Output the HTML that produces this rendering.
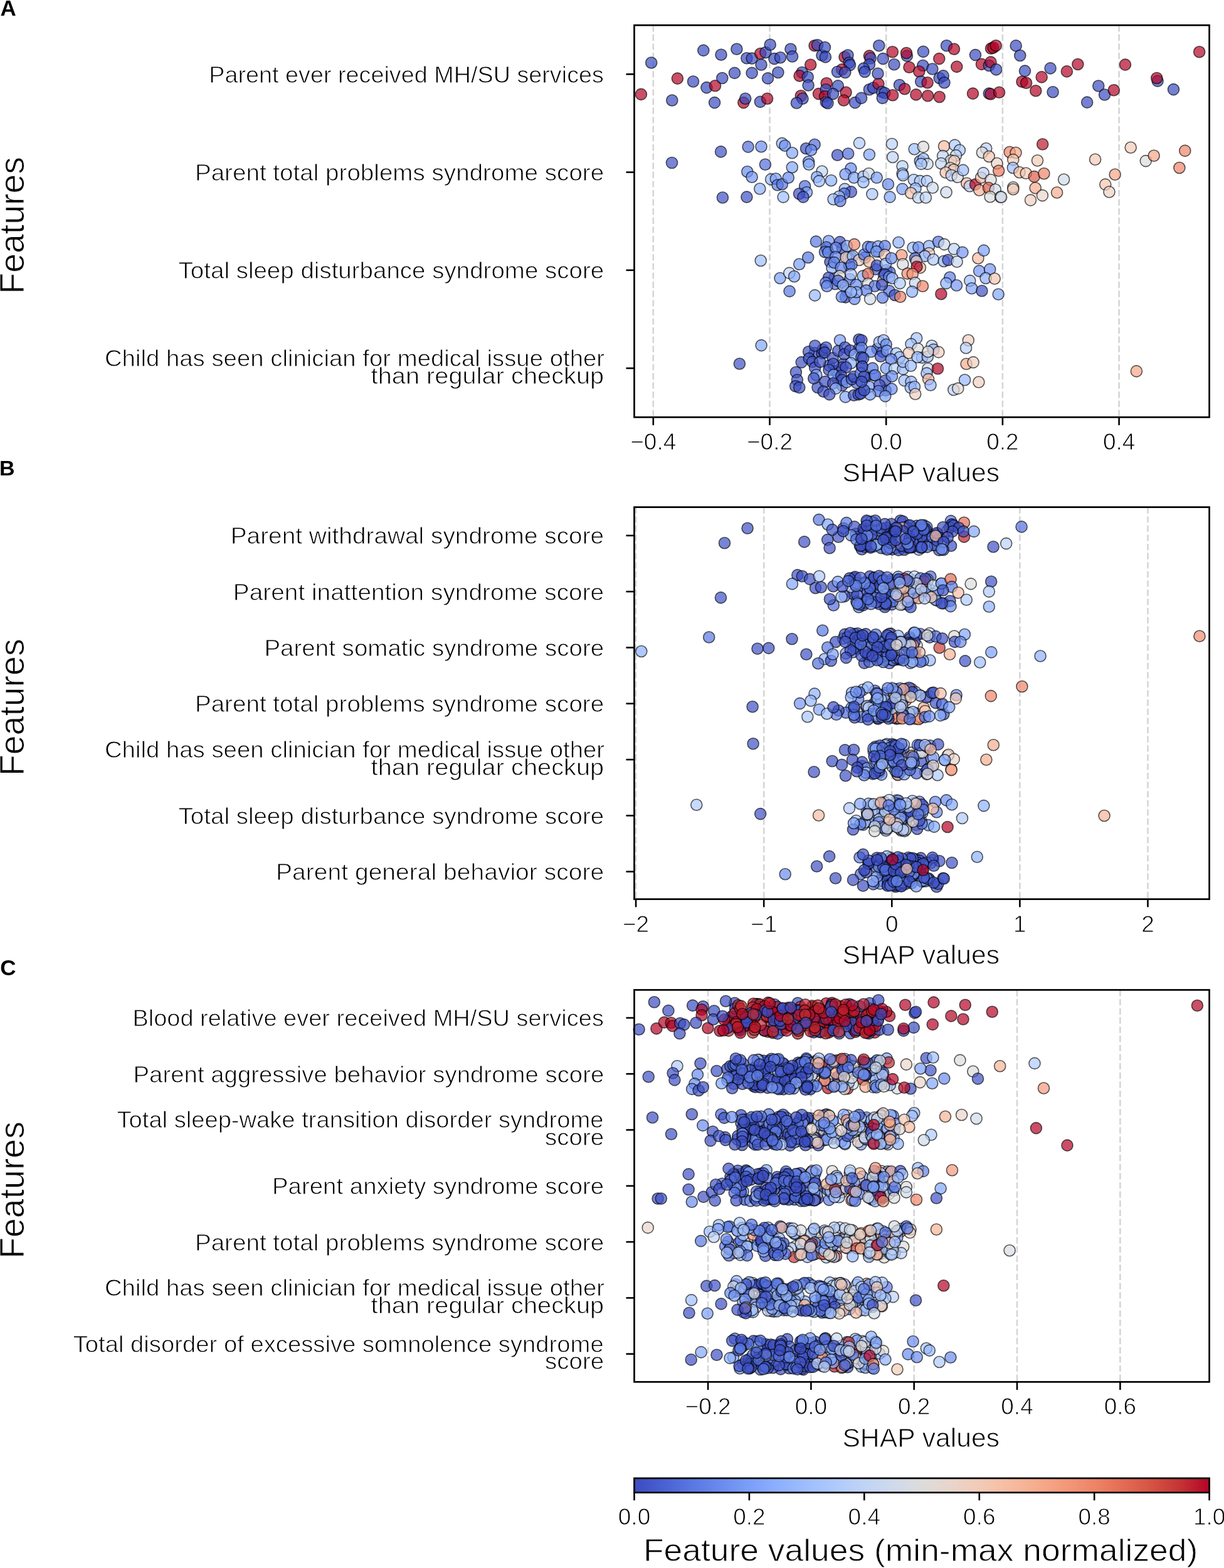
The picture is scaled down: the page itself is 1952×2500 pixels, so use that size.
<!DOCTYPE html>
<html><head><meta charset="utf-8"><title>SHAP summary</title>
<style>html,body{margin:0;padding:0;background:#fff;}svg{display:block;}text{font-family:"Liberation Sans", Arial, sans-serif;fill:#000;stroke:#fff;stroke-width:0.9px;} text.b{stroke:none;}</style>
</head><body>
<svg width="1952" height="2500" viewBox="0 0 1952 2500">
<rect width="1952" height="2500" fill="#fff"/>
<line x1="1041.8" y1="40.2" x2="1041.8" y2="665.2" stroke="#d5d5d5" stroke-width="2.6" stroke-dasharray="10.2 4.4"/>
<line x1="1227.5" y1="40.2" x2="1227.5" y2="665.2" stroke="#d5d5d5" stroke-width="2.6" stroke-dasharray="10.2 4.4"/>
<line x1="1413.2" y1="40.2" x2="1413.2" y2="665.2" stroke="#d5d5d5" stroke-width="2.6" stroke-dasharray="10.2 4.4"/>
<line x1="1598.9" y1="40.2" x2="1598.9" y2="665.2" stroke="#d5d5d5" stroke-width="2.6" stroke-dasharray="10.2 4.4"/>
<line x1="1784.6" y1="40.2" x2="1784.6" y2="665.2" stroke="#d5d5d5" stroke-width="2.6" stroke-dasharray="10.2 4.4"/>
<g stroke="#000" stroke-opacity="0.65" stroke-width="1.6" fill-opacity="0.7">
<circle cx="1022.4" cy="150.4" r="9.0" fill="#b40426"/>
<circle cx="1038.7" cy="100.0" r="9.0" fill="#3b4cc0"/>
<circle cx="1071.8" cy="160.0" r="9.0" fill="#3b4cc0"/>
<circle cx="1080.4" cy="125.1" r="9.0" fill="#b40426"/>
<circle cx="1105.5" cy="130.0" r="9.0" fill="#3b4cc0"/>
<circle cx="1121.8" cy="80.4" r="9.0" fill="#3b4cc0"/>
<circle cx="1126.9" cy="139.6" r="9.0" fill="#3b4cc0"/>
<circle cx="1140.5" cy="136.7" r="9.0" fill="#b40426"/>
<circle cx="1139.6" cy="163.6" r="9.0" fill="#3b4cc0"/>
<circle cx="1150.0" cy="87.3" r="9.0" fill="#3b4cc0"/>
<circle cx="1151.8" cy="124.5" r="9.0" fill="#3b4cc0"/>
<circle cx="1171.5" cy="116.4" r="9.0" fill="#3b4cc0"/>
<circle cx="1174.9" cy="78.2" r="9.0" fill="#3b4cc0"/>
<circle cx="1190.9" cy="92.7" r="9.0" fill="#3b4cc0"/>
<circle cx="1199.1" cy="93.1" r="9.0" fill="#3b4cc0"/>
<circle cx="1185.8" cy="163.6" r="9.0" fill="#b40426"/>
<circle cx="1188.7" cy="157.3" r="9.0" fill="#3b4cc0"/>
<circle cx="1199.1" cy="116.4" r="9.0" fill="#3b4cc0"/>
<circle cx="1212.7" cy="85.5" r="9.0" fill="#b40426"/>
<circle cx="1220.9" cy="83.6" r="9.0" fill="#3b4cc0"/>
<circle cx="1228.2" cy="71.3" r="9.0" fill="#3b4cc0"/>
<circle cx="1214.0" cy="103.3" r="9.0" fill="#3b4cc0"/>
<circle cx="1212.4" cy="162.4" r="9.0" fill="#3b4cc0"/>
<circle cx="1223.6" cy="157.3" r="9.0" fill="#b40426"/>
<circle cx="1224.5" cy="124.9" r="9.0" fill="#3b4cc0"/>
<circle cx="1234.9" cy="93.6" r="9.0" fill="#3b4cc0"/>
<circle cx="1244.5" cy="91.8" r="9.0" fill="#3b4cc0"/>
<circle cx="1240.9" cy="115.5" r="9.0" fill="#3b4cc0"/>
<circle cx="1260.9" cy="78.2" r="9.0" fill="#3b4cc0"/>
<circle cx="1263.6" cy="90.0" r="9.0" fill="#3b4cc0"/>
<circle cx="1292.7" cy="103.3" r="9.0" fill="#b40426"/>
<circle cx="1279.1" cy="115.5" r="9.0" fill="#3b4cc0"/>
<circle cx="1275.1" cy="120.9" r="9.0" fill="#b40426"/>
<circle cx="1288.2" cy="122.7" r="9.0" fill="#3b4cc0"/>
<circle cx="1289.1" cy="136.0" r="9.0" fill="#3b4cc0"/>
<circle cx="1277.3" cy="152.7" r="9.0" fill="#b40426"/>
<circle cx="1280.0" cy="157.3" r="9.0" fill="#3b4cc0"/>
<circle cx="1270.4" cy="164.2" r="9.0" fill="#3b4cc0"/>
<circle cx="1299.1" cy="72.7" r="9.0" fill="#b40426"/>
<circle cx="1303.6" cy="71.8" r="9.0" fill="#3b4cc0"/>
<circle cx="1310.9" cy="88.2" r="9.0" fill="#3b4cc0"/>
<circle cx="1305.5" cy="149.6" r="9.0" fill="#b40426"/>
<circle cx="1315.5" cy="75.5" r="9.0" fill="#3b4cc0"/>
<circle cx="1316.4" cy="90.9" r="9.0" fill="#3b4cc0"/>
<circle cx="1347.0" cy="91.0" r="9.0" fill="#b40426"/>
<circle cx="1352.0" cy="88.0" r="9.0" fill="#3b4cc0"/>
<circle cx="1354.0" cy="100.0" r="9.0" fill="#3b4cc0"/>
<circle cx="1355.5" cy="103.6" r="9.0" fill="#3b4cc0"/>
<circle cx="1342.7" cy="110.9" r="9.0" fill="#b40426"/>
<circle cx="1335.5" cy="114.5" r="9.0" fill="#3b4cc0"/>
<circle cx="1347.8" cy="115.5" r="9.0" fill="#3b4cc0"/>
<circle cx="1318.2" cy="132.7" r="9.0" fill="#b40426"/>
<circle cx="1336.4" cy="136.9" r="9.0" fill="#3b4cc0"/>
<circle cx="1317.3" cy="142.7" r="9.0" fill="#3b4cc0"/>
<circle cx="1315.5" cy="153.6" r="9.0" fill="#b40426"/>
<circle cx="1328.5" cy="149.6" r="9.0" fill="#3b4cc0"/>
<circle cx="1317.3" cy="162.7" r="9.0" fill="#3b4cc0"/>
<circle cx="1320.0" cy="164.5" r="9.0" fill="#3b4cc0"/>
<circle cx="1349.1" cy="147.3" r="9.0" fill="#b40426"/>
<circle cx="1345.5" cy="160.0" r="9.0" fill="#b40426"/>
<circle cx="1363.6" cy="163.6" r="9.0" fill="#3b4cc0"/>
<circle cx="1373.6" cy="156.4" r="9.0" fill="#3b4cc0"/>
<circle cx="1386.4" cy="142.7" r="9.0" fill="#3b4cc0"/>
<circle cx="1392.7" cy="140.0" r="9.0" fill="#3b4cc0"/>
<circle cx="1400.9" cy="133.6" r="9.0" fill="#b40426"/>
<circle cx="1406.4" cy="146.4" r="9.0" fill="#3b4cc0"/>
<circle cx="1410.9" cy="148.2" r="9.0" fill="#3b4cc0"/>
<circle cx="1407.3" cy="156.4" r="9.0" fill="#3b4cc0"/>
<circle cx="1423.6" cy="151.8" r="9.0" fill="#b40426"/>
<circle cx="1386.4" cy="89.1" r="9.0" fill="#b40426"/>
<circle cx="1388.2" cy="92.7" r="9.0" fill="#3b4cc0"/>
<circle cx="1386.4" cy="102.7" r="9.0" fill="#3b4cc0"/>
<circle cx="1377.3" cy="109.1" r="9.0" fill="#3b4cc0"/>
<circle cx="1379.1" cy="114.5" r="9.0" fill="#3b4cc0"/>
<circle cx="1400.0" cy="117.3" r="9.0" fill="#3b4cc0"/>
<circle cx="1401.8" cy="72.7" r="9.0" fill="#3b4cc0"/>
<circle cx="1408.2" cy="93.6" r="9.0" fill="#3b4cc0"/>
<circle cx="1423.3" cy="82.7" r="9.0" fill="#b40426"/>
<circle cx="1426.0" cy="102.7" r="9.0" fill="#3b4cc0"/>
<circle cx="1446.4" cy="89.1" r="9.0" fill="#3b4cc0"/>
<circle cx="1445.5" cy="84.5" r="9.0" fill="#b40426"/>
<circle cx="1472.4" cy="82.4" r="9.0" fill="#3b4cc0"/>
<circle cx="1450.0" cy="107.3" r="9.0" fill="#b40426"/>
<circle cx="1471.8" cy="104.5" r="9.0" fill="#3b4cc0"/>
<circle cx="1465.8" cy="114.0" r="9.0" fill="#b40426"/>
<circle cx="1486.9" cy="110.0" r="9.0" fill="#3b4cc0"/>
<circle cx="1497.8" cy="93.6" r="9.0" fill="#b40426"/>
<circle cx="1509.6" cy="72.7" r="9.0" fill="#3b4cc0"/>
<circle cx="1521.5" cy="78.2" r="9.0" fill="#b40426"/>
<circle cx="1525.8" cy="106.4" r="9.0" fill="#b40426"/>
<circle cx="1434.5" cy="135.5" r="9.0" fill="#3b4cc0"/>
<circle cx="1442.7" cy="141.8" r="9.0" fill="#b40426"/>
<circle cx="1468.7" cy="130.0" r="9.0" fill="#3b4cc0"/>
<circle cx="1479.1" cy="131.8" r="9.0" fill="#b40426"/>
<circle cx="1498.2" cy="124.5" r="9.0" fill="#3b4cc0"/>
<circle cx="1504.2" cy="120.9" r="9.0" fill="#3b4cc0"/>
<circle cx="1506.0" cy="131.8" r="9.0" fill="#3b4cc0"/>
<circle cx="1460.9" cy="150.9" r="9.0" fill="#b40426"/>
<circle cx="1479.6" cy="152.7" r="9.0" fill="#b40426"/>
<circle cx="1498.2" cy="154.5" r="9.0" fill="#b40426"/>
<circle cx="1555.5" cy="87.6" r="9.0" fill="#3b4cc0"/>
<circle cx="1580.5" cy="77.3" r="9.0" fill="#b40426"/>
<circle cx="1584.0" cy="76.0" r="9.0" fill="#b40426"/>
<circle cx="1588.2" cy="72.7" r="9.0" fill="#b40426"/>
<circle cx="1565.5" cy="102.4" r="9.0" fill="#b40426"/>
<circle cx="1577.3" cy="104.5" r="9.0" fill="#3b4cc0"/>
<circle cx="1580.0" cy="99.1" r="9.0" fill="#b40426"/>
<circle cx="1588.7" cy="110.9" r="9.0" fill="#3b4cc0"/>
<circle cx="1551.5" cy="149.1" r="9.0" fill="#b40426"/>
<circle cx="1577.3" cy="149.1" r="9.0" fill="#3b4cc0"/>
<circle cx="1580.0" cy="150.0" r="9.0" fill="#b40426"/>
<circle cx="1593.6" cy="147.3" r="9.0" fill="#b40426"/>
<circle cx="1620.2" cy="72.9" r="9.0" fill="#3b4cc0"/>
<circle cx="1626.8" cy="88.5" r="9.0" fill="#3b4cc0"/>
<circle cx="1634.5" cy="113.1" r="9.0" fill="#3b4cc0"/>
<circle cx="1630.0" cy="130.2" r="9.0" fill="#b40426"/>
<circle cx="1636.6" cy="132.2" r="9.0" fill="#b40426"/>
<circle cx="1661.2" cy="122.9" r="9.0" fill="#b40426"/>
<circle cx="1675.1" cy="108.9" r="9.0" fill="#3b4cc0"/>
<circle cx="1651.8" cy="144.7" r="9.0" fill="#b40426"/>
<circle cx="1679.1" cy="146.8" r="9.0" fill="#3b4cc0"/>
<circle cx="1701.4" cy="113.9" r="9.0" fill="#b40426"/>
<circle cx="1718.9" cy="102.5" r="9.0" fill="#b40426"/>
<circle cx="1751.8" cy="137.0" r="9.0" fill="#3b4cc0"/>
<circle cx="1761.6" cy="151.0" r="9.0" fill="#3b4cc0"/>
<circle cx="1776.3" cy="143.7" r="9.0" fill="#b40426"/>
<circle cx="1733.7" cy="163.1" r="9.0" fill="#3b4cc0"/>
<circle cx="1794.5" cy="103.1" r="9.0" fill="#b40426"/>
<circle cx="1846.1" cy="129.1" r="9.0" fill="#3b4cc0"/>
<circle cx="1844.8" cy="124.5" r="9.0" fill="#b40426"/>
<circle cx="1871.5" cy="142.6" r="9.0" fill="#3b4cc0"/>
<circle cx="1912.7" cy="82.7" r="9.0" fill="#b40426"/>
<circle cx="1071.5" cy="259.5" r="9.0" fill="#3e51c5"/>
<circle cx="1149.6" cy="241.9" r="9.0" fill="#3e51c5"/>
<circle cx="1152.4" cy="315.0" r="9.0" fill="#3e51c5"/>
<circle cx="1193.1" cy="234.1" r="9.0" fill="#536edd"/>
<circle cx="1214.0" cy="233.7" r="9.0" fill="#6a8bef"/>
<circle cx="1191.8" cy="273.7" r="9.0" fill="#6a8bef"/>
<circle cx="1199.1" cy="282.3" r="9.0" fill="#7597f6"/>
<circle cx="1220.4" cy="262.3" r="9.0" fill="#536edd"/>
<circle cx="1190.9" cy="314.1" r="9.0" fill="#3e51c5"/>
<circle cx="1211.8" cy="301.0" r="9.0" fill="#8db0fe"/>
<circle cx="1247.3" cy="228.6" r="9.0" fill="#9ebeff"/>
<circle cx="1251.8" cy="232.3" r="9.0" fill="#6a8bef"/>
<circle cx="1263.3" cy="243.7" r="9.0" fill="#82a6fb"/>
<circle cx="1263.3" cy="266.8" r="9.0" fill="#82a6fb"/>
<circle cx="1229.6" cy="285.9" r="9.0" fill="#97b8ff"/>
<circle cx="1237.3" cy="285.0" r="9.0" fill="#7b9ff9"/>
<circle cx="1240.0" cy="295.0" r="9.0" fill="#5f7fe8"/>
<circle cx="1247.3" cy="293.7" r="9.0" fill="#5977e3"/>
<circle cx="1257.3" cy="283.2" r="9.0" fill="#6a8bef"/>
<circle cx="1249.1" cy="314.1" r="9.0" fill="#9ebeff"/>
<circle cx="1285.5" cy="236.8" r="9.0" fill="#3e51c5"/>
<circle cx="1299.1" cy="230.5" r="9.0" fill="#536edd"/>
<circle cx="1293.6" cy="239.2" r="9.0" fill="#6a8bef"/>
<circle cx="1289.6" cy="257.7" r="9.0" fill="#6a8bef"/>
<circle cx="1290.0" cy="262.3" r="9.0" fill="#8db0fe"/>
<circle cx="1310.9" cy="273.2" r="9.0" fill="#c0d4f5"/>
<circle cx="1302.7" cy="282.3" r="9.0" fill="#82a6fb"/>
<circle cx="1306.4" cy="288.6" r="9.0" fill="#9ebeff"/>
<circle cx="1283.6" cy="296.8" r="9.0" fill="#536edd"/>
<circle cx="1286.4" cy="306.8" r="9.0" fill="#7b9ff9"/>
<circle cx="1274.5" cy="309.0" r="9.0" fill="#3e51c5"/>
<circle cx="1280.9" cy="314.1" r="9.0" fill="#3e51c5"/>
<circle cx="1370.5" cy="228.1" r="9.0" fill="#afcafc"/>
<circle cx="1335.5" cy="247.2" r="9.0" fill="#3e51c5"/>
<circle cx="1352.7" cy="245.0" r="9.0" fill="#536edd"/>
<circle cx="1386.4" cy="246.5" r="9.0" fill="#82a6fb"/>
<circle cx="1325.5" cy="287.7" r="9.0" fill="#8db0fe"/>
<circle cx="1356.9" cy="268.6" r="9.0" fill="#6a8bef"/>
<circle cx="1348.2" cy="277.7" r="9.0" fill="#7597f6"/>
<circle cx="1361.8" cy="283.2" r="9.0" fill="#82a6fb"/>
<circle cx="1376.9" cy="281.4" r="9.0" fill="#9ebeff"/>
<circle cx="1385.5" cy="276.8" r="9.0" fill="#cfdaea"/>
<circle cx="1376.9" cy="290.5" r="9.0" fill="#9ebeff"/>
<circle cx="1398.2" cy="283.2" r="9.0" fill="#7b9ff9"/>
<circle cx="1347.3" cy="301.4" r="9.0" fill="#9ebeff"/>
<circle cx="1357.3" cy="305.9" r="9.0" fill="#3e51c5"/>
<circle cx="1346.4" cy="308.6" r="9.0" fill="#536edd"/>
<circle cx="1338.2" cy="313.2" r="9.0" fill="#9ebeff"/>
<circle cx="1329.1" cy="317.7" r="9.0" fill="#9ebeff"/>
<circle cx="1340.0" cy="320.5" r="9.0" fill="#5977e3"/>
<circle cx="1390.9" cy="309.5" r="9.0" fill="#a9c6fd"/>
<circle cx="1422.4" cy="229.5" r="9.0" fill="#bad0f8"/>
<circle cx="1423.6" cy="250.5" r="9.0" fill="#c0d4f5"/>
<circle cx="1416.4" cy="293.7" r="9.0" fill="#6a8bef"/>
<circle cx="1419.1" cy="314.1" r="9.0" fill="#82a6fb"/>
<circle cx="1439.1" cy="265.0" r="9.0" fill="#bad0f8"/>
<circle cx="1439.1" cy="276.8" r="9.0" fill="#afcafc"/>
<circle cx="1440.0" cy="279.5" r="9.0" fill="#a9c6fd"/>
<circle cx="1439.1" cy="301.4" r="9.0" fill="#7b9ff9"/>
<circle cx="1458.2" cy="237.7" r="9.0" fill="#9ebeff"/>
<circle cx="1472.4" cy="234.1" r="9.0" fill="#dddcdc"/>
<circle cx="1467.3" cy="256.8" r="9.0" fill="#7b9ff9"/>
<circle cx="1472.7" cy="253.2" r="9.0" fill="#9ebeff"/>
<circle cx="1479.1" cy="261.4" r="9.0" fill="#cfdaea"/>
<circle cx="1469.1" cy="261.4" r="9.0" fill="#afcafc"/>
<circle cx="1457.3" cy="286.8" r="9.0" fill="#afcafc"/>
<circle cx="1467.3" cy="288.6" r="9.0" fill="#afcafc"/>
<circle cx="1478.2" cy="288.6" r="9.0" fill="#afcafc"/>
<circle cx="1460.0" cy="300.5" r="9.0" fill="#9ebeff"/>
<circle cx="1452.7" cy="307.7" r="9.0" fill="#f4c6af"/>
<circle cx="1464.5" cy="315.0" r="9.0" fill="#c0d4f5"/>
<circle cx="1476.4" cy="315.0" r="9.0" fill="#c0d4f5"/>
<circle cx="1487.3" cy="299.2" r="9.0" fill="#cfdaea"/>
<circle cx="1505.5" cy="233.2" r="9.0" fill="#f6bda2"/>
<circle cx="1522.7" cy="231.4" r="9.0" fill="#afcafc"/>
<circle cx="1530.4" cy="239.5" r="9.0" fill="#a9c6fd"/>
<circle cx="1503.6" cy="248.6" r="9.0" fill="#c0d4f5"/>
<circle cx="1524.5" cy="247.7" r="9.0" fill="#c0d4f5"/>
<circle cx="1516.4" cy="255.9" r="9.0" fill="#dddcdc"/>
<circle cx="1521.8" cy="256.8" r="9.0" fill="#f2cbb7"/>
<circle cx="1500.9" cy="260.5" r="9.0" fill="#c6d6f1"/>
<circle cx="1515.5" cy="267.7" r="9.0" fill="#dddcdc"/>
<circle cx="1520.9" cy="270.5" r="9.0" fill="#f4c6af"/>
<circle cx="1508.2" cy="275.0" r="9.0" fill="#f4c6af"/>
<circle cx="1517.3" cy="279.5" r="9.0" fill="#bad0f8"/>
<circle cx="1527.3" cy="282.3" r="9.0" fill="#d7dce3"/>
<circle cx="1535.8" cy="271.4" r="9.0" fill="#9ebeff"/>
<circle cx="1509.1" cy="306.5" r="9.0" fill="#cfdaea"/>
<circle cx="1541.8" cy="292.3" r="9.0" fill="#f6bda2"/>
<circle cx="1546.4" cy="296.8" r="9.0" fill="#bad0f8"/>
<circle cx="1555.5" cy="294.1" r="9.0" fill="#b40426"/>
<circle cx="1561.8" cy="303.2" r="9.0" fill="#f7b396"/>
<circle cx="1564.5" cy="283.2" r="9.0" fill="#f6bda2"/>
<circle cx="1568.2" cy="275.9" r="9.0" fill="#c0d4f5"/>
<circle cx="1580.0" cy="286.8" r="9.0" fill="#dddcdc"/>
<circle cx="1576.4" cy="299.5" r="9.0" fill="#dc5d4a"/>
<circle cx="1587.3" cy="302.3" r="9.0" fill="#cfdaea"/>
<circle cx="1579.1" cy="313.7" r="9.0" fill="#dddcdc"/>
<circle cx="1595.5" cy="314.1" r="9.0" fill="#dddcdc"/>
<circle cx="1572.7" cy="236.8" r="9.0" fill="#bad0f8"/>
<circle cx="1566.4" cy="243.2" r="9.0" fill="#dddcdc"/>
<circle cx="1577.3" cy="249.5" r="9.0" fill="#f4c6af"/>
<circle cx="1590.0" cy="260.5" r="9.0" fill="#e9d5cb"/>
<circle cx="1592.7" cy="272.3" r="9.0" fill="#ea7b60"/>
<circle cx="1610.2" cy="242.5" r="9.0" fill="#ee8468"/>
<circle cx="1620.0" cy="243.5" r="9.0" fill="#f6a586"/>
<circle cx="1615.8" cy="254.6" r="9.0" fill="#f2cbb7"/>
<circle cx="1615.4" cy="267.5" r="9.0" fill="#9ebeff"/>
<circle cx="1625.8" cy="274.7" r="9.0" fill="#f6bda2"/>
<circle cx="1636.2" cy="276.2" r="9.0" fill="#f2cbb7"/>
<circle cx="1649.3" cy="281.6" r="9.0" fill="#dc5d4a"/>
<circle cx="1664.9" cy="276.8" r="9.0" fill="#ee8468"/>
<circle cx="1654.5" cy="256.0" r="9.0" fill="#f2cbb7"/>
<circle cx="1662.7" cy="230.0" r="9.0" fill="#bb1b2c"/>
<circle cx="1615.8" cy="298.7" r="9.0" fill="#dddcdc"/>
<circle cx="1615.8" cy="301.8" r="9.0" fill="#f4c6af"/>
<circle cx="1651.2" cy="299.7" r="9.0" fill="#f7ac8e"/>
<circle cx="1662.4" cy="311.6" r="9.0" fill="#e9d5cb"/>
<circle cx="1643.5" cy="319.1" r="9.0" fill="#efcfbf"/>
<circle cx="1685.6" cy="307.0" r="9.0" fill="#f7ac8e"/>
<circle cx="1696.6" cy="286.2" r="9.0" fill="#cfdaea"/>
<circle cx="1596.7" cy="314.3" r="9.0" fill="#cfdaea"/>
<circle cx="1746.6" cy="254.3" r="9.0" fill="#f2cbb7"/>
<circle cx="1778.2" cy="278.3" r="9.0" fill="#f6a586"/>
<circle cx="1762.8" cy="294.1" r="9.0" fill="#f4c6af"/>
<circle cx="1769.0" cy="306.0" r="9.0" fill="#edd2c3"/>
<circle cx="1803.2" cy="235.2" r="9.0" fill="#f2cbb7"/>
<circle cx="1827.3" cy="256.6" r="9.0" fill="#dddcdc"/>
<circle cx="1840.2" cy="248.3" r="9.0" fill="#f6a586"/>
<circle cx="1889.8" cy="240.4" r="9.0" fill="#ee8468"/>
<circle cx="1880.9" cy="267.5" r="9.0" fill="#ee8468"/>
<circle cx="1357.4" cy="409.6" r="9.0" fill="#3d50c3"/>
<circle cx="1341.1" cy="450.5" r="9.0" fill="#3d50c3"/>
<circle cx="1355.2" cy="445.0" r="9.0" fill="#536edd"/>
<circle cx="1413.5" cy="430.7" r="9.0" fill="#4e68d8"/>
<circle cx="1379.4" cy="410.8" r="9.0" fill="#6485ec"/>
<circle cx="1354.3" cy="423.3" r="9.0" fill="#5a78e4"/>
<circle cx="1331.0" cy="443.2" r="9.0" fill="#6282ea"/>
<circle cx="1350.6" cy="464.1" r="9.0" fill="#536edd"/>
<circle cx="1396.3" cy="429.2" r="9.0" fill="#4c66d6"/>
<circle cx="1343.3" cy="395.6" r="9.0" fill="#3d50c3"/>
<circle cx="1418.9" cy="434.0" r="9.0" fill="#4f69d9"/>
<circle cx="1409.5" cy="439.2" r="9.0" fill="#688aef"/>
<circle cx="1352.5" cy="410.8" r="9.0" fill="#6687ed"/>
<circle cx="1331.9" cy="452.8" r="9.0" fill="#5572df"/>
<circle cx="1418.2" cy="463.9" r="9.0" fill="#5977e3"/>
<circle cx="1318.9" cy="396.7" r="9.0" fill="#506bda"/>
<circle cx="1401.1" cy="400.9" r="9.0" fill="#4e68d8"/>
<circle cx="1324.0" cy="417.6" r="9.0" fill="#3b4cc0"/>
<circle cx="1213.2" cy="415.5" r="9.0" fill="#9ebeff"/>
<circle cx="1244.0" cy="443.5" r="9.0" fill="#7b9ff9"/>
<circle cx="1258.8" cy="435.4" r="9.0" fill="#c0d4f5"/>
<circle cx="1266.6" cy="440.8" r="9.0" fill="#82a6fb"/>
<circle cx="1274.7" cy="421.3" r="9.0" fill="#7b9ff9"/>
<circle cx="1288.7" cy="410.5" r="9.0" fill="#5977e3"/>
<circle cx="1259.1" cy="464.4" r="9.0" fill="#5977e3"/>
<circle cx="1299.5" cy="470.9" r="9.0" fill="#97b8ff"/>
<circle cx="1301.4" cy="385.1" r="9.0" fill="#5977e3"/>
<circle cx="1321.5" cy="384.2" r="9.0" fill="#7597f6"/>
<circle cx="1339.5" cy="385.9" r="9.0" fill="#3e51c5"/>
<circle cx="1317.9" cy="394.3" r="9.0" fill="#5f7fe8"/>
<circle cx="1315.5" cy="401.7" r="9.0" fill="#5977e3"/>
<circle cx="1320.9" cy="402.4" r="9.0" fill="#6a8bef"/>
<circle cx="1333.0" cy="395.0" r="9.0" fill="#5f7fe8"/>
<circle cx="1350.5" cy="392.3" r="9.0" fill="#8db0fe"/>
<circle cx="1362.4" cy="389.6" r="9.0" fill="#f18d6f"/>
<circle cx="1332.7" cy="409.8" r="9.0" fill="#5f7fe8"/>
<circle cx="1349.2" cy="410.5" r="9.0" fill="#efcfbf"/>
<circle cx="1360.2" cy="408.4" r="9.0" fill="#9ebeff"/>
<circle cx="1370.1" cy="414.5" r="9.0" fill="#efcfbf"/>
<circle cx="1378.2" cy="405.7" r="9.0" fill="#5977e3"/>
<circle cx="1386.3" cy="417.2" r="9.0" fill="#f6bda2"/>
<circle cx="1384.3" cy="393.6" r="9.0" fill="#5f7fe8"/>
<circle cx="1389.7" cy="394.3" r="9.0" fill="#6a8bef"/>
<circle cx="1400.4" cy="392.9" r="9.0" fill="#7b9ff9"/>
<circle cx="1411.2" cy="392.3" r="9.0" fill="#5f7fe8"/>
<circle cx="1397.7" cy="401.0" r="9.0" fill="#7b9ff9"/>
<circle cx="1411.2" cy="406.4" r="9.0" fill="#f2cbb7"/>
<circle cx="1326.9" cy="427.3" r="9.0" fill="#8db0fe"/>
<circle cx="1330.3" cy="418.6" r="9.0" fill="#6a8bef"/>
<circle cx="1341.1" cy="426.7" r="9.0" fill="#5f7fe8"/>
<circle cx="1358.0" cy="421.9" r="9.0" fill="#5977e3"/>
<circle cx="1357.0" cy="437.4" r="9.0" fill="#afcafc"/>
<circle cx="1339.1" cy="440.1" r="9.0" fill="#e2dad5"/>
<circle cx="1321.5" cy="442.8" r="9.0" fill="#3c4ec2"/>
<circle cx="1336.4" cy="447.6" r="9.0" fill="#536edd"/>
<circle cx="1316.8" cy="450.9" r="9.0" fill="#5977e3"/>
<circle cx="1318.8" cy="456.3" r="9.0" fill="#6a8bef"/>
<circle cx="1344.5" cy="455.0" r="9.0" fill="#97b8ff"/>
<circle cx="1365.4" cy="454.3" r="9.0" fill="#6a8bef"/>
<circle cx="1376.2" cy="440.1" r="9.0" fill="#8db0fe"/>
<circle cx="1384.3" cy="436.8" r="9.0" fill="#e36c55"/>
<circle cx="1398.4" cy="423.3" r="9.0" fill="#3e51c5"/>
<circle cx="1412.6" cy="420.6" r="9.0" fill="#9ebeff"/>
<circle cx="1384.3" cy="452.3" r="9.0" fill="#dddcdc"/>
<circle cx="1407.9" cy="448.2" r="9.0" fill="#e9d5cb"/>
<circle cx="1411.2" cy="437.4" r="9.0" fill="#3e51c5"/>
<circle cx="1395.0" cy="456.3" r="9.0" fill="#5977e3"/>
<circle cx="1381.6" cy="463.1" r="9.0" fill="#5f7fe8"/>
<circle cx="1406.5" cy="454.3" r="9.0" fill="#3e51c5"/>
<circle cx="1348.5" cy="473.9" r="9.0" fill="#3e51c5"/>
<circle cx="1342.4" cy="473.2" r="9.0" fill="#6a8bef"/>
<circle cx="1362.7" cy="476.6" r="9.0" fill="#6a8bef"/>
<circle cx="1366.0" cy="465.8" r="9.0" fill="#7b9ff9"/>
<circle cx="1357.3" cy="465.8" r="9.0" fill="#9ebeff"/>
<circle cx="1387.6" cy="476.6" r="9.0" fill="#cfdaea"/>
<circle cx="1407.5" cy="474.5" r="9.0" fill="#5f7fe8"/>
<circle cx="1418.0" cy="441.5" r="9.0" fill="#6a8bef"/>
<circle cx="1433.0" cy="386.5" r="9.0" fill="#8db0fe"/>
<circle cx="1437.8" cy="406.7" r="9.0" fill="#f4987a"/>
<circle cx="1439.8" cy="421.3" r="9.0" fill="#d7dce3"/>
<circle cx="1456.0" cy="395.0" r="9.0" fill="#9ebeff"/>
<circle cx="1464.8" cy="394.3" r="9.0" fill="#6a8bef"/>
<circle cx="1481.6" cy="392.3" r="9.0" fill="#8db0fe"/>
<circle cx="1496.5" cy="385.5" r="9.0" fill="#5977e3"/>
<circle cx="1505.9" cy="389.6" r="9.0" fill="#cfdaea"/>
<circle cx="1521.4" cy="397.0" r="9.0" fill="#c0d4f5"/>
<circle cx="1534.9" cy="402.4" r="9.0" fill="#7597f6"/>
<circle cx="1481.6" cy="403.7" r="9.0" fill="#f2cbb7"/>
<circle cx="1474.9" cy="408.4" r="9.0" fill="#8db0fe"/>
<circle cx="1488.4" cy="413.8" r="9.0" fill="#afcafc"/>
<circle cx="1459.4" cy="411.8" r="9.0" fill="#3e51c5"/>
<circle cx="1461.4" cy="416.5" r="9.0" fill="#e9d5cb"/>
<circle cx="1467.4" cy="426.7" r="9.0" fill="#f6bda2"/>
<circle cx="1462.1" cy="425.3" r="9.0" fill="#b40426"/>
<circle cx="1505.2" cy="416.5" r="9.0" fill="#97b8ff"/>
<circle cx="1512.0" cy="414.5" r="9.0" fill="#3e51c5"/>
<circle cx="1526.1" cy="417.2" r="9.0" fill="#c6d6f1"/>
<circle cx="1447.2" cy="436.1" r="9.0" fill="#f18d6f"/>
<circle cx="1455.3" cy="436.8" r="9.0" fill="#f4987a"/>
<circle cx="1422.9" cy="443.5" r="9.0" fill="#9ebeff"/>
<circle cx="1435.1" cy="451.6" r="9.0" fill="#afcafc"/>
<circle cx="1459.4" cy="450.9" r="9.0" fill="#c6d6f1"/>
<circle cx="1471.5" cy="456.3" r="9.0" fill="#ee8468"/>
<circle cx="1454.6" cy="465.1" r="9.0" fill="#8db0fe"/>
<circle cx="1427.0" cy="470.5" r="9.0" fill="#3e51c5"/>
<circle cx="1435.7" cy="473.2" r="9.0" fill="#ee8468"/>
<circle cx="1500.9" cy="468.7" r="9.0" fill="#b40426"/>
<circle cx="1514.7" cy="442.2" r="9.0" fill="#5f7fe8"/>
<circle cx="1509.0" cy="451.6" r="9.0" fill="#8db0fe"/>
<circle cx="1525.5" cy="455.0" r="9.0" fill="#7597f6"/>
<circle cx="1546.8" cy="447.6" r="9.0" fill="#9ebeff"/>
<circle cx="1549.7" cy="459.7" r="9.0" fill="#82a6fb"/>
<circle cx="1565.9" cy="463.8" r="9.0" fill="#3e51c5"/>
<circle cx="1561.6" cy="432.1" r="9.0" fill="#7597f6"/>
<circle cx="1578.7" cy="429.4" r="9.0" fill="#7597f6"/>
<circle cx="1572.0" cy="443.5" r="9.0" fill="#8db0fe"/>
<circle cx="1586.2" cy="444.2" r="9.0" fill="#f4c6af"/>
<circle cx="1559.9" cy="411.8" r="9.0" fill="#f6bda2"/>
<circle cx="1568.9" cy="399.4" r="9.0" fill="#7b9ff9"/>
<circle cx="1592.2" cy="469.2" r="9.0" fill="#82a6fb"/>
<circle cx="1421.6" cy="411.8" r="9.0" fill="#6a8bef"/>
<circle cx="1332.8" cy="591.8" r="9.0" fill="#3c4ec2"/>
<circle cx="1399.1" cy="556.2" r="9.0" fill="#3c4ec2"/>
<circle cx="1322.3" cy="582.7" r="9.0" fill="#4c66d6"/>
<circle cx="1336.3" cy="604.8" r="9.0" fill="#506bda"/>
<circle cx="1304.0" cy="617.7" r="9.0" fill="#3e51c5"/>
<circle cx="1393.3" cy="598.2" r="9.0" fill="#3d50c3"/>
<circle cx="1299.0" cy="562.9" r="9.0" fill="#3c4ec2"/>
<circle cx="1310.8" cy="563.1" r="9.0" fill="#3c4ec2"/>
<circle cx="1366.3" cy="610.6" r="9.0" fill="#4e68d8"/>
<circle cx="1407.7" cy="560.9" r="9.0" fill="#4e68d8"/>
<circle cx="1312.0" cy="557.5" r="9.0" fill="#3c4ec2"/>
<circle cx="1369.9" cy="555.6" r="9.0" fill="#3c4ec2"/>
<circle cx="1342.9" cy="614.5" r="9.0" fill="#3d50c3"/>
<circle cx="1345.0" cy="580.2" r="9.0" fill="#3b4cc0"/>
<circle cx="1412.5" cy="622.2" r="9.0" fill="#3f53c6"/>
<circle cx="1342.8" cy="585.7" r="9.0" fill="#3c4ec2"/>
<circle cx="1379.9" cy="601.7" r="9.0" fill="#3c4ec2"/>
<circle cx="1411.8" cy="606.8" r="9.0" fill="#3c4ec2"/>
<circle cx="1179.4" cy="580.0" r="9.0" fill="#3e51c5"/>
<circle cx="1214.1" cy="550.6" r="9.0" fill="#82a6fb"/>
<circle cx="1269.4" cy="593.5" r="9.0" fill="#3e51c5"/>
<circle cx="1271.4" cy="605.7" r="9.0" fill="#3e51c5"/>
<circle cx="1268.7" cy="615.7" r="9.0" fill="#3e51c5"/>
<circle cx="1274.8" cy="617.8" r="9.0" fill="#3c4ec2"/>
<circle cx="1278.2" cy="577.6" r="9.0" fill="#3e51c5"/>
<circle cx="1289.6" cy="560.7" r="9.0" fill="#3e51c5"/>
<circle cx="1299.7" cy="551.3" r="9.0" fill="#3e51c5"/>
<circle cx="1290.3" cy="571.5" r="9.0" fill="#3c4ec2"/>
<circle cx="1295.7" cy="576.9" r="9.0" fill="#3c4ec2"/>
<circle cx="1299.7" cy="586.4" r="9.0" fill="#3e51c5"/>
<circle cx="1307.8" cy="576.9" r="9.0" fill="#3e51c5"/>
<circle cx="1301.8" cy="597.8" r="9.0" fill="#7b9ff9"/>
<circle cx="1297.7" cy="603.2" r="9.0" fill="#3e51c5"/>
<circle cx="1317.3" cy="554.0" r="9.0" fill="#3e51c5"/>
<circle cx="1315.3" cy="562.1" r="9.0" fill="#3c4ec2"/>
<circle cx="1328.1" cy="570.9" r="9.0" fill="#3e51c5"/>
<circle cx="1328.7" cy="580.3" r="9.0" fill="#3e51c5"/>
<circle cx="1322.0" cy="589.7" r="9.0" fill="#3e51c5"/>
<circle cx="1329.4" cy="597.8" r="9.0" fill="#7b9ff9"/>
<circle cx="1336.8" cy="559.4" r="9.0" fill="#3e51c5"/>
<circle cx="1339.5" cy="542.5" r="9.0" fill="#7b9ff9"/>
<circle cx="1347.6" cy="554.0" r="9.0" fill="#3e51c5"/>
<circle cx="1346.3" cy="564.8" r="9.0" fill="#3e51c5"/>
<circle cx="1355.7" cy="558.7" r="9.0" fill="#3c4ec2"/>
<circle cx="1363.1" cy="565.5" r="9.0" fill="#82a6fb"/>
<circle cx="1357.1" cy="579.0" r="9.0" fill="#8db0fe"/>
<circle cx="1349.0" cy="585.7" r="9.0" fill="#3e51c5"/>
<circle cx="1341.6" cy="599.2" r="9.0" fill="#3c4ec2"/>
<circle cx="1342.9" cy="605.9" r="9.0" fill="#3e51c5"/>
<circle cx="1350.3" cy="609.3" r="9.0" fill="#7b9ff9"/>
<circle cx="1358.4" cy="604.6" r="9.0" fill="#3e51c5"/>
<circle cx="1361.8" cy="600.5" r="9.0" fill="#3c4ec2"/>
<circle cx="1315.9" cy="608.6" r="9.0" fill="#3e51c5"/>
<circle cx="1328.7" cy="611.3" r="9.0" fill="#3c4ec2"/>
<circle cx="1332.8" cy="619.4" r="9.0" fill="#8db0fe"/>
<circle cx="1313.2" cy="624.2" r="9.0" fill="#3c4ec2"/>
<circle cx="1322.7" cy="628.9" r="9.0" fill="#3e51c5"/>
<circle cx="1348.3" cy="632.9" r="9.0" fill="#82a6fb"/>
<circle cx="1361.8" cy="630.2" r="9.0" fill="#3e51c5"/>
<circle cx="1369.2" cy="628.9" r="9.0" fill="#3c4ec2"/>
<circle cx="1369.9" cy="541.2" r="9.0" fill="#3e51c5"/>
<circle cx="1373.9" cy="542.5" r="9.0" fill="#3c4ec2"/>
<circle cx="1373.9" cy="554.7" r="9.0" fill="#6a8bef"/>
<circle cx="1373.9" cy="569.5" r="9.0" fill="#3e51c5"/>
<circle cx="1374.6" cy="584.4" r="9.0" fill="#3e51c5"/>
<circle cx="1372.6" cy="595.1" r="9.0" fill="#6a8bef"/>
<circle cx="1402.4" cy="545.2" r="9.0" fill="#9ebeff"/>
<circle cx="1409.1" cy="542.5" r="9.0" fill="#9ebeff"/>
<circle cx="1413.2" cy="549.3" r="9.0" fill="#6a8bef"/>
<circle cx="1388.9" cy="560.7" r="9.0" fill="#6a8bef"/>
<circle cx="1404.4" cy="568.2" r="9.0" fill="#3e51c5"/>
<circle cx="1414.5" cy="559.4" r="9.0" fill="#7b9ff9"/>
<circle cx="1429.4" cy="563.4" r="9.0" fill="#afcafc"/>
<circle cx="1434.8" cy="569.5" r="9.0" fill="#9ebeff"/>
<circle cx="1421.3" cy="572.9" r="9.0" fill="#5f7fe8"/>
<circle cx="1376.7" cy="570.9" r="9.0" fill="#3e51c5"/>
<circle cx="1375.4" cy="584.4" r="9.0" fill="#3e51c5"/>
<circle cx="1391.6" cy="587.1" r="9.0" fill="#5977e3"/>
<circle cx="1413.2" cy="587.1" r="9.0" fill="#7b9ff9"/>
<circle cx="1426.7" cy="587.7" r="9.0" fill="#c0d4f5"/>
<circle cx="1440.1" cy="588.4" r="9.0" fill="#9ebeff"/>
<circle cx="1440.1" cy="576.9" r="9.0" fill="#9ebeff"/>
<circle cx="1452.6" cy="583.3" r="9.0" fill="#9ebeff"/>
<circle cx="1395.6" cy="598.5" r="9.0" fill="#6a8bef"/>
<circle cx="1422.6" cy="599.9" r="9.0" fill="#6a8bef"/>
<circle cx="1378.1" cy="600.5" r="9.0" fill="#3e51c5"/>
<circle cx="1386.2" cy="616.7" r="9.0" fill="#7b9ff9"/>
<circle cx="1402.4" cy="614.0" r="9.0" fill="#3e51c5"/>
<circle cx="1401.0" cy="623.5" r="9.0" fill="#5977e3"/>
<circle cx="1421.9" cy="620.1" r="9.0" fill="#6a8bef"/>
<circle cx="1411.8" cy="631.6" r="9.0" fill="#7b9ff9"/>
<circle cx="1387.5" cy="628.9" r="9.0" fill="#7b9ff9"/>
<circle cx="1372.7" cy="627.5" r="9.0" fill="#3c4ec2"/>
<circle cx="1378.1" cy="622.1" r="9.0" fill="#3c4ec2"/>
<circle cx="1374.0" cy="608.6" r="9.0" fill="#3e51c5"/>
<circle cx="1461.7" cy="539.2" r="9.0" fill="#a5c3fe"/>
<circle cx="1453.0" cy="548.6" r="9.0" fill="#9ebeff"/>
<circle cx="1463.8" cy="556.0" r="9.0" fill="#dddcdc"/>
<circle cx="1449.3" cy="562.8" r="9.0" fill="#efcfbf"/>
<circle cx="1470.5" cy="570.2" r="9.0" fill="#9ebeff"/>
<circle cx="1463.1" cy="569.5" r="9.0" fill="#9ebeff"/>
<circle cx="1479.3" cy="568.8" r="9.0" fill="#9ebeff"/>
<circle cx="1486.0" cy="551.3" r="9.0" fill="#bad0f8"/>
<circle cx="1488.7" cy="557.4" r="9.0" fill="#97b8ff"/>
<circle cx="1496.8" cy="561.4" r="9.0" fill="#efcfbf"/>
<circle cx="1479.9" cy="560.7" r="9.0" fill="#e2dad5"/>
<circle cx="1479.9" cy="587.7" r="9.0" fill="#cfdaea"/>
<circle cx="1477.9" cy="595.1" r="9.0" fill="#9ebeff"/>
<circle cx="1495.5" cy="587.7" r="9.0" fill="#b40426"/>
<circle cx="1480.6" cy="604.6" r="9.0" fill="#f7b396"/>
<circle cx="1484.0" cy="614.0" r="9.0" fill="#97b8ff"/>
<circle cx="1442.2" cy="606.6" r="9.0" fill="#9ebeff"/>
<circle cx="1453.0" cy="608.6" r="9.0" fill="#97b8ff"/>
<circle cx="1452.3" cy="618.1" r="9.0" fill="#97b8ff"/>
<circle cx="1458.4" cy="616.7" r="9.0" fill="#97b8ff"/>
<circle cx="1459.7" cy="628.2" r="9.0" fill="#efcfbf"/>
<circle cx="1544.3" cy="542.5" r="9.0" fill="#efcfbf"/>
<circle cx="1540.6" cy="554.7" r="9.0" fill="#bad0f8"/>
<circle cx="1541.1" cy="580.3" r="9.0" fill="#f7ac8e"/>
<circle cx="1552.1" cy="577.6" r="9.0" fill="#efcfbf"/>
<circle cx="1538.6" cy="605.7" r="9.0" fill="#97b8ff"/>
<circle cx="1560.9" cy="609.3" r="9.0" fill="#efcfbf"/>
<circle cx="1520.8" cy="621.5" r="9.0" fill="#bad0f8"/>
<circle cx="1527.8" cy="619.4" r="9.0" fill="#e2dad5"/>
<circle cx="1812.4" cy="591.9" r="9.0" fill="#f6a586"/>
</g>
<rect x="1011.5" y="40.2" width="917.1" height="625.0" fill="none" stroke="#000" stroke-width="2.7"/>
<line x1="1041.8" y1="665.2" x2="1041.8" y2="677.9" stroke="#000" stroke-width="2.6"/>
<text x="1041.8" y="717.2" font-size="37" text-anchor="middle">−0.4</text>
<line x1="1227.5" y1="665.2" x2="1227.5" y2="677.9" stroke="#000" stroke-width="2.6"/>
<text x="1227.5" y="717.2" font-size="37" text-anchor="middle">−0.2</text>
<line x1="1413.2" y1="665.2" x2="1413.2" y2="677.9" stroke="#000" stroke-width="2.6"/>
<text x="1413.2" y="717.2" font-size="37" text-anchor="middle">0.0</text>
<line x1="1598.9" y1="665.2" x2="1598.9" y2="677.9" stroke="#000" stroke-width="2.6"/>
<text x="1598.9" y="717.2" font-size="37" text-anchor="middle">0.2</text>
<line x1="1784.6" y1="665.2" x2="1784.6" y2="677.9" stroke="#000" stroke-width="2.6"/>
<text x="1784.6" y="717.2" font-size="37" text-anchor="middle">0.4</text>
<text x="1343.4" y="768.4" font-size="42" textLength="250.8" lengthAdjust="spacingAndGlyphs" font-weight="normal">SHAP values</text>
<line x1="998.5" y1="118.3" x2="1011.5" y2="118.3" stroke="#000" stroke-width="2.6"/>
<text x="333.3" y="131.7" font-size="37.5" textLength="629.6" lengthAdjust="spacingAndGlyphs" font-weight="normal">Parent ever received MH/SU services</text>
<line x1="998.5" y1="274.6" x2="1011.5" y2="274.6" stroke="#000" stroke-width="2.6"/>
<text x="310.9" y="288.0" font-size="37.5" textLength="652.3" lengthAdjust="spacingAndGlyphs" font-weight="normal">Parent total problems syndrome score</text>
<line x1="998.5" y1="430.8" x2="1011.5" y2="430.8" stroke="#000" stroke-width="2.6"/>
<text x="284.6" y="444.2" font-size="37.5" textLength="678.6" lengthAdjust="spacingAndGlyphs" font-weight="normal">Total sleep disturbance syndrome score</text>
<line x1="998.5" y1="587.1" x2="1011.5" y2="587.1" stroke="#000" stroke-width="2.6"/>
<text x="166.9" y="584.0" font-size="37.5" textLength="797.2" lengthAdjust="spacingAndGlyphs" font-weight="normal">Child has seen clinician for medical issue other</text>
<text x="591.6" y="611.7" font-size="37.5" textLength="371.6" lengthAdjust="spacingAndGlyphs" font-weight="normal">than regular checkup</text>
<text transform="translate(38.3,468.7) rotate(-90)" x="0" y="0" font-size="55" textLength="218.7" lengthAdjust="spacingAndGlyphs">Features</text>
<text x="0.4" y="24.6" font-size="35" font-weight="bold" class="b">A</text>
<line x1="1014.1" y1="808.6" x2="1014.1" y2="1433.6" stroke="#d5d5d5" stroke-width="2.6" stroke-dasharray="10.2 4.4"/>
<line x1="1218.2" y1="808.6" x2="1218.2" y2="1433.6" stroke="#d5d5d5" stroke-width="2.6" stroke-dasharray="10.2 4.4"/>
<line x1="1422.3" y1="808.6" x2="1422.3" y2="1433.6" stroke="#d5d5d5" stroke-width="2.6" stroke-dasharray="10.2 4.4"/>
<line x1="1626.4" y1="808.6" x2="1626.4" y2="1433.6" stroke="#d5d5d5" stroke-width="2.6" stroke-dasharray="10.2 4.4"/>
<line x1="1830.5" y1="808.6" x2="1830.5" y2="1433.6" stroke="#d5d5d5" stroke-width="2.6" stroke-dasharray="10.2 4.4"/>
<g stroke="#000" stroke-opacity="0.65" stroke-width="1.6" fill-opacity="0.7">
<circle cx="1488.0" cy="866.6" r="9.0" fill="#3e51c5"/>
<circle cx="1495.2" cy="851.5" r="9.0" fill="#4e68d8"/>
<circle cx="1439.0" cy="870.1" r="9.0" fill="#4c66d6"/>
<circle cx="1436.0" cy="830.0" r="9.0" fill="#3f53c6"/>
<circle cx="1444.4" cy="873.2" r="9.0" fill="#3b4cc0"/>
<circle cx="1537.5" cy="855.9" r="9.0" fill="#be242e"/>
<circle cx="1439.8" cy="831.3" r="9.0" fill="#3d50c3"/>
<circle cx="1476.1" cy="853.7" r="9.0" fill="#3c4ec2"/>
<circle cx="1439.7" cy="843.9" r="9.0" fill="#4f69d9"/>
<circle cx="1479.0" cy="856.7" r="9.0" fill="#3c4ec2"/>
<circle cx="1519.1" cy="835.7" r="9.0" fill="#3f53c6"/>
<circle cx="1425.8" cy="864.1" r="9.0" fill="#be242e"/>
<circle cx="1462.3" cy="844.5" r="9.0" fill="#506bda"/>
<circle cx="1371.3" cy="870.6" r="9.0" fill="#3e51c5"/>
<circle cx="1462.8" cy="868.2" r="9.0" fill="#3c4ec2"/>
<circle cx="1437.2" cy="856.3" r="9.0" fill="#3f53c6"/>
<circle cx="1395.9" cy="854.3" r="9.0" fill="#3e51c5"/>
<circle cx="1464.3" cy="848.8" r="9.0" fill="#3b4cc0"/>
<circle cx="1497.6" cy="877.1" r="9.0" fill="#3d50c3"/>
<circle cx="1448.9" cy="838.1" r="9.0" fill="#536edd"/>
<circle cx="1437.2" cy="871.2" r="9.0" fill="#3e51c5"/>
<circle cx="1374.4" cy="875.7" r="9.0" fill="#3d50c3"/>
<circle cx="1423.1" cy="875.9" r="9.0" fill="#4e68d8"/>
<circle cx="1486.3" cy="869.3" r="9.0" fill="#afcafc"/>
<circle cx="1449.8" cy="856.9" r="9.0" fill="#3b4cc0"/>
<circle cx="1379.3" cy="871.7" r="9.0" fill="#3c4ec2"/>
<circle cx="1378.2" cy="847.1" r="9.0" fill="#3e51c5"/>
<circle cx="1428.5" cy="859.9" r="9.0" fill="#3d50c3"/>
<circle cx="1462.0" cy="838.4" r="9.0" fill="#4f69d9"/>
<circle cx="1435.7" cy="868.3" r="9.0" fill="#7396f5"/>
<circle cx="1427.1" cy="862.3" r="9.0" fill="#3b4cc0"/>
<circle cx="1516.4" cy="830.6" r="9.0" fill="#5d7ce6"/>
<circle cx="1478.7" cy="846.5" r="9.0" fill="#3b4cc0"/>
<circle cx="1470.0" cy="855.3" r="9.0" fill="#3c4ec2"/>
<circle cx="1418.2" cy="845.4" r="9.0" fill="#3b4cc0"/>
<circle cx="1381.9" cy="848.5" r="9.0" fill="#3c4ec2"/>
<circle cx="1504.9" cy="854.4" r="9.0" fill="#3e51c5"/>
<circle cx="1491.0" cy="869.2" r="9.0" fill="#3b4cc0"/>
<circle cx="1473.4" cy="837.6" r="9.0" fill="#3f53c6"/>
<circle cx="1487.0" cy="856.1" r="9.0" fill="#516ddb"/>
<circle cx="1446.1" cy="840.7" r="9.0" fill="#3d50c3"/>
<circle cx="1378.2" cy="857.6" r="9.0" fill="#3e51c5"/>
<circle cx="1465.3" cy="876.4" r="9.0" fill="#90b2fe"/>
<circle cx="1443.7" cy="871.2" r="9.0" fill="#516ddb"/>
<circle cx="1428.2" cy="842.1" r="9.0" fill="#4f69d9"/>
<circle cx="1383.3" cy="831.8" r="9.0" fill="#7a9df8"/>
<circle cx="1405.0" cy="871.6" r="9.0" fill="#a1c0ff"/>
<circle cx="1418.2" cy="854.4" r="9.0" fill="#3d50c3"/>
<circle cx="1448.5" cy="850.7" r="9.0" fill="#3b4cc0"/>
<circle cx="1494.8" cy="861.9" r="9.0" fill="#3e51c5"/>
<circle cx="1388.4" cy="873.1" r="9.0" fill="#3c4ec2"/>
<circle cx="1511.2" cy="845.7" r="9.0" fill="#f7b497"/>
<circle cx="1413.5" cy="862.3" r="9.0" fill="#799cf8"/>
<circle cx="1456.4" cy="846.4" r="9.0" fill="#abc8fd"/>
<circle cx="1442.7" cy="841.2" r="9.0" fill="#3b4cc0"/>
<circle cx="1477.9" cy="840.2" r="9.0" fill="#6a8bef"/>
<circle cx="1516.6" cy="870.3" r="9.0" fill="#3d50c3"/>
<circle cx="1406.8" cy="858.9" r="9.0" fill="#aac7fd"/>
<circle cx="1517.4" cy="836.4" r="9.0" fill="#3b4cc0"/>
<circle cx="1447.0" cy="871.5" r="9.0" fill="#7396f5"/>
<circle cx="1434.3" cy="846.3" r="9.0" fill="#4e68d8"/>
<circle cx="1387.8" cy="840.7" r="9.0" fill="#3c4ec2"/>
<circle cx="1470.6" cy="872.7" r="9.0" fill="#506bda"/>
<circle cx="1395.0" cy="867.7" r="9.0" fill="#536edd"/>
<circle cx="1439.5" cy="862.1" r="9.0" fill="#3b4cc0"/>
<circle cx="1439.7" cy="841.4" r="9.0" fill="#f6bfa6"/>
<circle cx="1421.5" cy="835.5" r="9.0" fill="#3c4ec2"/>
<circle cx="1429.2" cy="873.7" r="9.0" fill="#516ddb"/>
<circle cx="1409.1" cy="873.6" r="9.0" fill="#3c4ec2"/>
<circle cx="1409.5" cy="861.2" r="9.0" fill="#3b4cc0"/>
<circle cx="1433.0" cy="877.1" r="9.0" fill="#3e51c5"/>
<circle cx="1392.9" cy="833.0" r="9.0" fill="#7a9df8"/>
<circle cx="1442.1" cy="876.5" r="9.0" fill="#3c4ec2"/>
<circle cx="1337.1" cy="856.0" r="9.0" fill="#3f53c6"/>
<circle cx="1345.1" cy="842.4" r="9.0" fill="#3c4ec2"/>
<circle cx="1430.4" cy="843.4" r="9.0" fill="#f6bea4"/>
<circle cx="1448.5" cy="861.2" r="9.0" fill="#516ddb"/>
<circle cx="1400.2" cy="845.7" r="9.0" fill="#4f69d9"/>
<circle cx="1454.5" cy="872.8" r="9.0" fill="#3d50c3"/>
<circle cx="1373.1" cy="858.5" r="9.0" fill="#3b4cc0"/>
<circle cx="1413.8" cy="841.6" r="9.0" fill="#3e51c5"/>
<circle cx="1446.0" cy="860.4" r="9.0" fill="#4e68d8"/>
<circle cx="1437.7" cy="853.6" r="9.0" fill="#5977e3"/>
<circle cx="1349.9" cy="833.6" r="9.0" fill="#5977e3"/>
<circle cx="1429.3" cy="867.2" r="9.0" fill="#f7b396"/>
<circle cx="1420.9" cy="854.6" r="9.0" fill="#5e7de7"/>
<circle cx="1449.4" cy="872.8" r="9.0" fill="#506bda"/>
<circle cx="1468.4" cy="873.3" r="9.0" fill="#779af7"/>
<circle cx="1437.8" cy="870.3" r="9.0" fill="#3f53c6"/>
<circle cx="1450.9" cy="837.5" r="9.0" fill="#3f53c6"/>
<circle cx="1473.1" cy="842.1" r="9.0" fill="#516ddb"/>
<circle cx="1450.3" cy="855.9" r="9.0" fill="#6485ec"/>
<circle cx="1377.0" cy="848.9" r="9.0" fill="#3c4ec2"/>
<circle cx="1494.1" cy="849.9" r="9.0" fill="#3b4cc0"/>
<circle cx="1439.9" cy="847.0" r="9.0" fill="#3b4cc0"/>
<circle cx="1425.2" cy="849.0" r="9.0" fill="#3e51c5"/>
<circle cx="1514.4" cy="841.2" r="9.0" fill="#3e51c5"/>
<circle cx="1364.9" cy="851.0" r="9.0" fill="#3f53c6"/>
<circle cx="1429.6" cy="841.4" r="9.0" fill="#3d50c3"/>
<circle cx="1437.2" cy="856.8" r="9.0" fill="#bbd1f8"/>
<circle cx="1475.8" cy="843.2" r="9.0" fill="#3b4cc0"/>
<circle cx="1478.5" cy="872.1" r="9.0" fill="#4c66d6"/>
<circle cx="1453.4" cy="872.3" r="9.0" fill="#3f53c6"/>
<circle cx="1455.3" cy="863.6" r="9.0" fill="#3e51c5"/>
<circle cx="1394.7" cy="871.0" r="9.0" fill="#799cf8"/>
<circle cx="1404.7" cy="842.0" r="9.0" fill="#3e51c5"/>
<circle cx="1417.9" cy="866.3" r="9.0" fill="#3f53c6"/>
<circle cx="1421.5" cy="854.7" r="9.0" fill="#3f53c6"/>
<circle cx="1389.3" cy="831.9" r="9.0" fill="#a6c4fe"/>
<circle cx="1405.4" cy="873.8" r="9.0" fill="#82a6fb"/>
<circle cx="1404.4" cy="867.2" r="9.0" fill="#6c8ff1"/>
<circle cx="1415.0" cy="874.3" r="9.0" fill="#8fb1fe"/>
<circle cx="1383.5" cy="868.5" r="9.0" fill="#3c4ec2"/>
<circle cx="1419.3" cy="873.6" r="9.0" fill="#81a4fb"/>
<circle cx="1450.8" cy="858.8" r="9.0" fill="#3b4cc0"/>
<circle cx="1420.4" cy="865.9" r="9.0" fill="#3c4ec2"/>
<circle cx="1462.6" cy="851.0" r="9.0" fill="#3e51c5"/>
<circle cx="1362.7" cy="839.9" r="9.0" fill="#3e51c5"/>
<circle cx="1377.3" cy="843.1" r="9.0" fill="#3c4ec2"/>
<circle cx="1397.7" cy="868.8" r="9.0" fill="#98b9ff"/>
<circle cx="1357.2" cy="853.5" r="9.0" fill="#7295f4"/>
<circle cx="1390.0" cy="843.6" r="9.0" fill="#4e68d8"/>
<circle cx="1411.0" cy="835.6" r="9.0" fill="#3e51c5"/>
<circle cx="1504.3" cy="876.7" r="9.0" fill="#3e51c5"/>
<circle cx="1413.4" cy="857.4" r="9.0" fill="#3e51c5"/>
<circle cx="1395.7" cy="830.0" r="9.0" fill="#3d50c3"/>
<circle cx="1473.2" cy="844.6" r="9.0" fill="#4e68d8"/>
<circle cx="1408.7" cy="861.0" r="9.0" fill="#3c4ec2"/>
<circle cx="1382.1" cy="830.1" r="9.0" fill="#3e51c5"/>
<circle cx="1492.3" cy="854.5" r="9.0" fill="#f6bea4"/>
<circle cx="1372.7" cy="870.0" r="9.0" fill="#3f53c6"/>
<circle cx="1468.3" cy="838.1" r="9.0" fill="#3e51c5"/>
<circle cx="1427.0" cy="847.2" r="9.0" fill="#3d50c3"/>
<circle cx="1389.0" cy="871.3" r="9.0" fill="#3f53c6"/>
<circle cx="1450.6" cy="873.0" r="9.0" fill="#3e51c5"/>
<circle cx="1428.3" cy="861.1" r="9.0" fill="#3d50c3"/>
<circle cx="1365.7" cy="860.1" r="9.0" fill="#516ddb"/>
<circle cx="1447.6" cy="866.8" r="9.0" fill="#6b8df0"/>
<circle cx="1344.7" cy="846.7" r="9.0" fill="#3f53c6"/>
<circle cx="1469.6" cy="837.2" r="9.0" fill="#6687ed"/>
<circle cx="1389.8" cy="852.4" r="9.0" fill="#3e51c5"/>
<circle cx="1428.4" cy="847.0" r="9.0" fill="#3b4cc0"/>
<circle cx="1382.9" cy="854.3" r="9.0" fill="#6e90f2"/>
<circle cx="1373.9" cy="859.0" r="9.0" fill="#3c4ec2"/>
<circle cx="1469.7" cy="872.5" r="9.0" fill="#3b4cc0"/>
<circle cx="1456.6" cy="847.6" r="9.0" fill="#3f53c6"/>
<circle cx="1382.1" cy="838.0" r="9.0" fill="#3f53c6"/>
<circle cx="1444.2" cy="859.2" r="9.0" fill="#3e51c5"/>
<circle cx="1397.3" cy="838.2" r="9.0" fill="#4f69d9"/>
<circle cx="1414.7" cy="876.2" r="9.0" fill="#4f69d9"/>
<circle cx="1393.5" cy="921.1" r="9.0" fill="#4f69d9"/>
<circle cx="1414.8" cy="933.6" r="9.0" fill="#3e51c5"/>
<circle cx="1360.7" cy="947.3" r="9.0" fill="#3d50c3"/>
<circle cx="1369.7" cy="968.0" r="9.0" fill="#688aef"/>
<circle cx="1459.7" cy="940.5" r="9.0" fill="#3b4cc0"/>
<circle cx="1464.1" cy="934.2" r="9.0" fill="#a7c5fe"/>
<circle cx="1427.7" cy="944.5" r="9.0" fill="#7295f4"/>
<circle cx="1455.1" cy="925.1" r="9.0" fill="#afcafc"/>
<circle cx="1425.3" cy="952.0" r="9.0" fill="#5572df"/>
<circle cx="1438.9" cy="963.6" r="9.0" fill="#e1dad6"/>
<circle cx="1357.7" cy="935.9" r="9.0" fill="#aec9fc"/>
<circle cx="1455.5" cy="954.0" r="9.0" fill="#89acfd"/>
<circle cx="1476.8" cy="942.7" r="9.0" fill="#f7b093"/>
<circle cx="1438.3" cy="962.4" r="9.0" fill="#f7b396"/>
<circle cx="1387.4" cy="946.6" r="9.0" fill="#6f92f3"/>
<circle cx="1391.8" cy="934.5" r="9.0" fill="#3c4ec2"/>
<circle cx="1422.4" cy="963.6" r="9.0" fill="#506bda"/>
<circle cx="1383.3" cy="953.5" r="9.0" fill="#3e51c5"/>
<circle cx="1389.1" cy="933.8" r="9.0" fill="#3e51c5"/>
<circle cx="1376.6" cy="964.9" r="9.0" fill="#3b4cc0"/>
<circle cx="1447.5" cy="963.6" r="9.0" fill="#516ddb"/>
<circle cx="1361.8" cy="921.2" r="9.0" fill="#3c4ec2"/>
<circle cx="1432.0" cy="923.5" r="9.0" fill="#a5c3fe"/>
<circle cx="1500.8" cy="930.5" r="9.0" fill="#5572df"/>
<circle cx="1363.8" cy="919.8" r="9.0" fill="#3c4ec2"/>
<circle cx="1449.6" cy="951.9" r="9.0" fill="#5875e1"/>
<circle cx="1483.9" cy="919.3" r="9.0" fill="#536edd"/>
<circle cx="1430.3" cy="926.1" r="9.0" fill="#4f69d9"/>
<circle cx="1411.1" cy="967.7" r="9.0" fill="#3b4cc0"/>
<circle cx="1427.8" cy="935.4" r="9.0" fill="#dfdbd9"/>
<circle cx="1447.5" cy="919.8" r="9.0" fill="#9dbdff"/>
<circle cx="1443.7" cy="955.2" r="9.0" fill="#f59f80"/>
<circle cx="1460.6" cy="941.9" r="9.0" fill="#4e68d8"/>
<circle cx="1372.4" cy="934.0" r="9.0" fill="#3d50c3"/>
<circle cx="1434.8" cy="947.5" r="9.0" fill="#89acfd"/>
<circle cx="1405.2" cy="925.4" r="9.0" fill="#89acfd"/>
<circle cx="1387.2" cy="919.1" r="9.0" fill="#3b4cc0"/>
<circle cx="1394.2" cy="921.1" r="9.0" fill="#3b4cc0"/>
<circle cx="1466.8" cy="943.6" r="9.0" fill="#b50927"/>
<circle cx="1452.2" cy="968.0" r="9.0" fill="#3e51c5"/>
<circle cx="1419.7" cy="949.4" r="9.0" fill="#6f92f3"/>
<circle cx="1473.5" cy="931.1" r="9.0" fill="#89acfd"/>
<circle cx="1430.7" cy="938.7" r="9.0" fill="#506bda"/>
<circle cx="1420.3" cy="930.3" r="9.0" fill="#3c4ec2"/>
<circle cx="1423.2" cy="944.3" r="9.0" fill="#3c4ec2"/>
<circle cx="1447.8" cy="950.3" r="9.0" fill="#5673e0"/>
<circle cx="1482.9" cy="939.9" r="9.0" fill="#8db0fe"/>
<circle cx="1405.2" cy="920.8" r="9.0" fill="#3e51c5"/>
<circle cx="1427.4" cy="958.4" r="9.0" fill="#89acfd"/>
<circle cx="1436.1" cy="964.3" r="9.0" fill="#cdd9ec"/>
<circle cx="1458.4" cy="919.2" r="9.0" fill="#c5d6f2"/>
<circle cx="1416.0" cy="933.5" r="9.0" fill="#6e90f2"/>
<circle cx="1463.6" cy="938.8" r="9.0" fill="#6f92f3"/>
<circle cx="1424.3" cy="947.7" r="9.0" fill="#3c4ec2"/>
<circle cx="1354.7" cy="922.1" r="9.0" fill="#3c4ec2"/>
<circle cx="1487.0" cy="946.8" r="9.0" fill="#84a7fc"/>
<circle cx="1420.9" cy="924.3" r="9.0" fill="#3b4cc0"/>
<circle cx="1379.9" cy="960.7" r="9.0" fill="#516ddb"/>
<circle cx="1416.8" cy="951.2" r="9.0" fill="#3f53c6"/>
<circle cx="1411.6" cy="943.1" r="9.0" fill="#3d50c3"/>
<circle cx="1429.5" cy="944.5" r="9.0" fill="#abc8fd"/>
<circle cx="1389.8" cy="958.4" r="9.0" fill="#7597f6"/>
<circle cx="1411.6" cy="942.7" r="9.0" fill="#3d50c3"/>
<circle cx="1447.8" cy="952.2" r="9.0" fill="#f7aa8c"/>
<circle cx="1427.4" cy="936.0" r="9.0" fill="#d1493f"/>
<circle cx="1403.6" cy="939.1" r="9.0" fill="#3b4cc0"/>
<circle cx="1346.9" cy="950.6" r="9.0" fill="#3c4ec2"/>
<circle cx="1426.8" cy="952.3" r="9.0" fill="#89acfd"/>
<circle cx="1479.2" cy="923.8" r="9.0" fill="#abc8fd"/>
<circle cx="1420.7" cy="944.1" r="9.0" fill="#3c4ec2"/>
<circle cx="1402.0" cy="963.0" r="9.0" fill="#3f53c6"/>
<circle cx="1493.9" cy="957.4" r="9.0" fill="#6b8df0"/>
<circle cx="1410.9" cy="948.0" r="9.0" fill="#5a78e4"/>
<circle cx="1423.5" cy="943.7" r="9.0" fill="#3d50c3"/>
<circle cx="1396.9" cy="953.5" r="9.0" fill="#516ddb"/>
<circle cx="1328.9" cy="934.8" r="9.0" fill="#3f53c6"/>
<circle cx="1425.7" cy="929.5" r="9.0" fill="#d2dbe8"/>
<circle cx="1342.0" cy="951.6" r="9.0" fill="#9dbdff"/>
<circle cx="1464.6" cy="953.8" r="9.0" fill="#f7a688"/>
<circle cx="1423.3" cy="959.0" r="9.0" fill="#516ddb"/>
<circle cx="1413.0" cy="963.5" r="9.0" fill="#5673e0"/>
<circle cx="1365.8" cy="959.0" r="9.0" fill="#3c4ec2"/>
<circle cx="1418.1" cy="927.8" r="9.0" fill="#5875e1"/>
<circle cx="1366.9" cy="948.8" r="9.0" fill="#3c4ec2"/>
<circle cx="1378.9" cy="928.5" r="9.0" fill="#7ea1fa"/>
<circle cx="1401.9" cy="918.4" r="9.0" fill="#4f69d9"/>
<circle cx="1383.5" cy="942.5" r="9.0" fill="#3d50c3"/>
<circle cx="1363.7" cy="931.6" r="9.0" fill="#3b4cc0"/>
<circle cx="1478.7" cy="926.9" r="9.0" fill="#e1dad6"/>
<circle cx="1452.2" cy="938.5" r="9.0" fill="#e1dad6"/>
<circle cx="1434.1" cy="926.4" r="9.0" fill="#85a8fc"/>
<circle cx="1403.8" cy="933.0" r="9.0" fill="#3e51c5"/>
<circle cx="1457.4" cy="945.1" r="9.0" fill="#82a6fb"/>
<circle cx="1412.1" cy="961.8" r="9.0" fill="#3e51c5"/>
<circle cx="1370.5" cy="964.0" r="9.0" fill="#4e68d8"/>
<circle cx="1425.1" cy="933.4" r="9.0" fill="#e1dad6"/>
<circle cx="1397.2" cy="960.3" r="9.0" fill="#3e51c5"/>
<circle cx="1387.2" cy="937.8" r="9.0" fill="#4f69d9"/>
<circle cx="1436.7" cy="933.6" r="9.0" fill="#3e51c5"/>
<circle cx="1366.2" cy="929.8" r="9.0" fill="#516ddb"/>
<circle cx="1476.4" cy="937.2" r="9.0" fill="#799cf8"/>
<circle cx="1467.8" cy="922.1" r="9.0" fill="#6c8ff1"/>
<circle cx="1388.9" cy="963.0" r="9.0" fill="#6485ec"/>
<circle cx="1431.8" cy="950.2" r="9.0" fill="#f7ba9f"/>
<circle cx="1443.9" cy="927.7" r="9.0" fill="#d1dae9"/>
<circle cx="1437.3" cy="936.0" r="9.0" fill="#cbd8ee"/>
<circle cx="1440.4" cy="938.2" r="9.0" fill="#f7b99e"/>
<circle cx="1367.2" cy="962.2" r="9.0" fill="#6687ed"/>
<circle cx="1384.1" cy="955.4" r="9.0" fill="#4f69d9"/>
<circle cx="1329.3" cy="965.0" r="9.0" fill="#536edd"/>
<circle cx="1405.6" cy="951.8" r="9.0" fill="#3d50c3"/>
<circle cx="1473.9" cy="927.0" r="9.0" fill="#cb3e38"/>
<circle cx="1336.2" cy="927.6" r="9.0" fill="#82a6fb"/>
<circle cx="1432.4" cy="919.6" r="9.0" fill="#7b9ff9"/>
<circle cx="1492.0" cy="956.3" r="9.0" fill="#8badfd"/>
<circle cx="1379.0" cy="930.1" r="9.0" fill="#6282ea"/>
<circle cx="1407.7" cy="925.8" r="9.0" fill="#506bda"/>
<circle cx="1475.7" cy="923.0" r="9.0" fill="#3c4ec2"/>
<circle cx="1419.7" cy="930.7" r="9.0" fill="#3c4ec2"/>
<circle cx="1461.8" cy="930.2" r="9.0" fill="#cfdaea"/>
<circle cx="1372.3" cy="921.3" r="9.0" fill="#4f69d9"/>
<circle cx="1469.0" cy="939.7" r="9.0" fill="#c6d6f1"/>
<circle cx="1343.5" cy="935.1" r="9.0" fill="#3e51c5"/>
<circle cx="1408.9" cy="938.0" r="9.0" fill="#90b2fe"/>
<circle cx="1365.1" cy="934.1" r="9.0" fill="#6a8bef"/>
<circle cx="1429.1" cy="947.6" r="9.0" fill="#aec9fc"/>
<circle cx="1496.5" cy="941.0" r="9.0" fill="#89acfd"/>
<circle cx="1414.7" cy="920.5" r="9.0" fill="#536edd"/>
<circle cx="1485.2" cy="952.2" r="9.0" fill="#f3c7b1"/>
<circle cx="1487.9" cy="933.5" r="9.0" fill="#c0d4f5"/>
<circle cx="1449.2" cy="926.9" r="9.0" fill="#4f69d9"/>
<circle cx="1443.0" cy="922.8" r="9.0" fill="#c0282f"/>
<circle cx="1501.5" cy="930.3" r="9.0" fill="#8caffe"/>
<circle cx="1446.3" cy="925.2" r="9.0" fill="#6485ec"/>
<circle cx="1447.9" cy="959.3" r="9.0" fill="#96b7ff"/>
<circle cx="1505.1" cy="962.0" r="9.0" fill="#3e51c5"/>
<circle cx="1433.5" cy="923.6" r="9.0" fill="#3b4cc0"/>
<circle cx="1434.7" cy="929.0" r="9.0" fill="#92b4fe"/>
<circle cx="1474.6" cy="954.1" r="9.0" fill="#a9c6fd"/>
<circle cx="1352.8" cy="926.4" r="9.0" fill="#4e68d8"/>
<circle cx="1423.6" cy="1026.0" r="9.0" fill="#3e51c5"/>
<circle cx="1467.5" cy="1010.8" r="9.0" fill="#5470de"/>
<circle cx="1418.4" cy="1057.3" r="9.0" fill="#4f69d9"/>
<circle cx="1447.7" cy="1031.3" r="9.0" fill="#c7d7f0"/>
<circle cx="1369.4" cy="1033.7" r="9.0" fill="#3f53c6"/>
<circle cx="1362.7" cy="1010.7" r="9.0" fill="#3e51c5"/>
<circle cx="1417.0" cy="1050.8" r="9.0" fill="#3f53c6"/>
<circle cx="1429.0" cy="1051.5" r="9.0" fill="#e6d7cf"/>
<circle cx="1366.1" cy="1029.7" r="9.0" fill="#7699f6"/>
<circle cx="1461.9" cy="1012.4" r="9.0" fill="#3c4ec2"/>
<circle cx="1459.7" cy="1038.8" r="9.0" fill="#3e51c5"/>
<circle cx="1411.2" cy="1026.8" r="9.0" fill="#3e51c5"/>
<circle cx="1349.0" cy="1041.6" r="9.0" fill="#7597f6"/>
<circle cx="1378.4" cy="1057.1" r="9.0" fill="#3c4ec2"/>
<circle cx="1482.9" cy="1052.7" r="9.0" fill="#98b9ff"/>
<circle cx="1344.6" cy="1018.1" r="9.0" fill="#6a8bef"/>
<circle cx="1417.0" cy="1050.2" r="9.0" fill="#80a3fa"/>
<circle cx="1433.4" cy="1047.5" r="9.0" fill="#6b8df0"/>
<circle cx="1402.3" cy="1051.2" r="9.0" fill="#3e51c5"/>
<circle cx="1482.6" cy="1009.8" r="9.0" fill="#cfdaea"/>
<circle cx="1498.2" cy="1032.8" r="9.0" fill="#cc403a"/>
<circle cx="1347.4" cy="1011.4" r="9.0" fill="#3b4cc0"/>
<circle cx="1432.6" cy="1038.0" r="9.0" fill="#3b4cc0"/>
<circle cx="1456.8" cy="1050.9" r="9.0" fill="#5875e1"/>
<circle cx="1449.5" cy="1030.5" r="9.0" fill="#93b5fe"/>
<circle cx="1397.6" cy="1037.3" r="9.0" fill="#3e51c5"/>
<circle cx="1462.1" cy="1029.1" r="9.0" fill="#cbd8ee"/>
<circle cx="1403.5" cy="1022.6" r="9.0" fill="#97b8ff"/>
<circle cx="1414.5" cy="1028.3" r="9.0" fill="#3b4cc0"/>
<circle cx="1418.3" cy="1038.3" r="9.0" fill="#3b4cc0"/>
<circle cx="1390.3" cy="1041.5" r="9.0" fill="#3f53c6"/>
<circle cx="1389.5" cy="1044.4" r="9.0" fill="#3b4cc0"/>
<circle cx="1376.2" cy="1020.1" r="9.0" fill="#3e51c5"/>
<circle cx="1332.7" cy="1023.5" r="9.0" fill="#3c4ec2"/>
<circle cx="1385.2" cy="1022.5" r="9.0" fill="#4c66d6"/>
<circle cx="1457.5" cy="1008.9" r="9.0" fill="#9bbcff"/>
<circle cx="1410.1" cy="1047.7" r="9.0" fill="#3c4ec2"/>
<circle cx="1445.1" cy="1029.3" r="9.0" fill="#c5d6f2"/>
<circle cx="1405.0" cy="1049.2" r="9.0" fill="#4f69d9"/>
<circle cx="1450.8" cy="1016.0" r="9.0" fill="#4e68d8"/>
<circle cx="1451.2" cy="1018.8" r="9.0" fill="#3f53c6"/>
<circle cx="1392.5" cy="1017.1" r="9.0" fill="#7597f6"/>
<circle cx="1432.4" cy="1047.9" r="9.0" fill="#e2dad5"/>
<circle cx="1448.1" cy="1024.8" r="9.0" fill="#3d50c3"/>
<circle cx="1428.2" cy="1024.8" r="9.0" fill="#81a4fb"/>
<circle cx="1390.9" cy="1028.0" r="9.0" fill="#5977e3"/>
<circle cx="1422.7" cy="1051.5" r="9.0" fill="#92b4fe"/>
<circle cx="1393.2" cy="1018.6" r="9.0" fill="#4f69d9"/>
<circle cx="1396.1" cy="1022.0" r="9.0" fill="#3c4ec2"/>
<circle cx="1380.7" cy="1010.9" r="9.0" fill="#3c4ec2"/>
<circle cx="1424.3" cy="1052.7" r="9.0" fill="#506bda"/>
<circle cx="1409.3" cy="1052.3" r="9.0" fill="#6a8bef"/>
<circle cx="1482.6" cy="1016.1" r="9.0" fill="#4e68d8"/>
<circle cx="1425.2" cy="1033.8" r="9.0" fill="#abc8fd"/>
<circle cx="1393.5" cy="1020.1" r="9.0" fill="#6687ed"/>
<circle cx="1397.5" cy="1046.6" r="9.0" fill="#3c4ec2"/>
<circle cx="1351.6" cy="1016.1" r="9.0" fill="#506bda"/>
<circle cx="1404.9" cy="1047.8" r="9.0" fill="#536edd"/>
<circle cx="1367.7" cy="1010.0" r="9.0" fill="#3c4ec2"/>
<circle cx="1365.3" cy="1033.9" r="9.0" fill="#3d50c3"/>
<circle cx="1420.4" cy="1010.3" r="9.0" fill="#3b4cc0"/>
<circle cx="1417.7" cy="1010.9" r="9.0" fill="#a9c6fd"/>
<circle cx="1458.5" cy="1023.3" r="9.0" fill="#3d50c3"/>
<circle cx="1443.1" cy="1039.9" r="9.0" fill="#7b9ff9"/>
<circle cx="1432.3" cy="1013.7" r="9.0" fill="#98b9ff"/>
<circle cx="1451.6" cy="1026.5" r="9.0" fill="#3c4ec2"/>
<circle cx="1383.8" cy="1046.6" r="9.0" fill="#4e68d8"/>
<circle cx="1457.0" cy="1038.7" r="9.0" fill="#7da0f9"/>
<circle cx="1360.8" cy="1028.5" r="9.0" fill="#3d50c3"/>
<circle cx="1421.4" cy="1019.8" r="9.0" fill="#3f53c6"/>
<circle cx="1456.0" cy="1028.8" r="9.0" fill="#f29274"/>
<circle cx="1437.4" cy="1026.2" r="9.0" fill="#f59c7d"/>
<circle cx="1416.8" cy="1013.7" r="9.0" fill="#6c8ff1"/>
<circle cx="1462.3" cy="1051.9" r="9.0" fill="#dddcdc"/>
<circle cx="1415.0" cy="1012.7" r="9.0" fill="#3b4cc0"/>
<circle cx="1371.3" cy="1014.7" r="9.0" fill="#3b4cc0"/>
<circle cx="1434.6" cy="1051.5" r="9.0" fill="#3b4cc0"/>
<circle cx="1429.5" cy="1049.6" r="9.0" fill="#5470de"/>
<circle cx="1386.6" cy="1055.1" r="9.0" fill="#4e68d8"/>
<circle cx="1355.9" cy="1009.3" r="9.0" fill="#3e51c5"/>
<circle cx="1416.1" cy="1045.0" r="9.0" fill="#5572df"/>
<circle cx="1402.4" cy="1023.7" r="9.0" fill="#4e68d8"/>
<circle cx="1421.2" cy="1020.0" r="9.0" fill="#4c66d6"/>
<circle cx="1443.9" cy="1027.2" r="9.0" fill="#80a3fa"/>
<circle cx="1396.7" cy="1011.7" r="9.0" fill="#516ddb"/>
<circle cx="1452.0" cy="1028.2" r="9.0" fill="#c7d7f0"/>
<circle cx="1396.8" cy="1041.2" r="9.0" fill="#3d50c3"/>
<circle cx="1360.5" cy="1039.7" r="9.0" fill="#5977e3"/>
<circle cx="1472.0" cy="1053.3" r="9.0" fill="#82a6fb"/>
<circle cx="1455.8" cy="1043.5" r="9.0" fill="#3d50c3"/>
<circle cx="1435.8" cy="1023.3" r="9.0" fill="#4f69d9"/>
<circle cx="1467.9" cy="1055.2" r="9.0" fill="#506bda"/>
<circle cx="1356.3" cy="1036.7" r="9.0" fill="#3c4ec2"/>
<circle cx="1458.6" cy="1008.7" r="9.0" fill="#7ea1fa"/>
<circle cx="1436.9" cy="1023.6" r="9.0" fill="#c6d6f1"/>
<circle cx="1451.7" cy="1057.1" r="9.0" fill="#8fb1fe"/>
<circle cx="1349.4" cy="1048.6" r="9.0" fill="#3d50c3"/>
<circle cx="1434.4" cy="1043.5" r="9.0" fill="#f7b599"/>
<circle cx="1410.1" cy="1030.9" r="9.0" fill="#3c4ec2"/>
<circle cx="1408.5" cy="1055.5" r="9.0" fill="#5b7ae5"/>
<circle cx="1364.2" cy="1017.0" r="9.0" fill="#3c4ec2"/>
<circle cx="1398.9" cy="1052.5" r="9.0" fill="#4f69d9"/>
<circle cx="1347.9" cy="1023.2" r="9.0" fill="#3f53c6"/>
<circle cx="1434.4" cy="1049.2" r="9.0" fill="#3d50c3"/>
<circle cx="1428.6" cy="1036.5" r="9.0" fill="#c0d4f5"/>
<circle cx="1399.3" cy="1031.8" r="9.0" fill="#3e51c5"/>
<circle cx="1455.0" cy="1055.3" r="9.0" fill="#8badfd"/>
<circle cx="1442.3" cy="1040.8" r="9.0" fill="#5572df"/>
<circle cx="1440.7" cy="1053.0" r="9.0" fill="#5875e1"/>
<circle cx="1374.0" cy="1045.4" r="9.0" fill="#3f53c6"/>
<circle cx="1466.5" cy="1040.2" r="9.0" fill="#f6bea4"/>
<circle cx="1422.6" cy="1041.2" r="9.0" fill="#3b4cc0"/>
<circle cx="1384.6" cy="1043.4" r="9.0" fill="#3e51c5"/>
<circle cx="1421.4" cy="1016.6" r="9.0" fill="#3e51c5"/>
<circle cx="1454.4" cy="1040.3" r="9.0" fill="#5673e0"/>
<circle cx="1492.0" cy="1014.6" r="9.0" fill="#506bda"/>
<circle cx="1380.4" cy="1039.9" r="9.0" fill="#3c4ec2"/>
<circle cx="1392.2" cy="1016.3" r="9.0" fill="#3f53c6"/>
<circle cx="1421.3" cy="1044.5" r="9.0" fill="#3c4ec2"/>
<circle cx="1372.5" cy="1026.7" r="9.0" fill="#5470de"/>
<circle cx="1391.4" cy="1046.0" r="9.0" fill="#3d50c3"/>
<circle cx="1419.2" cy="1027.7" r="9.0" fill="#4c66d6"/>
<circle cx="1375.7" cy="1013.1" r="9.0" fill="#3b4cc0"/>
<circle cx="1478.8" cy="1013.1" r="9.0" fill="#dfdbd9"/>
<circle cx="1429.8" cy="1028.3" r="9.0" fill="#e2dad5"/>
<circle cx="1426.7" cy="1116.4" r="9.0" fill="#3b4cc0"/>
<circle cx="1444.5" cy="1116.7" r="9.0" fill="#f39475"/>
<circle cx="1427.8" cy="1123.7" r="9.0" fill="#799cf8"/>
<circle cx="1395.4" cy="1101.3" r="9.0" fill="#506bda"/>
<circle cx="1461.2" cy="1137.4" r="9.0" fill="#3d50c3"/>
<circle cx="1358.0" cy="1128.4" r="9.0" fill="#85a8fc"/>
<circle cx="1438.0" cy="1127.3" r="9.0" fill="#e3d9d3"/>
<circle cx="1412.8" cy="1105.0" r="9.0" fill="#5e7de7"/>
<circle cx="1502.1" cy="1124.3" r="9.0" fill="#b9d0f9"/>
<circle cx="1391.4" cy="1125.6" r="9.0" fill="#b9d0f9"/>
<circle cx="1381.6" cy="1126.9" r="9.0" fill="#3b4cc0"/>
<circle cx="1422.7" cy="1111.7" r="9.0" fill="#f5c4ac"/>
<circle cx="1481.5" cy="1110.4" r="9.0" fill="#e2dad5"/>
<circle cx="1441.9" cy="1113.6" r="9.0" fill="#f7bca1"/>
<circle cx="1400.9" cy="1128.7" r="9.0" fill="#3d50c3"/>
<circle cx="1439.7" cy="1134.6" r="9.0" fill="#9bbcff"/>
<circle cx="1441.0" cy="1099.0" r="9.0" fill="#516ddb"/>
<circle cx="1414.0" cy="1127.8" r="9.0" fill="#3d50c3"/>
<circle cx="1445.5" cy="1098.0" r="9.0" fill="#efcebd"/>
<circle cx="1466.8" cy="1145.4" r="9.0" fill="#ef886b"/>
<circle cx="1459.5" cy="1146.0" r="9.0" fill="#f7af91"/>
<circle cx="1429.0" cy="1144.9" r="9.0" fill="#edd1c2"/>
<circle cx="1417.6" cy="1118.9" r="9.0" fill="#3d50c3"/>
<circle cx="1451.4" cy="1145.8" r="9.0" fill="#6b8df0"/>
<circle cx="1449.6" cy="1136.6" r="9.0" fill="#82a6fb"/>
<circle cx="1432.1" cy="1100.8" r="9.0" fill="#f7ad90"/>
<circle cx="1428.8" cy="1098.7" r="9.0" fill="#4f69d9"/>
<circle cx="1439.2" cy="1103.6" r="9.0" fill="#3e51c5"/>
<circle cx="1425.9" cy="1102.2" r="9.0" fill="#ecd3c5"/>
<circle cx="1492.2" cy="1120.6" r="9.0" fill="#3e51c5"/>
<circle cx="1467.7" cy="1108.7" r="9.0" fill="#f29072"/>
<circle cx="1435.1" cy="1121.7" r="9.0" fill="#3c4ec2"/>
<circle cx="1426.4" cy="1107.8" r="9.0" fill="#f6bea4"/>
<circle cx="1453.7" cy="1098.5" r="9.0" fill="#f6a586"/>
<circle cx="1467.6" cy="1142.6" r="9.0" fill="#edd2c3"/>
<circle cx="1422.5" cy="1134.5" r="9.0" fill="#7295f4"/>
<circle cx="1445.8" cy="1142.6" r="9.0" fill="#f7b396"/>
<circle cx="1383.4" cy="1129.2" r="9.0" fill="#a9c6fd"/>
<circle cx="1362.2" cy="1129.8" r="9.0" fill="#6687ed"/>
<circle cx="1376.0" cy="1099.7" r="9.0" fill="#bed2f6"/>
<circle cx="1418.8" cy="1142.5" r="9.0" fill="#516ddb"/>
<circle cx="1414.0" cy="1130.5" r="9.0" fill="#3c4ec2"/>
<circle cx="1389.0" cy="1134.6" r="9.0" fill="#98b9ff"/>
<circle cx="1384.1" cy="1096.0" r="9.0" fill="#8db0fe"/>
<circle cx="1439.9" cy="1137.9" r="9.0" fill="#f18d6f"/>
<circle cx="1410.4" cy="1124.4" r="9.0" fill="#97b8ff"/>
<circle cx="1407.2" cy="1142.2" r="9.0" fill="#7093f3"/>
<circle cx="1391.9" cy="1123.2" r="9.0" fill="#3b4cc0"/>
<circle cx="1384.7" cy="1140.8" r="9.0" fill="#5f7fe8"/>
<circle cx="1397.8" cy="1114.7" r="9.0" fill="#7396f5"/>
<circle cx="1504.9" cy="1138.8" r="9.0" fill="#3f53c6"/>
<circle cx="1430.3" cy="1115.6" r="9.0" fill="#f7b497"/>
<circle cx="1430.0" cy="1146.0" r="9.0" fill="#3b4cc0"/>
<circle cx="1473.2" cy="1128.1" r="9.0" fill="#f7a889"/>
<circle cx="1349.1" cy="1136.2" r="9.0" fill="#506bda"/>
<circle cx="1458.4" cy="1106.0" r="9.0" fill="#b2ccfb"/>
<circle cx="1358.6" cy="1104.5" r="9.0" fill="#96b7ff"/>
<circle cx="1460.2" cy="1103.6" r="9.0" fill="#88abfd"/>
<circle cx="1337.2" cy="1132.7" r="9.0" fill="#3c4ec2"/>
<circle cx="1401.4" cy="1124.1" r="9.0" fill="#7ea1fa"/>
<circle cx="1408.4" cy="1108.6" r="9.0" fill="#9fbfff"/>
<circle cx="1426.6" cy="1135.7" r="9.0" fill="#f5a081"/>
<circle cx="1399.4" cy="1112.1" r="9.0" fill="#a5c3fe"/>
<circle cx="1373.4" cy="1143.2" r="9.0" fill="#4f69d9"/>
<circle cx="1438.3" cy="1118.8" r="9.0" fill="#516ddb"/>
<circle cx="1368.7" cy="1114.6" r="9.0" fill="#5f7fe8"/>
<circle cx="1445.3" cy="1137.9" r="9.0" fill="#5673e0"/>
<circle cx="1436.6" cy="1115.1" r="9.0" fill="#dddcdc"/>
<circle cx="1411.5" cy="1116.7" r="9.0" fill="#96b7ff"/>
<circle cx="1412.2" cy="1129.8" r="9.0" fill="#3c4ec2"/>
<circle cx="1433.4" cy="1145.2" r="9.0" fill="#f39475"/>
<circle cx="1426.2" cy="1137.8" r="9.0" fill="#f6bda2"/>
<circle cx="1382.6" cy="1125.6" r="9.0" fill="#b5cdfa"/>
<circle cx="1400.2" cy="1146.2" r="9.0" fill="#3f53c6"/>
<circle cx="1393.6" cy="1127.9" r="9.0" fill="#9dbdff"/>
<circle cx="1363.0" cy="1144.0" r="9.0" fill="#3e51c5"/>
<circle cx="1477.2" cy="1111.9" r="9.0" fill="#3d50c3"/>
<circle cx="1385.5" cy="1128.4" r="9.0" fill="#bbd1f8"/>
<circle cx="1390.6" cy="1138.3" r="9.0" fill="#3d50c3"/>
<circle cx="1449.9" cy="1096.5" r="9.0" fill="#3f53c6"/>
<circle cx="1404.8" cy="1114.7" r="9.0" fill="#adc9fd"/>
<circle cx="1370.6" cy="1103.9" r="9.0" fill="#516ddb"/>
<circle cx="1417.8" cy="1127.2" r="9.0" fill="#3b4cc0"/>
<circle cx="1423.5" cy="1144.1" r="9.0" fill="#f39577"/>
<circle cx="1454.7" cy="1103.5" r="9.0" fill="#3d50c3"/>
<circle cx="1448.8" cy="1136.9" r="9.0" fill="#e5d8d1"/>
<circle cx="1416.9" cy="1145.7" r="9.0" fill="#3e51c5"/>
<circle cx="1435.4" cy="1097.5" r="9.0" fill="#7597f6"/>
<circle cx="1440.8" cy="1099.0" r="9.0" fill="#f7b599"/>
<circle cx="1475.4" cy="1133.8" r="9.0" fill="#f1cdba"/>
<circle cx="1383.4" cy="1141.5" r="9.0" fill="#7699f6"/>
<circle cx="1401.7" cy="1124.5" r="9.0" fill="#6180e9"/>
<circle cx="1361.8" cy="1139.7" r="9.0" fill="#5d7ce6"/>
<circle cx="1467.2" cy="1109.1" r="9.0" fill="#a6c4fe"/>
<circle cx="1499.5" cy="1140.6" r="9.0" fill="#8caffe"/>
<circle cx="1416.1" cy="1141.4" r="9.0" fill="#516ddb"/>
<circle cx="1429.7" cy="1103.7" r="9.0" fill="#5470de"/>
<circle cx="1438.6" cy="1124.6" r="9.0" fill="#a9c6fd"/>
<circle cx="1397.7" cy="1105.4" r="9.0" fill="#c0d4f5"/>
<circle cx="1399.4" cy="1144.5" r="9.0" fill="#4f69d9"/>
<circle cx="1333.8" cy="1139.2" r="9.0" fill="#5e7de7"/>
<circle cx="1357.2" cy="1111.7" r="9.0" fill="#88abfd"/>
<circle cx="1362.0" cy="1127.0" r="9.0" fill="#3e51c5"/>
<circle cx="1422.0" cy="1130.2" r="9.0" fill="#b7cff9"/>
<circle cx="1398.0" cy="1139.2" r="9.0" fill="#bbd1f8"/>
<circle cx="1398.0" cy="1141.7" r="9.0" fill="#7da0f9"/>
<circle cx="1384.3" cy="1147.1" r="9.0" fill="#3b4cc0"/>
<circle cx="1393.6" cy="1132.9" r="9.0" fill="#7597f6"/>
<circle cx="1399.0" cy="1106.2" r="9.0" fill="#4e68d8"/>
<circle cx="1406.6" cy="1143.0" r="9.0" fill="#5f7fe8"/>
<circle cx="1502.9" cy="1122.3" r="9.0" fill="#5470de"/>
<circle cx="1414.4" cy="1128.2" r="9.0" fill="#5a78e4"/>
<circle cx="1423.8" cy="1120.7" r="9.0" fill="#3d50c3"/>
<circle cx="1414.0" cy="1142.1" r="9.0" fill="#82a6fb"/>
<circle cx="1412.6" cy="1127.2" r="9.0" fill="#3d50c3"/>
<circle cx="1464.8" cy="1146.5" r="9.0" fill="#f18f71"/>
<circle cx="1405.6" cy="1136.8" r="9.0" fill="#6f92f3"/>
<circle cx="1486.3" cy="1104.9" r="9.0" fill="#5572df"/>
<circle cx="1455.7" cy="1135.1" r="9.0" fill="#a1c0ff"/>
<circle cx="1411.0" cy="1139.6" r="9.0" fill="#3e51c5"/>
<circle cx="1423.1" cy="1097.4" r="9.0" fill="#82a6fb"/>
<circle cx="1475.2" cy="1143.4" r="9.0" fill="#516ddb"/>
<circle cx="1488.8" cy="1104.4" r="9.0" fill="#3c4ec2"/>
<circle cx="1482.0" cy="1142.1" r="9.0" fill="#7396f5"/>
<circle cx="1399.5" cy="1113.5" r="9.0" fill="#8caffe"/>
<circle cx="1440.7" cy="1139.6" r="9.0" fill="#5875e1"/>
<circle cx="1452.2" cy="1111.2" r="9.0" fill="#e9d5cb"/>
<circle cx="1438.9" cy="1139.8" r="9.0" fill="#506bda"/>
<circle cx="1415.8" cy="1097.2" r="9.0" fill="#6282ea"/>
<circle cx="1428.0" cy="1112.7" r="9.0" fill="#bfd3f6"/>
<circle cx="1435.8" cy="1127.4" r="9.0" fill="#bfd3f6"/>
<circle cx="1438.8" cy="1145.5" r="9.0" fill="#f59c7d"/>
<circle cx="1450.8" cy="1146.7" r="9.0" fill="#5673e0"/>
<circle cx="1407.3" cy="1139.6" r="9.0" fill="#3c4ec2"/>
<circle cx="1365.2" cy="1103.0" r="9.0" fill="#7597f6"/>
<circle cx="1386.7" cy="1225.8" r="9.0" fill="#b3cdfb"/>
<circle cx="1387.8" cy="1232.2" r="9.0" fill="#3d50c3"/>
<circle cx="1475.5" cy="1231.1" r="9.0" fill="#3e51c5"/>
<circle cx="1410.4" cy="1198.4" r="9.0" fill="#7699f6"/>
<circle cx="1452.4" cy="1200.1" r="9.0" fill="#e0dbd8"/>
<circle cx="1430.0" cy="1194.1" r="9.0" fill="#6a8bef"/>
<circle cx="1414.5" cy="1186.2" r="9.0" fill="#98b9ff"/>
<circle cx="1415.7" cy="1196.9" r="9.0" fill="#bad0f8"/>
<circle cx="1406.2" cy="1213.0" r="9.0" fill="#6384eb"/>
<circle cx="1478.0" cy="1234.4" r="9.0" fill="#cdd9ec"/>
<circle cx="1408.6" cy="1204.1" r="9.0" fill="#3b4cc0"/>
<circle cx="1455.2" cy="1216.2" r="9.0" fill="#4f69d9"/>
<circle cx="1439.8" cy="1203.0" r="9.0" fill="#536edd"/>
<circle cx="1397.7" cy="1210.1" r="9.0" fill="#5b7ae5"/>
<circle cx="1431.7" cy="1234.8" r="9.0" fill="#516ddb"/>
<circle cx="1431.8" cy="1225.5" r="9.0" fill="#3f53c6"/>
<circle cx="1422.5" cy="1186.5" r="9.0" fill="#3c4ec2"/>
<circle cx="1450.2" cy="1223.9" r="9.0" fill="#e7d7ce"/>
<circle cx="1421.6" cy="1203.3" r="9.0" fill="#3e51c5"/>
<circle cx="1430.7" cy="1223.5" r="9.0" fill="#a5c3fe"/>
<circle cx="1411.5" cy="1187.9" r="9.0" fill="#92b4fe"/>
<circle cx="1402.0" cy="1232.0" r="9.0" fill="#506bda"/>
<circle cx="1468.5" cy="1213.3" r="9.0" fill="#3d50c3"/>
<circle cx="1434.2" cy="1193.5" r="9.0" fill="#afcafc"/>
<circle cx="1440.7" cy="1194.2" r="9.0" fill="#5977e3"/>
<circle cx="1393.1" cy="1198.0" r="9.0" fill="#84a7fc"/>
<circle cx="1420.5" cy="1208.9" r="9.0" fill="#3b4cc0"/>
<circle cx="1435.8" cy="1210.8" r="9.0" fill="#6a8bef"/>
<circle cx="1423.5" cy="1222.7" r="9.0" fill="#aec9fc"/>
<circle cx="1431.9" cy="1207.8" r="9.0" fill="#5470de"/>
<circle cx="1411.9" cy="1200.8" r="9.0" fill="#8caffe"/>
<circle cx="1485.3" cy="1208.8" r="9.0" fill="#506bda"/>
<circle cx="1399.2" cy="1206.3" r="9.0" fill="#3d50c3"/>
<circle cx="1431.8" cy="1235.5" r="9.0" fill="#f7b599"/>
<circle cx="1396.2" cy="1190.5" r="9.0" fill="#4e68d8"/>
<circle cx="1428.1" cy="1229.5" r="9.0" fill="#4e68d8"/>
<circle cx="1436.4" cy="1219.3" r="9.0" fill="#7da0f9"/>
<circle cx="1374.8" cy="1221.3" r="9.0" fill="#3d50c3"/>
<circle cx="1434.6" cy="1200.8" r="9.0" fill="#dcdddd"/>
<circle cx="1374.8" cy="1215.1" r="9.0" fill="#3e51c5"/>
<circle cx="1427.8" cy="1209.2" r="9.0" fill="#aec9fc"/>
<circle cx="1480.2" cy="1226.0" r="9.0" fill="#4e68d8"/>
<circle cx="1423.0" cy="1203.6" r="9.0" fill="#bad0f8"/>
<circle cx="1391.9" cy="1233.9" r="9.0" fill="#7396f5"/>
<circle cx="1461.5" cy="1233.0" r="9.0" fill="#4f69d9"/>
<circle cx="1485.6" cy="1222.1" r="9.0" fill="#6c8ff1"/>
<circle cx="1436.8" cy="1219.4" r="9.0" fill="#4c66d6"/>
<circle cx="1382.7" cy="1224.8" r="9.0" fill="#7ea1fa"/>
<circle cx="1448.4" cy="1208.1" r="9.0" fill="#7093f3"/>
<circle cx="1431.6" cy="1220.4" r="9.0" fill="#6384eb"/>
<circle cx="1403.3" cy="1188.8" r="9.0" fill="#3c4ec2"/>
<circle cx="1432.5" cy="1195.2" r="9.0" fill="#3b4cc0"/>
<circle cx="1394.6" cy="1216.7" r="9.0" fill="#6485ec"/>
<circle cx="1435.4" cy="1231.2" r="9.0" fill="#3e51c5"/>
<circle cx="1421.6" cy="1191.8" r="9.0" fill="#a1c0ff"/>
<circle cx="1463.4" cy="1187.9" r="9.0" fill="#6788ee"/>
<circle cx="1397.4" cy="1215.1" r="9.0" fill="#b7cff9"/>
<circle cx="1419.1" cy="1207.0" r="9.0" fill="#aec9fc"/>
<circle cx="1414.8" cy="1215.9" r="9.0" fill="#8badfd"/>
<circle cx="1442.2" cy="1234.5" r="9.0" fill="#7b9ff9"/>
<circle cx="1429.2" cy="1191.5" r="9.0" fill="#799cf8"/>
<circle cx="1427.1" cy="1193.1" r="9.0" fill="#86a9fc"/>
<circle cx="1401.6" cy="1197.4" r="9.0" fill="#516ddb"/>
<circle cx="1454.2" cy="1205.1" r="9.0" fill="#f7a98b"/>
<circle cx="1405.6" cy="1235.1" r="9.0" fill="#6e90f2"/>
<circle cx="1412.6" cy="1202.0" r="9.0" fill="#a6c4fe"/>
<circle cx="1419.0" cy="1192.2" r="9.0" fill="#6f92f3"/>
<circle cx="1466.8" cy="1200.7" r="9.0" fill="#a2c1ff"/>
<circle cx="1471.0" cy="1199.8" r="9.0" fill="#e1dad6"/>
<circle cx="1431.6" cy="1198.4" r="9.0" fill="#3c4ec2"/>
<circle cx="1457.1" cy="1216.5" r="9.0" fill="#4e68d8"/>
<circle cx="1426.0" cy="1216.3" r="9.0" fill="#5f7fe8"/>
<circle cx="1429.9" cy="1212.8" r="9.0" fill="#3c4ec2"/>
<circle cx="1398.5" cy="1212.6" r="9.0" fill="#6b8df0"/>
<circle cx="1426.5" cy="1187.9" r="9.0" fill="#3d50c3"/>
<circle cx="1381.2" cy="1231.9" r="9.0" fill="#a9c6fd"/>
<circle cx="1488.5" cy="1207.5" r="9.0" fill="#98b9ff"/>
<circle cx="1433.6" cy="1217.7" r="9.0" fill="#5673e0"/>
<circle cx="1401.7" cy="1228.7" r="9.0" fill="#3c4ec2"/>
<circle cx="1451.0" cy="1227.6" r="9.0" fill="#5470de"/>
<circle cx="1415.3" cy="1200.4" r="9.0" fill="#88abfd"/>
<circle cx="1393.0" cy="1193.2" r="9.0" fill="#7597f6"/>
<circle cx="1396.6" cy="1193.8" r="9.0" fill="#82a6fb"/>
<circle cx="1428.5" cy="1189.5" r="9.0" fill="#4e68d8"/>
<circle cx="1441.4" cy="1187.4" r="9.0" fill="#aec9fc"/>
<circle cx="1378.1" cy="1236.0" r="9.0" fill="#5b7ae5"/>
<circle cx="1441.5" cy="1218.4" r="9.0" fill="#f7b194"/>
<circle cx="1407.4" cy="1192.8" r="9.0" fill="#506bda"/>
<circle cx="1456.3" cy="1206.8" r="9.0" fill="#4c66d6"/>
<circle cx="1466.8" cy="1188.3" r="9.0" fill="#3d50c3"/>
<circle cx="1438.8" cy="1214.8" r="9.0" fill="#a6c4fe"/>
<circle cx="1433.3" cy="1192.8" r="9.0" fill="#3d50c3"/>
<circle cx="1395.2" cy="1233.0" r="9.0" fill="#3b4cc0"/>
<circle cx="1404.1" cy="1221.0" r="9.0" fill="#3e51c5"/>
<circle cx="1425.2" cy="1213.8" r="9.0" fill="#6687ed"/>
<circle cx="1402.6" cy="1223.6" r="9.0" fill="#5f7fe8"/>
<circle cx="1419.4" cy="1197.8" r="9.0" fill="#3f53c6"/>
<circle cx="1451.8" cy="1218.8" r="9.0" fill="#4f69d9"/>
<circle cx="1478.0" cy="1190.6" r="9.0" fill="#3f53c6"/>
<circle cx="1433.1" cy="1210.1" r="9.0" fill="#536edd"/>
<circle cx="1483.3" cy="1188.8" r="9.0" fill="#5875e1"/>
<circle cx="1438.4" cy="1220.1" r="9.0" fill="#3b4cc0"/>
<circle cx="1479.0" cy="1227.1" r="9.0" fill="#4c66d6"/>
<circle cx="1419.2" cy="1203.8" r="9.0" fill="#3d50c3"/>
<circle cx="1403.5" cy="1205.4" r="9.0" fill="#4f69d9"/>
<circle cx="1406.8" cy="1218.5" r="9.0" fill="#a3c2fe"/>
<circle cx="1453.2" cy="1215.7" r="9.0" fill="#9bbcff"/>
<circle cx="1394.1" cy="1205.9" r="9.0" fill="#3b4cc0"/>
<circle cx="1430.9" cy="1230.5" r="9.0" fill="#516ddb"/>
<circle cx="1437.5" cy="1186.1" r="9.0" fill="#5572df"/>
<circle cx="1445.5" cy="1299.6" r="9.0" fill="#3d50c3"/>
<circle cx="1365.4" cy="1308.5" r="9.0" fill="#aec9fc"/>
<circle cx="1386.1" cy="1289.0" r="9.0" fill="#e0dbd8"/>
<circle cx="1470.9" cy="1296.1" r="9.0" fill="#a9c6fd"/>
<circle cx="1443.6" cy="1315.6" r="9.0" fill="#6282ea"/>
<circle cx="1469.6" cy="1309.7" r="9.0" fill="#d3dbe7"/>
<circle cx="1480.4" cy="1315.6" r="9.0" fill="#7b9ff9"/>
<circle cx="1462.7" cy="1285.2" r="9.0" fill="#8badfd"/>
<circle cx="1472.5" cy="1285.4" r="9.0" fill="#90b2fe"/>
<circle cx="1414.0" cy="1322.0" r="9.0" fill="#f6bda2"/>
<circle cx="1394.7" cy="1315.6" r="9.0" fill="#f2cab5"/>
<circle cx="1385.3" cy="1293.4" r="9.0" fill="#8caffe"/>
<circle cx="1415.1" cy="1319.4" r="9.0" fill="#7da0f9"/>
<circle cx="1419.9" cy="1308.5" r="9.0" fill="#84a7fc"/>
<circle cx="1409.0" cy="1285.9" r="9.0" fill="#dfdbd9"/>
<circle cx="1429.9" cy="1276.0" r="9.0" fill="#c7d7f0"/>
<circle cx="1390.3" cy="1306.4" r="9.0" fill="#92b4fe"/>
<circle cx="1493.8" cy="1294.8" r="9.0" fill="#6a8bef"/>
<circle cx="1462.6" cy="1312.7" r="9.0" fill="#bfd3f6"/>
<circle cx="1440.2" cy="1287.6" r="9.0" fill="#f7b093"/>
<circle cx="1392.7" cy="1297.7" r="9.0" fill="#e3d9d3"/>
<circle cx="1388.7" cy="1310.7" r="9.0" fill="#7a9df8"/>
<circle cx="1423.9" cy="1312.7" r="9.0" fill="#5572df"/>
<circle cx="1432.6" cy="1276.5" r="9.0" fill="#5977e3"/>
<circle cx="1407.0" cy="1293.4" r="9.0" fill="#5470de"/>
<circle cx="1452.1" cy="1295.9" r="9.0" fill="#dcdddd"/>
<circle cx="1416.2" cy="1288.8" r="9.0" fill="#9abbff"/>
<circle cx="1449.4" cy="1290.7" r="9.0" fill="#d3dbe7"/>
<circle cx="1454.6" cy="1308.3" r="9.0" fill="#f7af91"/>
<circle cx="1394.1" cy="1291.4" r="9.0" fill="#9abbff"/>
<circle cx="1461.4" cy="1315.0" r="9.0" fill="#f5c2aa"/>
<circle cx="1466.2" cy="1278.2" r="9.0" fill="#6180e9"/>
<circle cx="1429.5" cy="1281.0" r="9.0" fill="#90b2fe"/>
<circle cx="1491.5" cy="1278.5" r="9.0" fill="#6788ee"/>
<circle cx="1402.1" cy="1306.0" r="9.0" fill="#b1cbfc"/>
<circle cx="1443.8" cy="1298.8" r="9.0" fill="#506bda"/>
<circle cx="1390.5" cy="1282.6" r="9.0" fill="#a3c2fe"/>
<circle cx="1458.3" cy="1280.2" r="9.0" fill="#5b7ae5"/>
<circle cx="1466.8" cy="1298.5" r="9.0" fill="#dddcdc"/>
<circle cx="1422.5" cy="1317.0" r="9.0" fill="#5a78e4"/>
<circle cx="1410.6" cy="1320.9" r="9.0" fill="#f7b093"/>
<circle cx="1376.6" cy="1314.9" r="9.0" fill="#6788ee"/>
<circle cx="1444.0" cy="1320.8" r="9.0" fill="#afcafc"/>
<circle cx="1401.4" cy="1311.0" r="9.0" fill="#6282ea"/>
<circle cx="1437.2" cy="1324.3" r="9.0" fill="#6788ee"/>
<circle cx="1487.8" cy="1289.4" r="9.0" fill="#f6bfa6"/>
<circle cx="1462.7" cy="1321.5" r="9.0" fill="#3e51c5"/>
<circle cx="1448.2" cy="1302.1" r="9.0" fill="#3e51c5"/>
<circle cx="1382.3" cy="1293.9" r="9.0" fill="#6a8bef"/>
<circle cx="1436.2" cy="1310.4" r="9.0" fill="#7a9df8"/>
<circle cx="1426.0" cy="1302.7" r="9.0" fill="#9abbff"/>
<circle cx="1410.9" cy="1279.1" r="9.0" fill="#5673e0"/>
<circle cx="1470.0" cy="1282.9" r="9.0" fill="#3e51c5"/>
<circle cx="1436.1" cy="1303.8" r="9.0" fill="#85a8fc"/>
<circle cx="1436.0" cy="1320.9" r="9.0" fill="#81a4fb"/>
<circle cx="1472.4" cy="1291.2" r="9.0" fill="#5977e3"/>
<circle cx="1438.3" cy="1284.8" r="9.0" fill="#92b4fe"/>
<circle cx="1383.8" cy="1297.4" r="9.0" fill="#c0d4f5"/>
<circle cx="1379.1" cy="1311.2" r="9.0" fill="#b2ccfb"/>
<circle cx="1411.7" cy="1294.0" r="9.0" fill="#bed2f6"/>
<circle cx="1453.2" cy="1294.6" r="9.0" fill="#3d50c3"/>
<circle cx="1470.1" cy="1313.3" r="9.0" fill="#5e7de7"/>
<circle cx="1455.1" cy="1277.0" r="9.0" fill="#b1cbfc"/>
<circle cx="1447.7" cy="1286.7" r="9.0" fill="#bbd1f8"/>
<circle cx="1417.3" cy="1311.6" r="9.0" fill="#cdd9ec"/>
<circle cx="1466.0" cy="1308.4" r="9.0" fill="#3e51c5"/>
<circle cx="1439.1" cy="1321.4" r="9.0" fill="#dfdbd9"/>
<circle cx="1426.8" cy="1311.8" r="9.0" fill="#8badfd"/>
<circle cx="1406.0" cy="1318.3" r="9.0" fill="#e2dad5"/>
<circle cx="1436.2" cy="1286.1" r="9.0" fill="#88abfd"/>
<circle cx="1442.6" cy="1325.1" r="9.0" fill="#a9c6fd"/>
<circle cx="1372.0" cy="1314.2" r="9.0" fill="#5977e3"/>
<circle cx="1460.8" cy="1281.2" r="9.0" fill="#f2cab5"/>
<circle cx="1434.8" cy="1321.4" r="9.0" fill="#f6bfa6"/>
<circle cx="1433.7" cy="1282.3" r="9.0" fill="#3d50c3"/>
<circle cx="1418.1" cy="1275.5" r="9.0" fill="#cad8ef"/>
<circle cx="1404.5" cy="1282.0" r="9.0" fill="#82a6fb"/>
<circle cx="1412.9" cy="1324.2" r="9.0" fill="#a2c1ff"/>
<circle cx="1382.7" cy="1299.4" r="9.0" fill="#3e51c5"/>
<circle cx="1408.9" cy="1319.8" r="9.0" fill="#5470de"/>
<circle cx="1444.4" cy="1322.8" r="9.0" fill="#d9dce1"/>
<circle cx="1385.2" cy="1281.4" r="9.0" fill="#98b9ff"/>
<circle cx="1455.8" cy="1310.1" r="9.0" fill="#d8dce2"/>
<circle cx="1395.1" cy="1317.5" r="9.0" fill="#ccd9ed"/>
<circle cx="1489.7" cy="1318.1" r="9.0" fill="#88abfd"/>
<circle cx="1393.6" cy="1282.0" r="9.0" fill="#b6cefa"/>
<circle cx="1425.6" cy="1290.6" r="9.0" fill="#5a78e4"/>
<circle cx="1430.8" cy="1313.8" r="9.0" fill="#f2c9b4"/>
<circle cx="1414.7" cy="1320.9" r="9.0" fill="#d9dce1"/>
<circle cx="1440.4" cy="1323.1" r="9.0" fill="#afcafc"/>
<circle cx="1394.8" cy="1325.1" r="9.0" fill="#dcdddd"/>
<circle cx="1430.5" cy="1318.7" r="9.0" fill="#b2ccfb"/>
<circle cx="1445.0" cy="1280.8" r="9.0" fill="#abc8fd"/>
<circle cx="1435.6" cy="1283.1" r="9.0" fill="#7da0f9"/>
<circle cx="1404.8" cy="1279.7" r="9.0" fill="#f7b89c"/>
<circle cx="1371.8" cy="1281.6" r="9.0" fill="#80a3fa"/>
<circle cx="1417.2" cy="1284.1" r="9.0" fill="#5a78e4"/>
<circle cx="1464.4" cy="1298.3" r="9.0" fill="#5a78e4"/>
<circle cx="1383.7" cy="1298.1" r="9.0" fill="#dbdcde"/>
<circle cx="1418.6" cy="1306.7" r="9.0" fill="#f5c4ac"/>
<circle cx="1423.0" cy="1397.2" r="9.0" fill="#3e51c5"/>
<circle cx="1449.9" cy="1382.9" r="9.0" fill="#3e51c5"/>
<circle cx="1468.3" cy="1368.1" r="9.0" fill="#3d50c3"/>
<circle cx="1440.7" cy="1406.0" r="9.0" fill="#3c4ec2"/>
<circle cx="1372.8" cy="1393.5" r="9.0" fill="#516ddb"/>
<circle cx="1371.0" cy="1367.0" r="9.0" fill="#5e7de7"/>
<circle cx="1442.8" cy="1380.1" r="9.0" fill="#5a78e4"/>
<circle cx="1445.8" cy="1393.7" r="9.0" fill="#3d50c3"/>
<circle cx="1420.0" cy="1367.6" r="9.0" fill="#3f53c6"/>
<circle cx="1428.3" cy="1386.0" r="9.0" fill="#3e51c5"/>
<circle cx="1403.7" cy="1404.4" r="9.0" fill="#3c4ec2"/>
<circle cx="1440.6" cy="1393.4" r="9.0" fill="#4f69d9"/>
<circle cx="1428.3" cy="1413.7" r="9.0" fill="#3d50c3"/>
<circle cx="1403.4" cy="1402.5" r="9.0" fill="#3e51c5"/>
<circle cx="1482.4" cy="1402.9" r="9.0" fill="#4f69d9"/>
<circle cx="1444.7" cy="1380.3" r="9.0" fill="#3e51c5"/>
<circle cx="1398.1" cy="1406.7" r="9.0" fill="#6687ed"/>
<circle cx="1413.4" cy="1397.9" r="9.0" fill="#3f53c6"/>
<circle cx="1444.5" cy="1383.9" r="9.0" fill="#3b4cc0"/>
<circle cx="1406.2" cy="1387.7" r="9.0" fill="#3b4cc0"/>
<circle cx="1487.8" cy="1371.1" r="9.0" fill="#3d50c3"/>
<circle cx="1453.7" cy="1408.2" r="9.0" fill="#3d50c3"/>
<circle cx="1409.8" cy="1405.6" r="9.0" fill="#5e7de7"/>
<circle cx="1403.6" cy="1408.9" r="9.0" fill="#82a6fb"/>
<circle cx="1448.7" cy="1373.5" r="9.0" fill="#3c4ec2"/>
<circle cx="1385.5" cy="1377.8" r="9.0" fill="#3d50c3"/>
<circle cx="1436.4" cy="1383.1" r="9.0" fill="#516ddb"/>
<circle cx="1416.6" cy="1395.5" r="9.0" fill="#3b4cc0"/>
<circle cx="1392.8" cy="1409.6" r="9.0" fill="#4f69d9"/>
<circle cx="1442.4" cy="1384.6" r="9.0" fill="#3e51c5"/>
<circle cx="1398.6" cy="1367.8" r="9.0" fill="#3c4ec2"/>
<circle cx="1448.7" cy="1367.3" r="9.0" fill="#3b4cc0"/>
<circle cx="1459.2" cy="1369.7" r="9.0" fill="#3b4cc0"/>
<circle cx="1466.0" cy="1372.1" r="9.0" fill="#3d50c3"/>
<circle cx="1397.7" cy="1382.9" r="9.0" fill="#4f69d9"/>
<circle cx="1471.2" cy="1388.8" r="9.0" fill="#3b4cc0"/>
<circle cx="1430.3" cy="1381.8" r="9.0" fill="#4e68d8"/>
<circle cx="1436.0" cy="1412.2" r="9.0" fill="#3b4cc0"/>
<circle cx="1438.4" cy="1391.8" r="9.0" fill="#3e51c5"/>
<circle cx="1422.6" cy="1399.5" r="9.0" fill="#3d50c3"/>
<circle cx="1462.0" cy="1391.3" r="9.0" fill="#3d50c3"/>
<circle cx="1484.2" cy="1375.8" r="9.0" fill="#7a9df8"/>
<circle cx="1470.1" cy="1405.6" r="9.0" fill="#3c4ec2"/>
<circle cx="1381.3" cy="1390.5" r="9.0" fill="#3b4cc0"/>
<circle cx="1459.9" cy="1377.6" r="9.0" fill="#516ddb"/>
<circle cx="1436.9" cy="1387.0" r="9.0" fill="#7a9df8"/>
<circle cx="1464.0" cy="1375.7" r="9.0" fill="#3c4ec2"/>
<circle cx="1422.7" cy="1374.9" r="9.0" fill="#506bda"/>
<circle cx="1453.5" cy="1397.3" r="9.0" fill="#3b4cc0"/>
<circle cx="1398.3" cy="1397.7" r="9.0" fill="#7295f4"/>
<circle cx="1432.0" cy="1373.6" r="9.0" fill="#3d50c3"/>
<circle cx="1392.1" cy="1404.7" r="9.0" fill="#90b2fe"/>
<circle cx="1481.2" cy="1400.9" r="9.0" fill="#3b4cc0"/>
<circle cx="1476.2" cy="1405.0" r="9.0" fill="#4e68d8"/>
<circle cx="1493.7" cy="1413.7" r="9.0" fill="#3d50c3"/>
<circle cx="1414.3" cy="1365.4" r="9.0" fill="#9ebeff"/>
<circle cx="1426.4" cy="1391.0" r="9.0" fill="#6384eb"/>
<circle cx="1477.3" cy="1375.2" r="9.0" fill="#3c4ec2"/>
<circle cx="1384.8" cy="1376.7" r="9.0" fill="#3c4ec2"/>
<circle cx="1415.8" cy="1410.2" r="9.0" fill="#3d50c3"/>
<circle cx="1441.0" cy="1393.8" r="9.0" fill="#6384eb"/>
<circle cx="1467.9" cy="1391.2" r="9.0" fill="#3b4cc0"/>
<circle cx="1411.6" cy="1386.7" r="9.0" fill="#3b4cc0"/>
<circle cx="1438.5" cy="1388.3" r="9.0" fill="#3e51c5"/>
<circle cx="1411.5" cy="1381.0" r="9.0" fill="#3e51c5"/>
<circle cx="1435.5" cy="1392.7" r="9.0" fill="#3c4ec2"/>
<circle cx="1415.8" cy="1403.3" r="9.0" fill="#3e51c5"/>
<circle cx="1436.8" cy="1386.8" r="9.0" fill="#3e51c5"/>
<circle cx="1378.4" cy="1387.3" r="9.0" fill="#3d50c3"/>
<circle cx="1427.9" cy="1411.7" r="9.0" fill="#4f69d9"/>
<circle cx="1457.4" cy="1392.6" r="9.0" fill="#7597f6"/>
<circle cx="1422.4" cy="1371.5" r="9.0" fill="#3d50c3"/>
<circle cx="1455.3" cy="1368.3" r="9.0" fill="#4e68d8"/>
<circle cx="1443.4" cy="1409.5" r="9.0" fill="#3f53c6"/>
<circle cx="1421.6" cy="1408.8" r="9.0" fill="#86a9fc"/>
<circle cx="1415.6" cy="1412.3" r="9.0" fill="#3d50c3"/>
<circle cx="1498.0" cy="1372.7" r="9.0" fill="#3e51c5"/>
<circle cx="1427.8" cy="1381.6" r="9.0" fill="#3c4ec2"/>
<circle cx="1430.8" cy="1392.4" r="9.0" fill="#3b4cc0"/>
<circle cx="1425.2" cy="1381.2" r="9.0" fill="#3e51c5"/>
<circle cx="1471.9" cy="1404.1" r="9.0" fill="#81a4fb"/>
<circle cx="1431.0" cy="1403.6" r="9.0" fill="#3b4cc0"/>
<circle cx="1441.9" cy="1385.8" r="9.0" fill="#7396f5"/>
<circle cx="1430.9" cy="1410.6" r="9.0" fill="#3f53c6"/>
<circle cx="1451.9" cy="1369.1" r="9.0" fill="#3f53c6"/>
<circle cx="1419.9" cy="1411.6" r="9.0" fill="#4e68d8"/>
<circle cx="1438.1" cy="1368.8" r="9.0" fill="#5572df"/>
<circle cx="1457.0" cy="1381.6" r="9.0" fill="#506bda"/>
<circle cx="1402.8" cy="1378.1" r="9.0" fill="#3e51c5"/>
<circle cx="1433.2" cy="1372.7" r="9.0" fill="#3c4ec2"/>
<circle cx="1448.8" cy="1380.3" r="9.0" fill="#4c66d6"/>
<circle cx="1421.8" cy="1373.6" r="9.0" fill="#3b4cc0"/>
<circle cx="1471.9" cy="1377.2" r="9.0" fill="#3f53c6"/>
<circle cx="1410.5" cy="1388.4" r="9.0" fill="#5673e0"/>
<circle cx="1424.8" cy="1405.6" r="9.0" fill="#3e51c5"/>
<circle cx="1449.7" cy="1390.0" r="9.0" fill="#536edd"/>
<circle cx="1401.8" cy="1381.8" r="9.0" fill="#6f92f3"/>
<circle cx="1408.6" cy="1382.0" r="9.0" fill="#3b4cc0"/>
<circle cx="1405.1" cy="1368.2" r="9.0" fill="#3c4ec2"/>
<circle cx="1439.6" cy="1406.7" r="9.0" fill="#6e90f2"/>
<circle cx="1444.6" cy="1378.8" r="9.0" fill="#3c4ec2"/>
<circle cx="1412.2" cy="1386.9" r="9.0" fill="#516ddb"/>
<circle cx="1437.2" cy="1413.3" r="9.0" fill="#3c4ec2"/>
<circle cx="1461.4" cy="1382.5" r="9.0" fill="#3d50c3"/>
<circle cx="1425.6" cy="1388.4" r="9.0" fill="#3c4ec2"/>
<circle cx="1428.5" cy="1377.9" r="9.0" fill="#3d50c3"/>
<circle cx="1431.9" cy="1366.7" r="9.0" fill="#3c4ec2"/>
<circle cx="1437.0" cy="1391.1" r="9.0" fill="#3f53c6"/>
<circle cx="1478.2" cy="1400.5" r="9.0" fill="#6282ea"/>
<circle cx="1385.4" cy="1372.1" r="9.0" fill="#3e51c5"/>
<circle cx="1496.0" cy="1409.3" r="9.0" fill="#3f53c6"/>
<circle cx="1450.1" cy="1405.3" r="9.0" fill="#3e51c5"/>
<circle cx="1430.2" cy="1404.9" r="9.0" fill="#6a8bef"/>
<circle cx="1473.5" cy="1399.3" r="9.0" fill="#3b4cc0"/>
<circle cx="1398.9" cy="1371.3" r="9.0" fill="#3b4cc0"/>
<circle cx="1192.1" cy="842.2" r="9.0" fill="#3e51c5"/>
<circle cx="1155.5" cy="865.8" r="9.0" fill="#3e51c5"/>
<circle cx="1282.7" cy="863.9" r="9.0" fill="#3e51c5"/>
<circle cx="1306.0" cy="828.6" r="9.0" fill="#5977e3"/>
<circle cx="1320.1" cy="836.2" r="9.0" fill="#82a6fb"/>
<circle cx="1327.2" cy="844.6" r="9.0" fill="#3e51c5"/>
<circle cx="1319.7" cy="860.6" r="9.0" fill="#3e51c5"/>
<circle cx="1323.1" cy="873.7" r="9.0" fill="#3e51c5"/>
<circle cx="1537.5" cy="833.3" r="9.0" fill="#e36c55"/>
<circle cx="1520.6" cy="838.0" r="9.0" fill="#3e51c5"/>
<circle cx="1529.1" cy="841.8" r="9.0" fill="#3c4ec2"/>
<circle cx="1536.6" cy="847.4" r="9.0" fill="#3c4ec2"/>
<circle cx="1518.8" cy="847.4" r="9.0" fill="#3c4ec2"/>
<circle cx="1553.1" cy="847.4" r="9.0" fill="#82a6fb"/>
<circle cx="1503.8" cy="840.8" r="9.0" fill="#3e51c5"/>
<circle cx="1511.3" cy="856.8" r="9.0" fill="#3e51c5"/>
<circle cx="1504.7" cy="864.3" r="9.0" fill="#3c4ec2"/>
<circle cx="1501.9" cy="875.6" r="9.0" fill="#7b9ff9"/>
<circle cx="1584.1" cy="871.8" r="9.0" fill="#3e51c5"/>
<circle cx="1604.7" cy="866.6" r="9.0" fill="#bad0f8"/>
<circle cx="1629.1" cy="839.9" r="9.0" fill="#536edd"/>
<circle cx="1149.5" cy="952.9" r="9.0" fill="#3e51c5"/>
<circle cx="1271.8" cy="916.9" r="9.0" fill="#3e51c5"/>
<circle cx="1279.3" cy="918.7" r="9.0" fill="#3c4ec2"/>
<circle cx="1263.4" cy="930.9" r="9.0" fill="#82a6fb"/>
<circle cx="1291.5" cy="923.4" r="9.0" fill="#3e51c5"/>
<circle cx="1306.5" cy="918.7" r="9.0" fill="#afcafc"/>
<circle cx="1300.5" cy="937.5" r="9.0" fill="#3e51c5"/>
<circle cx="1309.4" cy="936.2" r="9.0" fill="#3e51c5"/>
<circle cx="1323.4" cy="955.3" r="9.0" fill="#3e51c5"/>
<circle cx="1516.0" cy="923.4" r="9.0" fill="#e36c55"/>
<circle cx="1517.8" cy="935.6" r="9.0" fill="#5977e3"/>
<circle cx="1503.8" cy="941.3" r="9.0" fill="#3e51c5"/>
<circle cx="1528.2" cy="945.0" r="9.0" fill="#f6bda2"/>
<circle cx="1548.2" cy="930.9" r="9.0" fill="#dddcdc"/>
<circle cx="1541.3" cy="956.3" r="9.0" fill="#afcafc"/>
<circle cx="1515.0" cy="958.2" r="9.0" fill="#3e51c5"/>
<circle cx="1516.0" cy="966.6" r="9.0" fill="#6a8bef"/>
<circle cx="1501.9" cy="961.9" r="9.0" fill="#3e51c5"/>
<circle cx="1580.7" cy="927.2" r="9.0" fill="#3e51c5"/>
<circle cx="1577.3" cy="943.1" r="9.0" fill="#afcafc"/>
<circle cx="1577.3" cy="967.2" r="9.0" fill="#8db0fe"/>
<circle cx="1022.8" cy="1038.5" r="9.0" fill="#8db0fe"/>
<circle cx="1130.7" cy="1016.0" r="9.0" fill="#5977e3"/>
<circle cx="1208.0" cy="1034.2" r="9.0" fill="#3e51c5"/>
<circle cx="1225.8" cy="1033.4" r="9.0" fill="#3e51c5"/>
<circle cx="1263.0" cy="1018.8" r="9.0" fill="#3e51c5"/>
<circle cx="1285.9" cy="1043.2" r="9.0" fill="#3e51c5"/>
<circle cx="1311.8" cy="1005.3" r="9.0" fill="#5977e3"/>
<circle cx="1319.7" cy="1032.3" r="9.0" fill="#5977e3"/>
<circle cx="1315.0" cy="1050.7" r="9.0" fill="#8db0fe"/>
<circle cx="1304.7" cy="1057.8" r="9.0" fill="#536edd"/>
<circle cx="1325.3" cy="1053.5" r="9.0" fill="#3e51c5"/>
<circle cx="1328.1" cy="1043.2" r="9.0" fill="#7b9ff9"/>
<circle cx="1913.0" cy="1014.2" r="9.0" fill="#f18d6f"/>
<circle cx="1659.1" cy="1046.0" r="9.0" fill="#8db0fe"/>
<circle cx="1580.9" cy="1039.9" r="9.0" fill="#7b9ff9"/>
<circle cx="1562.8" cy="1056.0" r="9.0" fill="#9ebeff"/>
<circle cx="1539.2" cy="1053.9" r="9.0" fill="#3e51c5"/>
<circle cx="1538.4" cy="1011.5" r="9.0" fill="#82a6fb"/>
<circle cx="1521.7" cy="1014.2" r="9.0" fill="#dddcdc"/>
<circle cx="1522.5" cy="1023.4" r="9.0" fill="#3e51c5"/>
<circle cx="1531.8" cy="1023.4" r="9.0" fill="#6a8bef"/>
<circle cx="1514.6" cy="1043.3" r="9.0" fill="#f7b396"/>
<circle cx="1502.7" cy="1018.1" r="9.0" fill="#3e51c5"/>
<circle cx="1200.1" cy="1126.7" r="9.0" fill="#3e51c5"/>
<circle cx="1275.6" cy="1121.6" r="9.0" fill="#7597f6"/>
<circle cx="1299.0" cy="1106.1" r="9.0" fill="#8db0fe"/>
<circle cx="1293.0" cy="1117.3" r="9.0" fill="#97b8ff"/>
<circle cx="1306.5" cy="1131.4" r="9.0" fill="#82a6fb"/>
<circle cx="1318.7" cy="1138.0" r="9.0" fill="#97b8ff"/>
<circle cx="1287.8" cy="1142.7" r="9.0" fill="#a9c6fd"/>
<circle cx="1329.1" cy="1127.6" r="9.0" fill="#3e51c5"/>
<circle cx="1629.9" cy="1094.5" r="9.0" fill="#ee8468"/>
<circle cx="1580.3" cy="1109.6" r="9.0" fill="#ee8468"/>
<circle cx="1525.2" cy="1108.3" r="9.0" fill="#6a8bef"/>
<circle cx="1524.4" cy="1113.6" r="9.0" fill="#f2cbb7"/>
<circle cx="1513.8" cy="1127.6" r="9.0" fill="#7b9ff9"/>
<circle cx="1500.0" cy="1105.6" r="9.0" fill="#f6bda2"/>
<circle cx="1201.1" cy="1185.7" r="9.0" fill="#3e51c5"/>
<circle cx="1298.1" cy="1230.8" r="9.0" fill="#3e51c5"/>
<circle cx="1327.2" cy="1213.5" r="9.0" fill="#3e51c5"/>
<circle cx="1347.5" cy="1195.9" r="9.0" fill="#3e51c5"/>
<circle cx="1361.5" cy="1195.5" r="9.0" fill="#3e51c5"/>
<circle cx="1342.5" cy="1219.4" r="9.0" fill="#3e51c5"/>
<circle cx="1359.5" cy="1211.4" r="9.0" fill="#3c4ec2"/>
<circle cx="1367.4" cy="1223.8" r="9.0" fill="#3c4ec2"/>
<circle cx="1348.5" cy="1236.8" r="9.0" fill="#3e51c5"/>
<circle cx="1366.4" cy="1229.8" r="9.0" fill="#3e51c5"/>
<circle cx="1475.1" cy="1187.9" r="9.0" fill="#afcafc"/>
<circle cx="1496.1" cy="1186.9" r="9.0" fill="#3e51c5"/>
<circle cx="1484.1" cy="1194.9" r="9.0" fill="#f6bda2"/>
<circle cx="1495.1" cy="1235.8" r="9.0" fill="#afcafc"/>
<circle cx="1511.0" cy="1204.9" r="9.0" fill="#dddcdc"/>
<circle cx="1507.0" cy="1211.8" r="9.0" fill="#8db0fe"/>
<circle cx="1517.0" cy="1226.8" r="9.0" fill="#f6a586"/>
<circle cx="1488.1" cy="1220.8" r="9.0" fill="#e9d5cb"/>
<circle cx="1479.1" cy="1233.8" r="9.0" fill="#dddcdc"/>
<circle cx="1584.3" cy="1187.8" r="9.0" fill="#f7ac8e"/>
<circle cx="1572.9" cy="1211.2" r="9.0" fill="#f7ac8e"/>
<circle cx="1517.2" cy="1227.6" r="9.0" fill="#f6a586"/>
<circle cx="1512.7" cy="1203.2" r="9.0" fill="#e9d5cb"/>
<circle cx="1521.2" cy="1210.4" r="9.0" fill="#e9d5cb"/>
<circle cx="1506.6" cy="1211.7" r="9.0" fill="#8db0fe"/>
<circle cx="1110.8" cy="1283.3" r="9.0" fill="#afcafc"/>
<circle cx="1212.7" cy="1297.6" r="9.0" fill="#3e51c5"/>
<circle cx="1305.6" cy="1300.0" r="9.0" fill="#f6bda2"/>
<circle cx="1354.5" cy="1288.6" r="9.0" fill="#afcafc"/>
<circle cx="1360.5" cy="1322.5" r="9.0" fill="#3e51c5"/>
<circle cx="1361.5" cy="1312.5" r="9.0" fill="#82a6fb"/>
<circle cx="1761.1" cy="1300.5" r="9.0" fill="#f7b396"/>
<circle cx="1568.9" cy="1284.6" r="9.0" fill="#8db0fe"/>
<circle cx="1509.3" cy="1275.9" r="9.0" fill="#6a8bef"/>
<circle cx="1518.0" cy="1282.7" r="9.0" fill="#82a6fb"/>
<circle cx="1534.5" cy="1304.5" r="9.0" fill="#afcafc"/>
<circle cx="1511.1" cy="1318.5" r="9.0" fill="#b40426"/>
<circle cx="1252.2" cy="1393.7" r="9.0" fill="#6a8bef"/>
<circle cx="1302.6" cy="1381.3" r="9.0" fill="#3e51c5"/>
<circle cx="1322.6" cy="1365.4" r="9.0" fill="#3e51c5"/>
<circle cx="1332.5" cy="1400.3" r="9.0" fill="#3e51c5"/>
<circle cx="1360.5" cy="1402.9" r="9.0" fill="#3e51c5"/>
<circle cx="1376.4" cy="1412.2" r="9.0" fill="#3c4ec2"/>
<circle cx="1376.4" cy="1362.4" r="9.0" fill="#3e51c5"/>
<circle cx="1423.3" cy="1370.4" r="9.0" fill="#b40426"/>
<circle cx="1472.1" cy="1387.3" r="9.0" fill="#b40426"/>
<circle cx="1446.2" cy="1385.3" r="9.0" fill="#f4c6af"/>
<circle cx="1487.1" cy="1367.4" r="9.0" fill="#3e51c5"/>
<circle cx="1489.1" cy="1380.3" r="9.0" fill="#3e51c5"/>
<circle cx="1504.0" cy="1400.3" r="9.0" fill="#3e51c5"/>
<circle cx="1489.1" cy="1407.3" r="9.0" fill="#3e51c5"/>
<circle cx="1461.2" cy="1413.2" r="9.0" fill="#7b9ff9"/>
<circle cx="1558.3" cy="1366.3" r="9.0" fill="#8db0fe"/>
<circle cx="1518.0" cy="1375.5" r="9.0" fill="#3e51c5"/>
<circle cx="1505.3" cy="1400.7" r="9.0" fill="#3e51c5"/>
</g>
<rect x="1011.5" y="808.6" width="917.1" height="625.0" fill="none" stroke="#000" stroke-width="2.7"/>
<line x1="1014.1" y1="1433.6" x2="1014.1" y2="1446.3" stroke="#000" stroke-width="2.6"/>
<text x="1014.1" y="1485.6" font-size="37" text-anchor="middle">−2</text>
<line x1="1218.2" y1="1433.6" x2="1218.2" y2="1446.3" stroke="#000" stroke-width="2.6"/>
<text x="1218.2" y="1485.6" font-size="37" text-anchor="middle">−1</text>
<line x1="1422.3" y1="1433.6" x2="1422.3" y2="1446.3" stroke="#000" stroke-width="2.6"/>
<text x="1422.3" y="1485.6" font-size="37" text-anchor="middle">0</text>
<line x1="1626.4" y1="1433.6" x2="1626.4" y2="1446.3" stroke="#000" stroke-width="2.6"/>
<text x="1626.4" y="1485.6" font-size="37" text-anchor="middle">1</text>
<line x1="1830.5" y1="1433.6" x2="1830.5" y2="1446.3" stroke="#000" stroke-width="2.6"/>
<text x="1830.5" y="1485.6" font-size="37" text-anchor="middle">2</text>
<text x="1343.4" y="1536.8" font-size="42" textLength="250.8" lengthAdjust="spacingAndGlyphs" font-weight="normal">SHAP values</text>
<line x1="998.5" y1="853.9" x2="1011.5" y2="853.9" stroke="#000" stroke-width="2.6"/>
<text x="367.7" y="867.3" font-size="37.5" textLength="595.5" lengthAdjust="spacingAndGlyphs" font-weight="normal">Parent withdrawal syndrome score</text>
<line x1="998.5" y1="943.2" x2="1011.5" y2="943.2" stroke="#000" stroke-width="2.6"/>
<text x="371.8" y="956.6" font-size="37.5" textLength="591.4" lengthAdjust="spacingAndGlyphs" font-weight="normal">Parent inattention syndrome score</text>
<line x1="998.5" y1="1032.5" x2="1011.5" y2="1032.5" stroke="#000" stroke-width="2.6"/>
<text x="421.4" y="1045.9" font-size="37.5" textLength="541.8" lengthAdjust="spacingAndGlyphs" font-weight="normal">Parent somatic syndrome score</text>
<line x1="998.5" y1="1121.8" x2="1011.5" y2="1121.8" stroke="#000" stroke-width="2.6"/>
<text x="310.9" y="1135.2" font-size="37.5" textLength="652.3" lengthAdjust="spacingAndGlyphs" font-weight="normal">Parent total problems syndrome score</text>
<line x1="998.5" y1="1211.1" x2="1011.5" y2="1211.1" stroke="#000" stroke-width="2.6"/>
<text x="166.9" y="1208.0" font-size="37.5" textLength="797.2" lengthAdjust="spacingAndGlyphs" font-weight="normal">Child has seen clinician for medical issue other</text>
<text x="591.6" y="1235.7" font-size="37.5" textLength="371.6" lengthAdjust="spacingAndGlyphs" font-weight="normal">than regular checkup</text>
<line x1="998.5" y1="1300.4" x2="1011.5" y2="1300.4" stroke="#000" stroke-width="2.6"/>
<text x="284.6" y="1313.8" font-size="37.5" textLength="678.6" lengthAdjust="spacingAndGlyphs" font-weight="normal">Total sleep disturbance syndrome score</text>
<line x1="998.5" y1="1389.7" x2="1011.5" y2="1389.7" stroke="#000" stroke-width="2.6"/>
<text x="440.0" y="1403.1" font-size="37.5" textLength="523.2" lengthAdjust="spacingAndGlyphs" font-weight="normal">Parent general behavior score</text>
<text transform="translate(38.3,1237.1) rotate(-90)" x="0" y="0" font-size="55" textLength="218.7" lengthAdjust="spacingAndGlyphs">Features</text>
<text x="-1.0" y="758.0" font-size="34" font-weight="bold" class="b">B</text>
<line x1="1129.1" y1="1578.3" x2="1129.1" y2="2203.3" stroke="#d5d5d5" stroke-width="2.6" stroke-dasharray="10.2 4.4"/>
<line x1="1293.4" y1="1578.3" x2="1293.4" y2="2203.3" stroke="#d5d5d5" stroke-width="2.6" stroke-dasharray="10.2 4.4"/>
<line x1="1457.7" y1="1578.3" x2="1457.7" y2="2203.3" stroke="#d5d5d5" stroke-width="2.6" stroke-dasharray="10.2 4.4"/>
<line x1="1622.0" y1="1578.3" x2="1622.0" y2="2203.3" stroke="#d5d5d5" stroke-width="2.6" stroke-dasharray="10.2 4.4"/>
<line x1="1786.4" y1="1578.3" x2="1786.4" y2="2203.3" stroke="#d5d5d5" stroke-width="2.6" stroke-dasharray="10.2 4.4"/>
<g stroke="#000" stroke-opacity="0.65" stroke-width="1.6" fill-opacity="0.7">
<circle cx="1245.2" cy="1621.2" r="9.0" fill="#ba162b"/>
<circle cx="1195.1" cy="1623.5" r="9.0" fill="#b70d28"/>
<circle cx="1180.7" cy="1638.4" r="9.0" fill="#3b4cc0"/>
<circle cx="1394.9" cy="1646.2" r="9.0" fill="#b8122a"/>
<circle cx="1209.2" cy="1600.9" r="9.0" fill="#be242e"/>
<circle cx="1168.2" cy="1621.1" r="9.0" fill="#b50927"/>
<circle cx="1274.5" cy="1631.1" r="9.0" fill="#be242e"/>
<circle cx="1385.4" cy="1647.7" r="9.0" fill="#3d50c3"/>
<circle cx="1235.1" cy="1601.5" r="9.0" fill="#3c4ec2"/>
<circle cx="1367.1" cy="1617.3" r="9.0" fill="#3d50c3"/>
<circle cx="1165.6" cy="1621.4" r="9.0" fill="#3c4ec2"/>
<circle cx="1198.4" cy="1629.4" r="9.0" fill="#3b4cc0"/>
<circle cx="1167.7" cy="1635.8" r="9.0" fill="#be242e"/>
<circle cx="1206.1" cy="1600.9" r="9.0" fill="#3b4cc0"/>
<circle cx="1285.3" cy="1634.5" r="9.0" fill="#b8122a"/>
<circle cx="1189.5" cy="1619.0" r="9.0" fill="#be242e"/>
<circle cx="1391.0" cy="1642.2" r="9.0" fill="#bd1f2d"/>
<circle cx="1352.7" cy="1630.0" r="9.0" fill="#b40426"/>
<circle cx="1209.2" cy="1614.4" r="9.0" fill="#c12b30"/>
<circle cx="1198.4" cy="1627.1" r="9.0" fill="#ba162b"/>
<circle cx="1223.1" cy="1622.1" r="9.0" fill="#b50927"/>
<circle cx="1210.3" cy="1605.6" r="9.0" fill="#3d50c3"/>
<circle cx="1224.7" cy="1645.0" r="9.0" fill="#b40426"/>
<circle cx="1382.6" cy="1628.1" r="9.0" fill="#c12b30"/>
<circle cx="1176.3" cy="1633.2" r="9.0" fill="#b50927"/>
<circle cx="1298.5" cy="1612.6" r="9.0" fill="#b70d28"/>
<circle cx="1177.9" cy="1640.6" r="9.0" fill="#be242e"/>
<circle cx="1388.3" cy="1608.1" r="9.0" fill="#be242e"/>
<circle cx="1270.5" cy="1616.4" r="9.0" fill="#c0282f"/>
<circle cx="1247.4" cy="1642.5" r="9.0" fill="#3d50c3"/>
<circle cx="1317.7" cy="1599.7" r="9.0" fill="#b40426"/>
<circle cx="1321.9" cy="1646.1" r="9.0" fill="#b8122a"/>
<circle cx="1272.3" cy="1647.9" r="9.0" fill="#ba162b"/>
<circle cx="1324.5" cy="1643.0" r="9.0" fill="#3d50c3"/>
<circle cx="1354.4" cy="1632.2" r="9.0" fill="#3d50c3"/>
<circle cx="1253.3" cy="1637.5" r="9.0" fill="#3c4ec2"/>
<circle cx="1297.1" cy="1628.4" r="9.0" fill="#b8122a"/>
<circle cx="1402.3" cy="1641.9" r="9.0" fill="#3c4ec2"/>
<circle cx="1323.3" cy="1639.9" r="9.0" fill="#b70d28"/>
<circle cx="1161.8" cy="1628.0" r="9.0" fill="#be242e"/>
<circle cx="1310.3" cy="1644.0" r="9.0" fill="#c32e31"/>
<circle cx="1231.0" cy="1631.8" r="9.0" fill="#c0282f"/>
<circle cx="1367.1" cy="1642.5" r="9.0" fill="#b8122a"/>
<circle cx="1197.5" cy="1619.5" r="9.0" fill="#3d50c3"/>
<circle cx="1357.0" cy="1613.8" r="9.0" fill="#bb1b2c"/>
<circle cx="1365.5" cy="1640.4" r="9.0" fill="#3d50c3"/>
<circle cx="1230.4" cy="1611.7" r="9.0" fill="#bd1f2d"/>
<circle cx="1316.6" cy="1622.6" r="9.0" fill="#b50927"/>
<circle cx="1387.0" cy="1599.5" r="9.0" fill="#3b4cc0"/>
<circle cx="1327.7" cy="1626.5" r="9.0" fill="#b70d28"/>
<circle cx="1171.7" cy="1599.2" r="9.0" fill="#3b4cc0"/>
<circle cx="1201.4" cy="1600.3" r="9.0" fill="#bb1b2c"/>
<circle cx="1297.8" cy="1645.9" r="9.0" fill="#3b4cc0"/>
<circle cx="1256.6" cy="1606.9" r="9.0" fill="#bb1b2c"/>
<circle cx="1331.3" cy="1615.2" r="9.0" fill="#3c4ec2"/>
<circle cx="1311.6" cy="1635.8" r="9.0" fill="#b70d28"/>
<circle cx="1392.8" cy="1634.1" r="9.0" fill="#bb1b2c"/>
<circle cx="1319.1" cy="1643.4" r="9.0" fill="#ba162b"/>
<circle cx="1373.6" cy="1621.1" r="9.0" fill="#c0282f"/>
<circle cx="1306.7" cy="1638.9" r="9.0" fill="#b70d28"/>
<circle cx="1232.8" cy="1646.8" r="9.0" fill="#b70d28"/>
<circle cx="1218.8" cy="1643.4" r="9.0" fill="#3c4ec2"/>
<circle cx="1167.7" cy="1636.4" r="9.0" fill="#c12b30"/>
<circle cx="1354.7" cy="1601.1" r="9.0" fill="#3b4cc0"/>
<circle cx="1240.0" cy="1605.4" r="9.0" fill="#b70d28"/>
<circle cx="1352.0" cy="1632.4" r="9.0" fill="#3c4ec2"/>
<circle cx="1389.1" cy="1624.3" r="9.0" fill="#b70d28"/>
<circle cx="1313.8" cy="1624.1" r="9.0" fill="#3c4ec2"/>
<circle cx="1219.1" cy="1643.0" r="9.0" fill="#b50927"/>
<circle cx="1400.7" cy="1624.2" r="9.0" fill="#c0282f"/>
<circle cx="1272.3" cy="1599.3" r="9.0" fill="#3c4ec2"/>
<circle cx="1253.9" cy="1638.0" r="9.0" fill="#bb1b2c"/>
<circle cx="1333.8" cy="1618.6" r="9.0" fill="#3d50c3"/>
<circle cx="1228.3" cy="1621.6" r="9.0" fill="#bb1b2c"/>
<circle cx="1360.9" cy="1613.8" r="9.0" fill="#b8122a"/>
<circle cx="1370.8" cy="1604.4" r="9.0" fill="#3b4cc0"/>
<circle cx="1207.8" cy="1614.0" r="9.0" fill="#b8122a"/>
<circle cx="1199.7" cy="1634.5" r="9.0" fill="#bb1b2c"/>
<circle cx="1222.8" cy="1619.8" r="9.0" fill="#bd1f2d"/>
<circle cx="1296.0" cy="1605.9" r="9.0" fill="#b8122a"/>
<circle cx="1290.9" cy="1628.5" r="9.0" fill="#3b4cc0"/>
<circle cx="1330.5" cy="1638.5" r="9.0" fill="#3b4cc0"/>
<circle cx="1240.2" cy="1647.9" r="9.0" fill="#3b4cc0"/>
<circle cx="1213.0" cy="1634.3" r="9.0" fill="#c12b30"/>
<circle cx="1340.0" cy="1604.2" r="9.0" fill="#b8122a"/>
<circle cx="1172.5" cy="1608.0" r="9.0" fill="#3d50c3"/>
<circle cx="1396.5" cy="1635.9" r="9.0" fill="#b8122a"/>
<circle cx="1212.3" cy="1601.5" r="9.0" fill="#c12b30"/>
<circle cx="1276.7" cy="1605.3" r="9.0" fill="#c0282f"/>
<circle cx="1356.2" cy="1647.5" r="9.0" fill="#3b4cc0"/>
<circle cx="1185.2" cy="1636.2" r="9.0" fill="#bb1b2c"/>
<circle cx="1277.8" cy="1619.4" r="9.0" fill="#c32e31"/>
<circle cx="1328.3" cy="1620.6" r="9.0" fill="#3c4ec2"/>
<circle cx="1200.6" cy="1606.2" r="9.0" fill="#c32e31"/>
<circle cx="1374.9" cy="1641.0" r="9.0" fill="#bd1f2d"/>
<circle cx="1286.1" cy="1623.2" r="9.0" fill="#3d50c3"/>
<circle cx="1234.7" cy="1636.8" r="9.0" fill="#3c4ec2"/>
<circle cx="1362.0" cy="1641.9" r="9.0" fill="#3d50c3"/>
<circle cx="1326.5" cy="1601.5" r="9.0" fill="#bb1b2c"/>
<circle cx="1171.4" cy="1615.7" r="9.0" fill="#b8122a"/>
<circle cx="1228.5" cy="1614.8" r="9.0" fill="#ba162b"/>
<circle cx="1280.2" cy="1617.4" r="9.0" fill="#3c4ec2"/>
<circle cx="1326.9" cy="1599.1" r="9.0" fill="#b70d28"/>
<circle cx="1192.4" cy="1618.0" r="9.0" fill="#c0282f"/>
<circle cx="1254.5" cy="1643.2" r="9.0" fill="#bb1b2c"/>
<circle cx="1391.7" cy="1626.3" r="9.0" fill="#3c4ec2"/>
<circle cx="1362.2" cy="1635.9" r="9.0" fill="#b40426"/>
<circle cx="1203.8" cy="1621.5" r="9.0" fill="#bb1b2c"/>
<circle cx="1326.1" cy="1619.0" r="9.0" fill="#ba162b"/>
<circle cx="1254.6" cy="1612.2" r="9.0" fill="#ba162b"/>
<circle cx="1224.9" cy="1598.6" r="9.0" fill="#c12b30"/>
<circle cx="1188.6" cy="1635.7" r="9.0" fill="#b50927"/>
<circle cx="1364.4" cy="1645.2" r="9.0" fill="#b40426"/>
<circle cx="1270.2" cy="1621.8" r="9.0" fill="#3b4cc0"/>
<circle cx="1297.8" cy="1621.4" r="9.0" fill="#3d50c3"/>
<circle cx="1295.7" cy="1603.7" r="9.0" fill="#bb1b2c"/>
<circle cx="1219.5" cy="1604.2" r="9.0" fill="#b8122a"/>
<circle cx="1271.0" cy="1611.0" r="9.0" fill="#bb1b2c"/>
<circle cx="1308.7" cy="1645.6" r="9.0" fill="#3b4cc0"/>
<circle cx="1180.1" cy="1642.6" r="9.0" fill="#3c4ec2"/>
<circle cx="1242.4" cy="1626.2" r="9.0" fill="#b8122a"/>
<circle cx="1352.1" cy="1607.4" r="9.0" fill="#b40426"/>
<circle cx="1377.2" cy="1601.0" r="9.0" fill="#bb1b2c"/>
<circle cx="1304.5" cy="1603.1" r="9.0" fill="#c12b30"/>
<circle cx="1174.7" cy="1629.5" r="9.0" fill="#bb1b2c"/>
<circle cx="1198.2" cy="1615.1" r="9.0" fill="#3d50c3"/>
<circle cx="1190.8" cy="1629.1" r="9.0" fill="#3b4cc0"/>
<circle cx="1272.2" cy="1610.8" r="9.0" fill="#3c4ec2"/>
<circle cx="1322.5" cy="1625.4" r="9.0" fill="#3d50c3"/>
<circle cx="1259.9" cy="1616.4" r="9.0" fill="#b50927"/>
<circle cx="1189.6" cy="1622.2" r="9.0" fill="#3b4cc0"/>
<circle cx="1348.7" cy="1601.7" r="9.0" fill="#b8122a"/>
<circle cx="1173.9" cy="1632.6" r="9.0" fill="#c0282f"/>
<circle cx="1259.2" cy="1634.2" r="9.0" fill="#c12b30"/>
<circle cx="1306.4" cy="1644.9" r="9.0" fill="#3c4ec2"/>
<circle cx="1339.3" cy="1613.2" r="9.0" fill="#bd1f2d"/>
<circle cx="1385.6" cy="1616.0" r="9.0" fill="#bd1f2d"/>
<circle cx="1248.3" cy="1617.3" r="9.0" fill="#ba162b"/>
<circle cx="1328.9" cy="1626.1" r="9.0" fill="#b70d28"/>
<circle cx="1362.2" cy="1612.0" r="9.0" fill="#ba162b"/>
<circle cx="1264.1" cy="1630.5" r="9.0" fill="#3b4cc0"/>
<circle cx="1277.8" cy="1637.3" r="9.0" fill="#c12b30"/>
<circle cx="1336.6" cy="1629.6" r="9.0" fill="#b70d28"/>
<circle cx="1310.0" cy="1610.2" r="9.0" fill="#b70d28"/>
<circle cx="1283.5" cy="1614.8" r="9.0" fill="#3d50c3"/>
<circle cx="1266.0" cy="1624.8" r="9.0" fill="#3d50c3"/>
<circle cx="1359.2" cy="1631.3" r="9.0" fill="#3d50c3"/>
<circle cx="1365.9" cy="1642.4" r="9.0" fill="#3c4ec2"/>
<circle cx="1278.6" cy="1619.0" r="9.0" fill="#c0282f"/>
<circle cx="1316.7" cy="1647.5" r="9.0" fill="#c0282f"/>
<circle cx="1200.6" cy="1646.4" r="9.0" fill="#be242e"/>
<circle cx="1190.8" cy="1630.3" r="9.0" fill="#3b4cc0"/>
<circle cx="1161.8" cy="1643.4" r="9.0" fill="#c12b30"/>
<circle cx="1206.8" cy="1608.8" r="9.0" fill="#b70d28"/>
<circle cx="1300.8" cy="1612.0" r="9.0" fill="#b70d28"/>
<circle cx="1239.6" cy="1625.4" r="9.0" fill="#3c4ec2"/>
<circle cx="1238.1" cy="1615.0" r="9.0" fill="#b40426"/>
<circle cx="1259.0" cy="1609.0" r="9.0" fill="#b40426"/>
<circle cx="1339.1" cy="1623.7" r="9.0" fill="#b40426"/>
<circle cx="1322.6" cy="1609.8" r="9.0" fill="#bb1b2c"/>
<circle cx="1251.9" cy="1628.2" r="9.0" fill="#c0282f"/>
<circle cx="1220.5" cy="1610.9" r="9.0" fill="#3c4ec2"/>
<circle cx="1317.6" cy="1624.7" r="9.0" fill="#b70d28"/>
<circle cx="1160.0" cy="1639.0" r="9.0" fill="#3d50c3"/>
<circle cx="1177.4" cy="1602.8" r="9.0" fill="#bb1b2c"/>
<circle cx="1400.3" cy="1627.3" r="9.0" fill="#3b4cc0"/>
<circle cx="1326.2" cy="1602.5" r="9.0" fill="#3b4cc0"/>
<circle cx="1298.8" cy="1624.2" r="9.0" fill="#b50927"/>
<circle cx="1231.7" cy="1613.2" r="9.0" fill="#b70d28"/>
<circle cx="1248.2" cy="1632.3" r="9.0" fill="#bd1f2d"/>
<circle cx="1286.9" cy="1630.6" r="9.0" fill="#bd1f2d"/>
<circle cx="1323.0" cy="1609.8" r="9.0" fill="#bb1b2c"/>
<circle cx="1180.4" cy="1608.3" r="9.0" fill="#be242e"/>
<circle cx="1247.4" cy="1624.9" r="9.0" fill="#bd1f2d"/>
<circle cx="1248.3" cy="1607.9" r="9.0" fill="#3c4ec2"/>
<circle cx="1375.4" cy="1626.1" r="9.0" fill="#3c4ec2"/>
<circle cx="1358.9" cy="1602.7" r="9.0" fill="#b70d28"/>
<circle cx="1205.3" cy="1618.1" r="9.0" fill="#3c4ec2"/>
<circle cx="1182.0" cy="1604.1" r="9.0" fill="#c12b30"/>
<circle cx="1382.1" cy="1619.3" r="9.0" fill="#b8122a"/>
<circle cx="1344.5" cy="1614.5" r="9.0" fill="#c32e31"/>
<circle cx="1245.3" cy="1632.9" r="9.0" fill="#3d50c3"/>
<circle cx="1313.7" cy="1614.5" r="9.0" fill="#b8122a"/>
<circle cx="1183.8" cy="1616.8" r="9.0" fill="#b70d28"/>
<circle cx="1349.4" cy="1636.3" r="9.0" fill="#3c4ec2"/>
<circle cx="1239.1" cy="1623.0" r="9.0" fill="#b70d28"/>
<circle cx="1376.1" cy="1639.7" r="9.0" fill="#b40426"/>
<circle cx="1305.8" cy="1607.8" r="9.0" fill="#be242e"/>
<circle cx="1292.6" cy="1644.4" r="9.0" fill="#bb1b2c"/>
<circle cx="1180.7" cy="1646.6" r="9.0" fill="#b40426"/>
<circle cx="1275.8" cy="1611.2" r="9.0" fill="#3e51c5"/>
<circle cx="1347.3" cy="1628.0" r="9.0" fill="#b50927"/>
<circle cx="1233.7" cy="1626.6" r="9.0" fill="#3b4cc0"/>
<circle cx="1284.3" cy="1601.8" r="9.0" fill="#c0282f"/>
<circle cx="1405.6" cy="1613.3" r="9.0" fill="#b70d28"/>
<circle cx="1244.2" cy="1627.5" r="9.0" fill="#3b4cc0"/>
<circle cx="1201.4" cy="1617.3" r="9.0" fill="#c0282f"/>
<circle cx="1283.3" cy="1611.1" r="9.0" fill="#bd1f2d"/>
<circle cx="1325.3" cy="1605.2" r="9.0" fill="#3c4ec2"/>
<circle cx="1273.9" cy="1618.5" r="9.0" fill="#b8122a"/>
<circle cx="1338.3" cy="1647.7" r="9.0" fill="#3d50c3"/>
<circle cx="1244.6" cy="1619.6" r="9.0" fill="#b40426"/>
<circle cx="1273.1" cy="1643.2" r="9.0" fill="#c12b30"/>
<circle cx="1328.8" cy="1642.9" r="9.0" fill="#3c4ec2"/>
<circle cx="1332.2" cy="1601.4" r="9.0" fill="#bb1b2c"/>
<circle cx="1290.7" cy="1617.8" r="9.0" fill="#b8122a"/>
<circle cx="1284.2" cy="1617.7" r="9.0" fill="#c12b30"/>
<circle cx="1382.7" cy="1646.3" r="9.0" fill="#b50927"/>
<circle cx="1261.4" cy="1635.3" r="9.0" fill="#b40426"/>
<circle cx="1176.5" cy="1637.6" r="9.0" fill="#ba162b"/>
<circle cx="1391.0" cy="1612.9" r="9.0" fill="#c12b30"/>
<circle cx="1370.4" cy="1638.7" r="9.0" fill="#bd1f2d"/>
<circle cx="1300.0" cy="1642.9" r="9.0" fill="#bb1b2c"/>
<circle cx="1380.2" cy="1646.8" r="9.0" fill="#c0282f"/>
<circle cx="1248.3" cy="1607.7" r="9.0" fill="#3c4ec2"/>
<circle cx="1261.1" cy="1606.5" r="9.0" fill="#3e51c5"/>
<circle cx="1203.1" cy="1642.0" r="9.0" fill="#c12b30"/>
<circle cx="1325.7" cy="1613.6" r="9.0" fill="#3d50c3"/>
<circle cx="1337.8" cy="1644.8" r="9.0" fill="#c12b30"/>
<circle cx="1224.0" cy="1613.3" r="9.0" fill="#3b4cc0"/>
<circle cx="1203.9" cy="1637.5" r="9.0" fill="#b8122a"/>
<circle cx="1382.6" cy="1627.4" r="9.0" fill="#be242e"/>
<circle cx="1373.8" cy="1629.9" r="9.0" fill="#b40426"/>
<circle cx="1256.5" cy="1624.4" r="9.0" fill="#c12b30"/>
<circle cx="1299.3" cy="1638.1" r="9.0" fill="#be242e"/>
<circle cx="1345.0" cy="1610.2" r="9.0" fill="#ba162b"/>
<circle cx="1227.5" cy="1599.6" r="9.0" fill="#b70d28"/>
<circle cx="1232.5" cy="1644.4" r="9.0" fill="#c0282f"/>
<circle cx="1284.9" cy="1630.9" r="9.0" fill="#3c4ec2"/>
<circle cx="1271.4" cy="1640.2" r="9.0" fill="#3c4ec2"/>
<circle cx="1272.9" cy="1694.4" r="9.0" fill="#3d50c3"/>
<circle cx="1217.5" cy="1727.7" r="9.0" fill="#3e51c5"/>
<circle cx="1299.4" cy="1709.2" r="9.0" fill="#5b7ae5"/>
<circle cx="1170.2" cy="1728.2" r="9.0" fill="#3f53c6"/>
<circle cx="1230.1" cy="1688.2" r="9.0" fill="#506bda"/>
<circle cx="1300.6" cy="1691.8" r="9.0" fill="#b50927"/>
<circle cx="1183.9" cy="1702.9" r="9.0" fill="#3c4ec2"/>
<circle cx="1340.2" cy="1689.8" r="9.0" fill="#5977e3"/>
<circle cx="1250.4" cy="1711.1" r="9.0" fill="#3b4cc0"/>
<circle cx="1351.8" cy="1735.6" r="9.0" fill="#bd1f2d"/>
<circle cx="1240.9" cy="1720.9" r="9.0" fill="#3c4ec2"/>
<circle cx="1264.2" cy="1712.8" r="9.0" fill="#6687ed"/>
<circle cx="1171.8" cy="1713.2" r="9.0" fill="#3d50c3"/>
<circle cx="1249.5" cy="1725.8" r="9.0" fill="#3e51c5"/>
<circle cx="1204.5" cy="1701.1" r="9.0" fill="#3e51c5"/>
<circle cx="1170.7" cy="1710.2" r="9.0" fill="#3c4ec2"/>
<circle cx="1292.5" cy="1735.0" r="9.0" fill="#506bda"/>
<circle cx="1249.9" cy="1696.7" r="9.0" fill="#506bda"/>
<circle cx="1159.7" cy="1704.3" r="9.0" fill="#3b4cc0"/>
<circle cx="1187.3" cy="1718.2" r="9.0" fill="#afcafc"/>
<circle cx="1297.1" cy="1726.6" r="9.0" fill="#dddcdc"/>
<circle cx="1219.8" cy="1713.6" r="9.0" fill="#3e51c5"/>
<circle cx="1247.0" cy="1695.3" r="9.0" fill="#4f69d9"/>
<circle cx="1224.0" cy="1734.4" r="9.0" fill="#3f53c6"/>
<circle cx="1341.5" cy="1700.0" r="9.0" fill="#a2c1ff"/>
<circle cx="1201.6" cy="1731.6" r="9.0" fill="#3c4ec2"/>
<circle cx="1283.7" cy="1718.5" r="9.0" fill="#7a9df8"/>
<circle cx="1352.3" cy="1708.1" r="9.0" fill="#b2ccfb"/>
<circle cx="1353.2" cy="1705.7" r="9.0" fill="#dbdcde"/>
<circle cx="1159.9" cy="1722.7" r="9.0" fill="#7295f4"/>
<circle cx="1399.3" cy="1726.7" r="9.0" fill="#7295f4"/>
<circle cx="1243.5" cy="1702.8" r="9.0" fill="#6e90f2"/>
<circle cx="1294.4" cy="1713.9" r="9.0" fill="#d5dbe5"/>
<circle cx="1219.1" cy="1707.6" r="9.0" fill="#3f53c6"/>
<circle cx="1203.5" cy="1722.0" r="9.0" fill="#3f53c6"/>
<circle cx="1403.0" cy="1705.5" r="9.0" fill="#3f53c6"/>
<circle cx="1279.5" cy="1704.3" r="9.0" fill="#3d50c3"/>
<circle cx="1414.1" cy="1687.6" r="9.0" fill="#80a3fa"/>
<circle cx="1204.9" cy="1733.2" r="9.0" fill="#3f53c6"/>
<circle cx="1204.3" cy="1710.5" r="9.0" fill="#4f69d9"/>
<circle cx="1204.7" cy="1728.8" r="9.0" fill="#3e51c5"/>
<circle cx="1359.1" cy="1707.0" r="9.0" fill="#9fbfff"/>
<circle cx="1393.7" cy="1704.7" r="9.0" fill="#d3dbe7"/>
<circle cx="1282.5" cy="1705.3" r="9.0" fill="#3b4cc0"/>
<circle cx="1210.2" cy="1689.5" r="9.0" fill="#5e7de7"/>
<circle cx="1396.6" cy="1717.2" r="9.0" fill="#afcafc"/>
<circle cx="1386.6" cy="1719.3" r="9.0" fill="#dcdddd"/>
<circle cx="1364.7" cy="1707.8" r="9.0" fill="#7ea1fa"/>
<circle cx="1256.6" cy="1707.2" r="9.0" fill="#5977e3"/>
<circle cx="1219.1" cy="1700.0" r="9.0" fill="#97b8ff"/>
<circle cx="1183.9" cy="1728.3" r="9.0" fill="#3f53c6"/>
<circle cx="1220.4" cy="1694.1" r="9.0" fill="#7597f6"/>
<circle cx="1215.5" cy="1702.6" r="9.0" fill="#3c4ec2"/>
<circle cx="1200.1" cy="1723.0" r="9.0" fill="#3c4ec2"/>
<circle cx="1199.4" cy="1717.6" r="9.0" fill="#3f53c6"/>
<circle cx="1315.2" cy="1709.7" r="9.0" fill="#9ebeff"/>
<circle cx="1350.0" cy="1710.6" r="9.0" fill="#89acfd"/>
<circle cx="1265.3" cy="1713.1" r="9.0" fill="#3c4ec2"/>
<circle cx="1376.2" cy="1721.7" r="9.0" fill="#bd1f2d"/>
<circle cx="1269.9" cy="1707.5" r="9.0" fill="#4c66d6"/>
<circle cx="1376.4" cy="1692.6" r="9.0" fill="#3b4cc0"/>
<circle cx="1164.7" cy="1699.7" r="9.0" fill="#3f53c6"/>
<circle cx="1341.9" cy="1724.6" r="9.0" fill="#f2cab5"/>
<circle cx="1212.7" cy="1733.5" r="9.0" fill="#3c4ec2"/>
<circle cx="1341.9" cy="1703.0" r="9.0" fill="#3b4cc0"/>
<circle cx="1320.5" cy="1734.9" r="9.0" fill="#ba162b"/>
<circle cx="1392.6" cy="1733.4" r="9.0" fill="#9fbfff"/>
<circle cx="1169.6" cy="1698.7" r="9.0" fill="#3f53c6"/>
<circle cx="1371.0" cy="1706.3" r="9.0" fill="#f18d6f"/>
<circle cx="1274.6" cy="1697.0" r="9.0" fill="#3e51c5"/>
<circle cx="1253.4" cy="1717.8" r="9.0" fill="#3e51c5"/>
<circle cx="1412.6" cy="1724.5" r="9.0" fill="#3e51c5"/>
<circle cx="1184.9" cy="1695.9" r="9.0" fill="#3e51c5"/>
<circle cx="1293.1" cy="1706.1" r="9.0" fill="#3e51c5"/>
<circle cx="1408.7" cy="1710.2" r="9.0" fill="#3e51c5"/>
<circle cx="1222.6" cy="1703.3" r="9.0" fill="#3d50c3"/>
<circle cx="1396.6" cy="1720.1" r="9.0" fill="#93b5fe"/>
<circle cx="1333.7" cy="1690.9" r="9.0" fill="#7295f4"/>
<circle cx="1234.9" cy="1720.9" r="9.0" fill="#3d50c3"/>
<circle cx="1204.0" cy="1729.3" r="9.0" fill="#3c4ec2"/>
<circle cx="1314.0" cy="1711.2" r="9.0" fill="#c43032"/>
<circle cx="1388.8" cy="1706.8" r="9.0" fill="#86a9fc"/>
<circle cx="1342.4" cy="1713.5" r="9.0" fill="#d9dce1"/>
<circle cx="1321.5" cy="1718.0" r="9.0" fill="#d4dbe6"/>
<circle cx="1258.9" cy="1726.7" r="9.0" fill="#516ddb"/>
<circle cx="1393.4" cy="1694.8" r="9.0" fill="#d6dce4"/>
<circle cx="1239.5" cy="1689.8" r="9.0" fill="#3b4cc0"/>
<circle cx="1248.7" cy="1695.2" r="9.0" fill="#4f69d9"/>
<circle cx="1243.3" cy="1733.9" r="9.0" fill="#3c4ec2"/>
<circle cx="1380.2" cy="1732.7" r="9.0" fill="#f7af91"/>
<circle cx="1261.9" cy="1725.5" r="9.0" fill="#4e68d8"/>
<circle cx="1246.8" cy="1713.9" r="9.0" fill="#5673e0"/>
<circle cx="1325.0" cy="1729.2" r="9.0" fill="#8db0fe"/>
<circle cx="1183.0" cy="1711.9" r="9.0" fill="#3d50c3"/>
<circle cx="1190.5" cy="1715.3" r="9.0" fill="#779af7"/>
<circle cx="1294.3" cy="1714.4" r="9.0" fill="#d4dbe6"/>
<circle cx="1407.2" cy="1713.6" r="9.0" fill="#b9d0f9"/>
<circle cx="1218.8" cy="1707.6" r="9.0" fill="#3f53c6"/>
<circle cx="1296.2" cy="1730.7" r="9.0" fill="#86a9fc"/>
<circle cx="1218.3" cy="1691.3" r="9.0" fill="#3b4cc0"/>
<circle cx="1417.4" cy="1693.9" r="9.0" fill="#c12b30"/>
<circle cx="1215.7" cy="1728.6" r="9.0" fill="#7a9df8"/>
<circle cx="1204.9" cy="1701.4" r="9.0" fill="#3f53c6"/>
<circle cx="1360.1" cy="1728.4" r="9.0" fill="#d2dbe8"/>
<circle cx="1347.1" cy="1688.3" r="9.0" fill="#86a9fc"/>
<circle cx="1186.4" cy="1711.7" r="9.0" fill="#3c4ec2"/>
<circle cx="1292.5" cy="1736.6" r="9.0" fill="#5e7de7"/>
<circle cx="1379.4" cy="1703.0" r="9.0" fill="#f3c8b2"/>
<circle cx="1254.5" cy="1722.6" r="9.0" fill="#3b4cc0"/>
<circle cx="1398.6" cy="1690.5" r="9.0" fill="#3e51c5"/>
<circle cx="1353.5" cy="1726.2" r="9.0" fill="#b3cdfb"/>
<circle cx="1208.3" cy="1689.8" r="9.0" fill="#aac7fd"/>
<circle cx="1321.7" cy="1698.2" r="9.0" fill="#3b4cc0"/>
<circle cx="1283.0" cy="1732.0" r="9.0" fill="#6788ee"/>
<circle cx="1314.8" cy="1722.5" r="9.0" fill="#b8122a"/>
<circle cx="1336.3" cy="1716.7" r="9.0" fill="#3f53c6"/>
<circle cx="1277.9" cy="1707.8" r="9.0" fill="#3e51c5"/>
<circle cx="1249.2" cy="1736.6" r="9.0" fill="#3e51c5"/>
<circle cx="1265.4" cy="1735.4" r="9.0" fill="#6c8ff1"/>
<circle cx="1330.0" cy="1694.4" r="9.0" fill="#779af7"/>
<circle cx="1237.5" cy="1698.9" r="9.0" fill="#3d50c3"/>
<circle cx="1383.7" cy="1695.2" r="9.0" fill="#5d7ce6"/>
<circle cx="1310.8" cy="1694.7" r="9.0" fill="#c32e31"/>
<circle cx="1379.9" cy="1694.5" r="9.0" fill="#4e68d8"/>
<circle cx="1228.1" cy="1691.2" r="9.0" fill="#3c4ec2"/>
<circle cx="1395.7" cy="1731.1" r="9.0" fill="#8caffe"/>
<circle cx="1173.1" cy="1697.2" r="9.0" fill="#4f69d9"/>
<circle cx="1202.1" cy="1690.4" r="9.0" fill="#536edd"/>
<circle cx="1352.6" cy="1697.6" r="9.0" fill="#b3cdfb"/>
<circle cx="1380.7" cy="1714.0" r="9.0" fill="#3c4ec2"/>
<circle cx="1241.4" cy="1688.5" r="9.0" fill="#516ddb"/>
<circle cx="1177.1" cy="1691.2" r="9.0" fill="#506bda"/>
<circle cx="1226.2" cy="1720.1" r="9.0" fill="#3e51c5"/>
<circle cx="1344.4" cy="1731.2" r="9.0" fill="#b9d0f9"/>
<circle cx="1284.6" cy="1737.2" r="9.0" fill="#3c4ec2"/>
<circle cx="1330.6" cy="1731.5" r="9.0" fill="#5673e0"/>
<circle cx="1285.8" cy="1687.6" r="9.0" fill="#516ddb"/>
<circle cx="1333.4" cy="1730.4" r="9.0" fill="#f7b79b"/>
<circle cx="1328.9" cy="1691.9" r="9.0" fill="#f5c4ac"/>
<circle cx="1260.9" cy="1721.6" r="9.0" fill="#4e68d8"/>
<circle cx="1234.8" cy="1689.6" r="9.0" fill="#5f7fe8"/>
<circle cx="1275.5" cy="1702.9" r="9.0" fill="#3c4ec2"/>
<circle cx="1199.4" cy="1718.4" r="9.0" fill="#7b9ff9"/>
<circle cx="1280.0" cy="1705.0" r="9.0" fill="#3d50c3"/>
<circle cx="1180.6" cy="1690.2" r="9.0" fill="#516ddb"/>
<circle cx="1346.8" cy="1736.4" r="9.0" fill="#e1dad6"/>
<circle cx="1240.1" cy="1721.5" r="9.0" fill="#3b4cc0"/>
<circle cx="1380.1" cy="1714.0" r="9.0" fill="#3c4ec2"/>
<circle cx="1403.6" cy="1691.3" r="9.0" fill="#d4dbe6"/>
<circle cx="1278.8" cy="1694.1" r="9.0" fill="#3e51c5"/>
<circle cx="1271.2" cy="1709.5" r="9.0" fill="#3b4cc0"/>
<circle cx="1286.0" cy="1689.8" r="9.0" fill="#4c66d6"/>
<circle cx="1345.6" cy="1708.3" r="9.0" fill="#6f92f3"/>
<circle cx="1377.4" cy="1689.3" r="9.0" fill="#bd1f2d"/>
<circle cx="1430.8" cy="1735.4" r="9.0" fill="#dbdcde"/>
<circle cx="1333.1" cy="1711.3" r="9.0" fill="#f7aa8c"/>
<circle cx="1288.0" cy="1716.6" r="9.0" fill="#7295f4"/>
<circle cx="1252.0" cy="1723.2" r="9.0" fill="#3d50c3"/>
<circle cx="1293.6" cy="1694.6" r="9.0" fill="#516ddb"/>
<circle cx="1199.6" cy="1715.2" r="9.0" fill="#6384eb"/>
<circle cx="1208.6" cy="1709.1" r="9.0" fill="#3f53c6"/>
<circle cx="1242.1" cy="1736.5" r="9.0" fill="#3f53c6"/>
<circle cx="1397.8" cy="1733.6" r="9.0" fill="#5e7de7"/>
<circle cx="1360.9" cy="1700.1" r="9.0" fill="#dbdcde"/>
<circle cx="1267.6" cy="1720.1" r="9.0" fill="#3b4cc0"/>
<circle cx="1315.1" cy="1722.5" r="9.0" fill="#f7ad90"/>
<circle cx="1302.1" cy="1732.0" r="9.0" fill="#5b7ae5"/>
<circle cx="1196.7" cy="1706.4" r="9.0" fill="#3b4cc0"/>
<circle cx="1276.9" cy="1696.0" r="9.0" fill="#516ddb"/>
<circle cx="1177.2" cy="1720.7" r="9.0" fill="#3c4ec2"/>
<circle cx="1299.6" cy="1699.5" r="9.0" fill="#f5c0a7"/>
<circle cx="1278.3" cy="1710.0" r="9.0" fill="#4f69d9"/>
<circle cx="1346.0" cy="1691.8" r="9.0" fill="#8caffe"/>
<circle cx="1343.8" cy="1706.0" r="9.0" fill="#3e51c5"/>
<circle cx="1357.1" cy="1690.1" r="9.0" fill="#3d50c3"/>
<circle cx="1283.8" cy="1693.2" r="9.0" fill="#5f7fe8"/>
<circle cx="1161.0" cy="1718.0" r="9.0" fill="#5673e0"/>
<circle cx="1419.3" cy="1730.0" r="9.0" fill="#9ebeff"/>
<circle cx="1239.1" cy="1735.3" r="9.0" fill="#6485ec"/>
<circle cx="1314.6" cy="1711.1" r="9.0" fill="#7295f4"/>
<circle cx="1358.4" cy="1718.4" r="9.0" fill="#dcdddd"/>
<circle cx="1217.4" cy="1728.0" r="9.0" fill="#3e51c5"/>
<circle cx="1368.7" cy="1710.0" r="9.0" fill="#5a78e4"/>
<circle cx="1260.8" cy="1732.7" r="9.0" fill="#3d50c3"/>
<circle cx="1352.5" cy="1702.1" r="9.0" fill="#5977e3"/>
<circle cx="1256.3" cy="1702.3" r="9.0" fill="#536edd"/>
<circle cx="1193.4" cy="1726.8" r="9.0" fill="#4c66d6"/>
<circle cx="1302.0" cy="1693.4" r="9.0" fill="#f4c6af"/>
<circle cx="1315.6" cy="1711.3" r="9.0" fill="#9ebeff"/>
<circle cx="1240.5" cy="1708.0" r="9.0" fill="#6f92f3"/>
<circle cx="1196.0" cy="1717.3" r="9.0" fill="#5d7ce6"/>
<circle cx="1216.2" cy="1730.5" r="9.0" fill="#3b4cc0"/>
<circle cx="1211.5" cy="1697.1" r="9.0" fill="#3c4ec2"/>
<circle cx="1305.9" cy="1687.8" r="9.0" fill="#a6c4fe"/>
<circle cx="1285.3" cy="1710.1" r="9.0" fill="#3d50c3"/>
<circle cx="1346.1" cy="1717.2" r="9.0" fill="#e1dad6"/>
<circle cx="1245.5" cy="1708.6" r="9.0" fill="#3d50c3"/>
<circle cx="1290.2" cy="1703.5" r="9.0" fill="#3c4ec2"/>
<circle cx="1377.6" cy="1713.4" r="9.0" fill="#779af7"/>
<circle cx="1316.0" cy="1709.5" r="9.0" fill="#4c66d6"/>
<circle cx="1182.9" cy="1705.6" r="9.0" fill="#516ddb"/>
<circle cx="1304.0" cy="1703.2" r="9.0" fill="#4f69d9"/>
<circle cx="1228.7" cy="1701.1" r="9.0" fill="#3b4cc0"/>
<circle cx="1207.8" cy="1715.1" r="9.0" fill="#6384eb"/>
<circle cx="1405.3" cy="1729.2" r="9.0" fill="#80a3fa"/>
<circle cx="1278.0" cy="1717.8" r="9.0" fill="#3b4cc0"/>
<circle cx="1305.3" cy="1695.2" r="9.0" fill="#f7b497"/>
<circle cx="1287.5" cy="1731.5" r="9.0" fill="#3e51c5"/>
<circle cx="1263.4" cy="1699.3" r="9.0" fill="#3e51c5"/>
<circle cx="1231.1" cy="1733.6" r="9.0" fill="#6f92f3"/>
<circle cx="1269.6" cy="1726.4" r="9.0" fill="#81a4fb"/>
<circle cx="1342.5" cy="1732.4" r="9.0" fill="#85a8fc"/>
<circle cx="1173.4" cy="1687.7" r="9.0" fill="#3e51c5"/>
<circle cx="1330.0" cy="1732.5" r="9.0" fill="#7295f4"/>
<circle cx="1409.7" cy="1732.2" r="9.0" fill="#dfdbd9"/>
<circle cx="1342.5" cy="1688.4" r="9.0" fill="#d0473d"/>
<circle cx="1257.7" cy="1704.2" r="9.0" fill="#3c4ec2"/>
<circle cx="1323.7" cy="1688.7" r="9.0" fill="#536edd"/>
<circle cx="1287.5" cy="1733.6" r="9.0" fill="#3f53c6"/>
<circle cx="1259.0" cy="1736.2" r="9.0" fill="#4e68d8"/>
<circle cx="1231.3" cy="1819.0" r="9.0" fill="#3c4ec2"/>
<circle cx="1194.3" cy="1787.8" r="9.0" fill="#3b4cc0"/>
<circle cx="1310.0" cy="1798.1" r="9.0" fill="#f7a98b"/>
<circle cx="1181.9" cy="1790.3" r="9.0" fill="#4f69d9"/>
<circle cx="1387.0" cy="1813.8" r="9.0" fill="#f59c7d"/>
<circle cx="1219.2" cy="1819.0" r="9.0" fill="#4c66d6"/>
<circle cx="1308.1" cy="1798.0" r="9.0" fill="#7da0f9"/>
<circle cx="1387.2" cy="1816.4" r="9.0" fill="#bd1f2d"/>
<circle cx="1314.0" cy="1810.4" r="9.0" fill="#82a6fb"/>
<circle cx="1217.3" cy="1802.6" r="9.0" fill="#3d50c3"/>
<circle cx="1323.2" cy="1801.1" r="9.0" fill="#86a9fc"/>
<circle cx="1223.8" cy="1794.8" r="9.0" fill="#3f53c6"/>
<circle cx="1405.7" cy="1823.2" r="9.0" fill="#3c4ec2"/>
<circle cx="1389.8" cy="1818.4" r="9.0" fill="#ccd9ed"/>
<circle cx="1291.6" cy="1816.7" r="9.0" fill="#4f69d9"/>
<circle cx="1252.1" cy="1812.3" r="9.0" fill="#516ddb"/>
<circle cx="1325.7" cy="1807.4" r="9.0" fill="#a2c1ff"/>
<circle cx="1256.6" cy="1812.9" r="9.0" fill="#3c4ec2"/>
<circle cx="1210.8" cy="1787.8" r="9.0" fill="#3e51c5"/>
<circle cx="1310.1" cy="1803.7" r="9.0" fill="#3f53c6"/>
<circle cx="1259.8" cy="1826.4" r="9.0" fill="#3c4ec2"/>
<circle cx="1240.3" cy="1806.4" r="9.0" fill="#3d50c3"/>
<circle cx="1265.9" cy="1793.3" r="9.0" fill="#516ddb"/>
<circle cx="1303.4" cy="1800.2" r="9.0" fill="#d2dbe8"/>
<circle cx="1156.3" cy="1813.4" r="9.0" fill="#3f53c6"/>
<circle cx="1390.6" cy="1789.4" r="9.0" fill="#90b2fe"/>
<circle cx="1231.9" cy="1794.1" r="9.0" fill="#3d50c3"/>
<circle cx="1199.1" cy="1814.4" r="9.0" fill="#3b4cc0"/>
<circle cx="1375.4" cy="1804.2" r="9.0" fill="#8badfd"/>
<circle cx="1293.7" cy="1783.4" r="9.0" fill="#f4c6af"/>
<circle cx="1385.8" cy="1795.9" r="9.0" fill="#3c4ec2"/>
<circle cx="1272.2" cy="1798.6" r="9.0" fill="#7a9df8"/>
<circle cx="1176.2" cy="1816.7" r="9.0" fill="#506bda"/>
<circle cx="1310.7" cy="1782.8" r="9.0" fill="#3d50c3"/>
<circle cx="1402.4" cy="1795.1" r="9.0" fill="#b2ccfb"/>
<circle cx="1234.8" cy="1812.4" r="9.0" fill="#516ddb"/>
<circle cx="1314.6" cy="1805.2" r="9.0" fill="#e4d9d2"/>
<circle cx="1398.2" cy="1782.3" r="9.0" fill="#4e68d8"/>
<circle cx="1373.0" cy="1824.6" r="9.0" fill="#7a9df8"/>
<circle cx="1181.8" cy="1778.0" r="9.0" fill="#3b4cc0"/>
<circle cx="1382.7" cy="1817.0" r="9.0" fill="#a5c3fe"/>
<circle cx="1357.0" cy="1812.3" r="9.0" fill="#aec9fc"/>
<circle cx="1186.5" cy="1800.1" r="9.0" fill="#4e68d8"/>
<circle cx="1318.2" cy="1776.7" r="9.0" fill="#3d50c3"/>
<circle cx="1263.3" cy="1819.0" r="9.0" fill="#6384eb"/>
<circle cx="1425.3" cy="1814.6" r="9.0" fill="#88abfd"/>
<circle cx="1300.0" cy="1786.2" r="9.0" fill="#98b9ff"/>
<circle cx="1212.4" cy="1805.2" r="9.0" fill="#4e68d8"/>
<circle cx="1227.1" cy="1791.9" r="9.0" fill="#6687ed"/>
<circle cx="1313.6" cy="1818.2" r="9.0" fill="#5572df"/>
<circle cx="1316.0" cy="1777.6" r="9.0" fill="#f5c4ac"/>
<circle cx="1399.3" cy="1784.2" r="9.0" fill="#4c66d6"/>
<circle cx="1410.2" cy="1806.9" r="9.0" fill="#9dbdff"/>
<circle cx="1184.0" cy="1799.0" r="9.0" fill="#3d50c3"/>
<circle cx="1242.1" cy="1797.9" r="9.0" fill="#7093f3"/>
<circle cx="1201.0" cy="1822.2" r="9.0" fill="#7396f5"/>
<circle cx="1379.5" cy="1809.9" r="9.0" fill="#88abfd"/>
<circle cx="1190.2" cy="1812.8" r="9.0" fill="#3b4cc0"/>
<circle cx="1327.6" cy="1815.3" r="9.0" fill="#f7b79b"/>
<circle cx="1374.2" cy="1801.5" r="9.0" fill="#94b6ff"/>
<circle cx="1389.4" cy="1793.4" r="9.0" fill="#e6d7cf"/>
<circle cx="1356.2" cy="1795.3" r="9.0" fill="#3f53c6"/>
<circle cx="1284.6" cy="1825.8" r="9.0" fill="#3d50c3"/>
<circle cx="1300.6" cy="1814.0" r="9.0" fill="#3c4ec2"/>
<circle cx="1204.1" cy="1824.9" r="9.0" fill="#516ddb"/>
<circle cx="1254.1" cy="1786.7" r="9.0" fill="#80a3fa"/>
<circle cx="1201.9" cy="1795.8" r="9.0" fill="#3b4cc0"/>
<circle cx="1176.8" cy="1811.4" r="9.0" fill="#3c4ec2"/>
<circle cx="1327.9" cy="1812.0" r="9.0" fill="#e3d9d3"/>
<circle cx="1382.0" cy="1784.3" r="9.0" fill="#516ddb"/>
<circle cx="1287.6" cy="1785.2" r="9.0" fill="#3d50c3"/>
<circle cx="1277.3" cy="1788.7" r="9.0" fill="#3e51c5"/>
<circle cx="1320.8" cy="1812.3" r="9.0" fill="#536edd"/>
<circle cx="1207.3" cy="1819.4" r="9.0" fill="#88abfd"/>
<circle cx="1381.8" cy="1781.7" r="9.0" fill="#7b9ff9"/>
<circle cx="1361.5" cy="1805.3" r="9.0" fill="#abc8fd"/>
<circle cx="1226.0" cy="1776.6" r="9.0" fill="#5673e0"/>
<circle cx="1204.6" cy="1816.4" r="9.0" fill="#6485ec"/>
<circle cx="1279.9" cy="1802.5" r="9.0" fill="#3b4cc0"/>
<circle cx="1405.8" cy="1777.5" r="9.0" fill="#aec9fc"/>
<circle cx="1377.0" cy="1804.7" r="9.0" fill="#e7d7ce"/>
<circle cx="1387.9" cy="1806.5" r="9.0" fill="#d8dce2"/>
<circle cx="1319.1" cy="1795.3" r="9.0" fill="#5875e1"/>
<circle cx="1245.8" cy="1798.0" r="9.0" fill="#3e51c5"/>
<circle cx="1281.0" cy="1804.4" r="9.0" fill="#3d50c3"/>
<circle cx="1297.9" cy="1814.0" r="9.0" fill="#e1dad6"/>
<circle cx="1389.7" cy="1785.9" r="9.0" fill="#96b7ff"/>
<circle cx="1295.2" cy="1821.5" r="9.0" fill="#3e51c5"/>
<circle cx="1343.7" cy="1784.5" r="9.0" fill="#d6dce4"/>
<circle cx="1322.5" cy="1779.4" r="9.0" fill="#b2ccfb"/>
<circle cx="1351.5" cy="1778.5" r="9.0" fill="#d7dce3"/>
<circle cx="1354.2" cy="1807.1" r="9.0" fill="#b7cff9"/>
<circle cx="1208.5" cy="1825.0" r="9.0" fill="#3d50c3"/>
<circle cx="1412.2" cy="1802.1" r="9.0" fill="#799cf8"/>
<circle cx="1372.6" cy="1782.2" r="9.0" fill="#bbd1f8"/>
<circle cx="1390.7" cy="1799.8" r="9.0" fill="#5977e3"/>
<circle cx="1221.2" cy="1824.7" r="9.0" fill="#4e68d8"/>
<circle cx="1345.6" cy="1777.4" r="9.0" fill="#8badfd"/>
<circle cx="1365.2" cy="1801.2" r="9.0" fill="#cfdaea"/>
<circle cx="1288.0" cy="1782.3" r="9.0" fill="#3b4cc0"/>
<circle cx="1312.5" cy="1779.3" r="9.0" fill="#516ddb"/>
<circle cx="1368.7" cy="1820.9" r="9.0" fill="#e9d5cb"/>
<circle cx="1197.3" cy="1785.3" r="9.0" fill="#3c4ec2"/>
<circle cx="1295.8" cy="1815.9" r="9.0" fill="#dbdcde"/>
<circle cx="1188.0" cy="1785.0" r="9.0" fill="#3c4ec2"/>
<circle cx="1238.5" cy="1799.1" r="9.0" fill="#3b4cc0"/>
<circle cx="1286.4" cy="1817.3" r="9.0" fill="#3f53c6"/>
<circle cx="1305.5" cy="1787.4" r="9.0" fill="#9ebeff"/>
<circle cx="1379.5" cy="1815.6" r="9.0" fill="#94b6ff"/>
<circle cx="1232.5" cy="1798.6" r="9.0" fill="#3c4ec2"/>
<circle cx="1213.8" cy="1780.0" r="9.0" fill="#5673e0"/>
<circle cx="1257.4" cy="1807.5" r="9.0" fill="#506bda"/>
<circle cx="1197.1" cy="1799.9" r="9.0" fill="#3d50c3"/>
<circle cx="1347.6" cy="1824.4" r="9.0" fill="#adc9fd"/>
<circle cx="1272.6" cy="1819.4" r="9.0" fill="#6a8bef"/>
<circle cx="1406.1" cy="1784.3" r="9.0" fill="#7a9df8"/>
<circle cx="1318.5" cy="1817.1" r="9.0" fill="#84a7fc"/>
<circle cx="1212.7" cy="1805.4" r="9.0" fill="#3b4cc0"/>
<circle cx="1260.7" cy="1810.7" r="9.0" fill="#3b4cc0"/>
<circle cx="1327.4" cy="1787.0" r="9.0" fill="#506bda"/>
<circle cx="1369.8" cy="1777.6" r="9.0" fill="#3e51c5"/>
<circle cx="1378.9" cy="1813.6" r="9.0" fill="#d6dce4"/>
<circle cx="1424.1" cy="1779.0" r="9.0" fill="#5673e0"/>
<circle cx="1389.1" cy="1810.2" r="9.0" fill="#b6cefa"/>
<circle cx="1305.1" cy="1826.0" r="9.0" fill="#3d50c3"/>
<circle cx="1267.0" cy="1821.2" r="9.0" fill="#7597f6"/>
<circle cx="1350.4" cy="1786.0" r="9.0" fill="#f18f71"/>
<circle cx="1188.3" cy="1813.1" r="9.0" fill="#3b4cc0"/>
<circle cx="1389.6" cy="1804.5" r="9.0" fill="#3e51c5"/>
<circle cx="1341.8" cy="1819.7" r="9.0" fill="#5b7ae5"/>
<circle cx="1199.8" cy="1785.0" r="9.0" fill="#3f53c6"/>
<circle cx="1282.4" cy="1786.0" r="9.0" fill="#3b4cc0"/>
<circle cx="1358.1" cy="1797.6" r="9.0" fill="#90b2fe"/>
<circle cx="1275.0" cy="1785.4" r="9.0" fill="#3f53c6"/>
<circle cx="1299.8" cy="1818.6" r="9.0" fill="#b3cdfb"/>
<circle cx="1332.8" cy="1807.8" r="9.0" fill="#a1c0ff"/>
<circle cx="1253.9" cy="1781.9" r="9.0" fill="#506bda"/>
<circle cx="1408.6" cy="1817.2" r="9.0" fill="#f4c6af"/>
<circle cx="1370.6" cy="1796.3" r="9.0" fill="#9dbdff"/>
<circle cx="1237.2" cy="1804.8" r="9.0" fill="#6485ec"/>
<circle cx="1279.8" cy="1790.7" r="9.0" fill="#7a9df8"/>
<circle cx="1272.2" cy="1790.9" r="9.0" fill="#4f69d9"/>
<circle cx="1241.8" cy="1780.8" r="9.0" fill="#3c4ec2"/>
<circle cx="1347.3" cy="1823.0" r="9.0" fill="#8badfd"/>
<circle cx="1326.8" cy="1805.2" r="9.0" fill="#8fb1fe"/>
<circle cx="1278.8" cy="1777.5" r="9.0" fill="#3c4ec2"/>
<circle cx="1248.7" cy="1777.3" r="9.0" fill="#3c4ec2"/>
<circle cx="1230.7" cy="1814.5" r="9.0" fill="#aec9fc"/>
<circle cx="1245.8" cy="1780.5" r="9.0" fill="#3e51c5"/>
<circle cx="1270.9" cy="1815.8" r="9.0" fill="#3c4ec2"/>
<circle cx="1395.8" cy="1821.7" r="9.0" fill="#a3c2fe"/>
<circle cx="1288.5" cy="1819.5" r="9.0" fill="#3d50c3"/>
<circle cx="1267.6" cy="1806.6" r="9.0" fill="#6788ee"/>
<circle cx="1259.0" cy="1792.4" r="9.0" fill="#3b4cc0"/>
<circle cx="1406.1" cy="1787.0" r="9.0" fill="#b2ccfb"/>
<circle cx="1391.2" cy="1814.5" r="9.0" fill="#96b7ff"/>
<circle cx="1405.3" cy="1779.0" r="9.0" fill="#9bbcff"/>
<circle cx="1415.9" cy="1824.5" r="9.0" fill="#d3dbe7"/>
<circle cx="1400.2" cy="1797.8" r="9.0" fill="#8caffe"/>
<circle cx="1230.6" cy="1815.8" r="9.0" fill="#3e51c5"/>
<circle cx="1150.1" cy="1776.7" r="9.0" fill="#506bda"/>
<circle cx="1413.9" cy="1801.8" r="9.0" fill="#8badfd"/>
<circle cx="1351.2" cy="1811.1" r="9.0" fill="#3e51c5"/>
<circle cx="1393.1" cy="1822.1" r="9.0" fill="#b1cbfc"/>
<circle cx="1394.5" cy="1781.7" r="9.0" fill="#d3dbe7"/>
<circle cx="1306.1" cy="1778.6" r="9.0" fill="#f6bda2"/>
<circle cx="1328.2" cy="1787.0" r="9.0" fill="#8db0fe"/>
<circle cx="1183.5" cy="1785.3" r="9.0" fill="#506bda"/>
<circle cx="1234.8" cy="1824.3" r="9.0" fill="#3c4ec2"/>
<circle cx="1185.2" cy="1807.6" r="9.0" fill="#3f53c6"/>
<circle cx="1418.3" cy="1811.7" r="9.0" fill="#f6bea4"/>
<circle cx="1420.4" cy="1777.8" r="9.0" fill="#8db0fe"/>
<circle cx="1309.4" cy="1794.0" r="9.0" fill="#93b5fe"/>
<circle cx="1235.5" cy="1784.9" r="9.0" fill="#536edd"/>
<circle cx="1398.9" cy="1783.8" r="9.0" fill="#c0d4f5"/>
<circle cx="1269.6" cy="1781.6" r="9.0" fill="#3e51c5"/>
<circle cx="1314.1" cy="1794.7" r="9.0" fill="#4f69d9"/>
<circle cx="1359.6" cy="1801.7" r="9.0" fill="#88abfd"/>
<circle cx="1403.0" cy="1812.1" r="9.0" fill="#80a3fa"/>
<circle cx="1184.1" cy="1807.4" r="9.0" fill="#6e90f2"/>
<circle cx="1351.5" cy="1797.9" r="9.0" fill="#b3cdfb"/>
<circle cx="1341.5" cy="1802.7" r="9.0" fill="#e6d7cf"/>
<circle cx="1184.1" cy="1812.2" r="9.0" fill="#3d50c3"/>
<circle cx="1353.5" cy="1791.2" r="9.0" fill="#c9d7f0"/>
<circle cx="1264.4" cy="1802.1" r="9.0" fill="#3f53c6"/>
<circle cx="1323.1" cy="1799.1" r="9.0" fill="#7ea1fa"/>
<circle cx="1402.9" cy="1814.2" r="9.0" fill="#82a6fb"/>
<circle cx="1294.1" cy="1799.9" r="9.0" fill="#e5d8d1"/>
<circle cx="1261.1" cy="1820.7" r="9.0" fill="#3e51c5"/>
<circle cx="1413.0" cy="1822.5" r="9.0" fill="#5e7de7"/>
<circle cx="1183.5" cy="1825.5" r="9.0" fill="#3b4cc0"/>
<circle cx="1415.5" cy="1799.4" r="9.0" fill="#96b7ff"/>
<circle cx="1254.6" cy="1787.3" r="9.0" fill="#536edd"/>
<circle cx="1428.0" cy="1791.9" r="9.0" fill="#7da0f9"/>
<circle cx="1330.2" cy="1822.3" r="9.0" fill="#b9d0f9"/>
<circle cx="1230.5" cy="1785.3" r="9.0" fill="#3f53c6"/>
<circle cx="1203.5" cy="1801.5" r="9.0" fill="#3d50c3"/>
<circle cx="1198.5" cy="1781.4" r="9.0" fill="#4f69d9"/>
<circle cx="1232.6" cy="1820.7" r="9.0" fill="#4e68d8"/>
<circle cx="1303.8" cy="1821.9" r="9.0" fill="#f2cab5"/>
<circle cx="1183.2" cy="1819.8" r="9.0" fill="#3f53c6"/>
<circle cx="1418.8" cy="1811.6" r="9.0" fill="#be242e"/>
<circle cx="1277.9" cy="1804.2" r="9.0" fill="#3e51c5"/>
<circle cx="1246.3" cy="1824.5" r="9.0" fill="#a1c0ff"/>
<circle cx="1322.4" cy="1778.9" r="9.0" fill="#f4c6af"/>
<circle cx="1186.9" cy="1789.2" r="9.0" fill="#3d50c3"/>
<circle cx="1426.6" cy="1801.7" r="9.0" fill="#5f7fe8"/>
<circle cx="1419.7" cy="1793.8" r="9.0" fill="#f7b396"/>
<circle cx="1357.9" cy="1794.6" r="9.0" fill="#3f53c6"/>
<circle cx="1314.2" cy="1790.2" r="9.0" fill="#7597f6"/>
<circle cx="1224.3" cy="1811.8" r="9.0" fill="#3c4ec2"/>
<circle cx="1361.8" cy="1790.7" r="9.0" fill="#516ddb"/>
<circle cx="1238.7" cy="1825.1" r="9.0" fill="#516ddb"/>
<circle cx="1362.2" cy="1794.5" r="9.0" fill="#f4c5ad"/>
<circle cx="1219.2" cy="1806.7" r="9.0" fill="#3c4ec2"/>
<circle cx="1363.1" cy="1780.7" r="9.0" fill="#89acfd"/>
<circle cx="1419.8" cy="1812.2" r="9.0" fill="#b3cdfb"/>
<circle cx="1207.1" cy="1780.3" r="9.0" fill="#3e51c5"/>
<circle cx="1283.7" cy="1820.4" r="9.0" fill="#3b4cc0"/>
<circle cx="1232.0" cy="1818.2" r="9.0" fill="#5673e0"/>
<circle cx="1188.0" cy="1912.8" r="9.0" fill="#3c4ec2"/>
<circle cx="1338.3" cy="1898.7" r="9.0" fill="#a9c6fd"/>
<circle cx="1267.0" cy="1877.0" r="9.0" fill="#6180e9"/>
<circle cx="1226.5" cy="1906.0" r="9.0" fill="#3b4cc0"/>
<circle cx="1302.5" cy="1898.4" r="9.0" fill="#3e51c5"/>
<circle cx="1181.1" cy="1876.0" r="9.0" fill="#90b2fe"/>
<circle cx="1404.9" cy="1909.4" r="9.0" fill="#cbd8ee"/>
<circle cx="1320.4" cy="1897.5" r="9.0" fill="#3b4cc0"/>
<circle cx="1381.5" cy="1888.4" r="9.0" fill="#5875e1"/>
<circle cx="1292.1" cy="1870.9" r="9.0" fill="#5673e0"/>
<circle cx="1252.7" cy="1871.5" r="9.0" fill="#3b4cc0"/>
<circle cx="1290.4" cy="1900.1" r="9.0" fill="#3d50c3"/>
<circle cx="1276.2" cy="1870.5" r="9.0" fill="#3c4ec2"/>
<circle cx="1390.9" cy="1912.8" r="9.0" fill="#3c4ec2"/>
<circle cx="1342.6" cy="1901.0" r="9.0" fill="#f7b497"/>
<circle cx="1252.8" cy="1894.3" r="9.0" fill="#5d7ce6"/>
<circle cx="1247.4" cy="1889.3" r="9.0" fill="#3d50c3"/>
<circle cx="1186.9" cy="1881.4" r="9.0" fill="#9abbff"/>
<circle cx="1245.7" cy="1878.4" r="9.0" fill="#3b4cc0"/>
<circle cx="1212.1" cy="1877.3" r="9.0" fill="#5d7ce6"/>
<circle cx="1210.7" cy="1880.4" r="9.0" fill="#3d50c3"/>
<circle cx="1294.5" cy="1895.6" r="9.0" fill="#f59f80"/>
<circle cx="1299.8" cy="1885.0" r="9.0" fill="#c12b30"/>
<circle cx="1354.2" cy="1881.5" r="9.0" fill="#f7a98b"/>
<circle cx="1238.4" cy="1882.8" r="9.0" fill="#3b4cc0"/>
<circle cx="1211.6" cy="1900.4" r="9.0" fill="#3c4ec2"/>
<circle cx="1269.7" cy="1905.1" r="9.0" fill="#3d50c3"/>
<circle cx="1270.7" cy="1872.2" r="9.0" fill="#3b4cc0"/>
<circle cx="1359.0" cy="1876.9" r="9.0" fill="#dedcdb"/>
<circle cx="1267.0" cy="1912.5" r="9.0" fill="#3e51c5"/>
<circle cx="1170.3" cy="1889.3" r="9.0" fill="#7699f6"/>
<circle cx="1185.1" cy="1899.8" r="9.0" fill="#688aef"/>
<circle cx="1196.7" cy="1914.8" r="9.0" fill="#7396f5"/>
<circle cx="1394.6" cy="1869.2" r="9.0" fill="#d2dbe8"/>
<circle cx="1189.8" cy="1866.0" r="9.0" fill="#4e68d8"/>
<circle cx="1300.5" cy="1892.2" r="9.0" fill="#bed2f6"/>
<circle cx="1222.2" cy="1865.8" r="9.0" fill="#88abfd"/>
<circle cx="1404.1" cy="1912.2" r="9.0" fill="#f39778"/>
<circle cx="1257.8" cy="1912.6" r="9.0" fill="#3b4cc0"/>
<circle cx="1412.0" cy="1906.1" r="9.0" fill="#e8d6cc"/>
<circle cx="1304.0" cy="1910.8" r="9.0" fill="#3f53c6"/>
<circle cx="1302.8" cy="1905.5" r="9.0" fill="#a9c6fd"/>
<circle cx="1406.0" cy="1867.3" r="9.0" fill="#f7b194"/>
<circle cx="1267.2" cy="1891.8" r="9.0" fill="#3c4ec2"/>
<circle cx="1224.5" cy="1878.1" r="9.0" fill="#4f69d9"/>
<circle cx="1327.2" cy="1867.2" r="9.0" fill="#dfdbd9"/>
<circle cx="1332.3" cy="1877.0" r="9.0" fill="#dddcdc"/>
<circle cx="1334.1" cy="1875.0" r="9.0" fill="#aac7fd"/>
<circle cx="1254.0" cy="1903.5" r="9.0" fill="#3e51c5"/>
<circle cx="1369.5" cy="1881.3" r="9.0" fill="#516ddb"/>
<circle cx="1203.9" cy="1911.0" r="9.0" fill="#3b4cc0"/>
<circle cx="1291.6" cy="1899.9" r="9.0" fill="#3e51c5"/>
<circle cx="1265.1" cy="1905.7" r="9.0" fill="#3e51c5"/>
<circle cx="1180.4" cy="1872.4" r="9.0" fill="#506bda"/>
<circle cx="1234.6" cy="1896.1" r="9.0" fill="#3d50c3"/>
<circle cx="1389.2" cy="1893.6" r="9.0" fill="#b3cdfb"/>
<circle cx="1418.2" cy="1881.1" r="9.0" fill="#f5c2aa"/>
<circle cx="1216.4" cy="1905.4" r="9.0" fill="#4f69d9"/>
<circle cx="1212.5" cy="1871.4" r="9.0" fill="#3d50c3"/>
<circle cx="1370.1" cy="1904.0" r="9.0" fill="#5977e3"/>
<circle cx="1375.0" cy="1876.1" r="9.0" fill="#aec9fc"/>
<circle cx="1274.5" cy="1892.4" r="9.0" fill="#4f69d9"/>
<circle cx="1326.7" cy="1903.1" r="9.0" fill="#4f69d9"/>
<circle cx="1220.3" cy="1910.9" r="9.0" fill="#3d50c3"/>
<circle cx="1282.3" cy="1899.1" r="9.0" fill="#8fb1fe"/>
<circle cx="1396.6" cy="1882.7" r="9.0" fill="#97b8ff"/>
<circle cx="1415.7" cy="1867.8" r="9.0" fill="#7597f6"/>
<circle cx="1166.9" cy="1884.6" r="9.0" fill="#3b4cc0"/>
<circle cx="1300.1" cy="1911.6" r="9.0" fill="#82a6fb"/>
<circle cx="1388.4" cy="1887.0" r="9.0" fill="#b3cdfb"/>
<circle cx="1322.2" cy="1913.1" r="9.0" fill="#5d7ce6"/>
<circle cx="1298.5" cy="1900.6" r="9.0" fill="#86a9fc"/>
<circle cx="1252.9" cy="1871.8" r="9.0" fill="#3e51c5"/>
<circle cx="1239.5" cy="1876.5" r="9.0" fill="#3c4ec2"/>
<circle cx="1166.7" cy="1881.3" r="9.0" fill="#688aef"/>
<circle cx="1206.5" cy="1914.1" r="9.0" fill="#4e68d8"/>
<circle cx="1392.6" cy="1886.8" r="9.0" fill="#bcd2f7"/>
<circle cx="1280.5" cy="1877.9" r="9.0" fill="#506bda"/>
<circle cx="1277.5" cy="1914.8" r="9.0" fill="#799cf8"/>
<circle cx="1279.8" cy="1911.3" r="9.0" fill="#3b4cc0"/>
<circle cx="1354.4" cy="1882.0" r="9.0" fill="#8badfd"/>
<circle cx="1252.1" cy="1892.7" r="9.0" fill="#536edd"/>
<circle cx="1253.0" cy="1887.7" r="9.0" fill="#516ddb"/>
<circle cx="1288.9" cy="1885.0" r="9.0" fill="#3c4ec2"/>
<circle cx="1341.8" cy="1894.4" r="9.0" fill="#e1dad6"/>
<circle cx="1299.3" cy="1913.3" r="9.0" fill="#f29274"/>
<circle cx="1338.1" cy="1908.8" r="9.0" fill="#aec9fc"/>
<circle cx="1266.5" cy="1884.1" r="9.0" fill="#3f53c6"/>
<circle cx="1222.8" cy="1907.4" r="9.0" fill="#6c8ff1"/>
<circle cx="1225.0" cy="1912.2" r="9.0" fill="#3d50c3"/>
<circle cx="1408.5" cy="1909.2" r="9.0" fill="#3b4cc0"/>
<circle cx="1229.6" cy="1912.3" r="9.0" fill="#3c4ec2"/>
<circle cx="1300.1" cy="1871.1" r="9.0" fill="#5f7fe8"/>
<circle cx="1187.6" cy="1876.9" r="9.0" fill="#506bda"/>
<circle cx="1234.3" cy="1896.7" r="9.0" fill="#536edd"/>
<circle cx="1295.4" cy="1866.8" r="9.0" fill="#f2cab5"/>
<circle cx="1176.6" cy="1866.5" r="9.0" fill="#3b4cc0"/>
<circle cx="1253.5" cy="1867.9" r="9.0" fill="#4f69d9"/>
<circle cx="1358.0" cy="1913.9" r="9.0" fill="#f18f71"/>
<circle cx="1277.6" cy="1909.8" r="9.0" fill="#4e68d8"/>
<circle cx="1298.1" cy="1879.4" r="9.0" fill="#779af7"/>
<circle cx="1325.3" cy="1882.5" r="9.0" fill="#5875e1"/>
<circle cx="1290.0" cy="1912.7" r="9.0" fill="#3e51c5"/>
<circle cx="1185.8" cy="1883.6" r="9.0" fill="#96b7ff"/>
<circle cx="1420.3" cy="1868.9" r="9.0" fill="#5673e0"/>
<circle cx="1417.3" cy="1903.9" r="9.0" fill="#d5dbe5"/>
<circle cx="1269.2" cy="1871.9" r="9.0" fill="#688aef"/>
<circle cx="1268.6" cy="1908.4" r="9.0" fill="#4f69d9"/>
<circle cx="1338.6" cy="1897.4" r="9.0" fill="#f18d6f"/>
<circle cx="1297.8" cy="1913.8" r="9.0" fill="#bbd1f8"/>
<circle cx="1387.1" cy="1910.2" r="9.0" fill="#8db0fe"/>
<circle cx="1404.0" cy="1870.2" r="9.0" fill="#cfdaea"/>
<circle cx="1387.7" cy="1890.1" r="9.0" fill="#aec9fc"/>
<circle cx="1241.2" cy="1880.4" r="9.0" fill="#3e51c5"/>
<circle cx="1181.4" cy="1900.2" r="9.0" fill="#3d50c3"/>
<circle cx="1182.1" cy="1889.4" r="9.0" fill="#3b4cc0"/>
<circle cx="1337.1" cy="1881.7" r="9.0" fill="#ccd9ed"/>
<circle cx="1229.8" cy="1896.7" r="9.0" fill="#3c4ec2"/>
<circle cx="1195.5" cy="1875.8" r="9.0" fill="#3e51c5"/>
<circle cx="1237.0" cy="1886.5" r="9.0" fill="#5673e0"/>
<circle cx="1299.7" cy="1886.5" r="9.0" fill="#3e51c5"/>
<circle cx="1173.3" cy="1894.2" r="9.0" fill="#7699f6"/>
<circle cx="1402.7" cy="1883.7" r="9.0" fill="#d8dce2"/>
<circle cx="1372.4" cy="1885.8" r="9.0" fill="#c32e31"/>
<circle cx="1375.6" cy="1876.3" r="9.0" fill="#92b4fe"/>
<circle cx="1349.3" cy="1894.7" r="9.0" fill="#bbd1f8"/>
<circle cx="1170.0" cy="1871.2" r="9.0" fill="#516ddb"/>
<circle cx="1171.3" cy="1901.8" r="9.0" fill="#4f69d9"/>
<circle cx="1398.1" cy="1872.9" r="9.0" fill="#3d50c3"/>
<circle cx="1358.9" cy="1894.6" r="9.0" fill="#cedaeb"/>
<circle cx="1274.3" cy="1894.2" r="9.0" fill="#3d50c3"/>
<circle cx="1217.2" cy="1870.6" r="9.0" fill="#3f53c6"/>
<circle cx="1207.7" cy="1872.4" r="9.0" fill="#3e51c5"/>
<circle cx="1400.0" cy="1904.8" r="9.0" fill="#8badfd"/>
<circle cx="1218.5" cy="1914.3" r="9.0" fill="#3c4ec2"/>
<circle cx="1276.0" cy="1894.1" r="9.0" fill="#3b4cc0"/>
<circle cx="1324.7" cy="1899.3" r="9.0" fill="#c0d4f5"/>
<circle cx="1290.3" cy="1913.1" r="9.0" fill="#3b4cc0"/>
<circle cx="1256.8" cy="1872.1" r="9.0" fill="#3c4ec2"/>
<circle cx="1403.3" cy="1905.6" r="9.0" fill="#c9d7f0"/>
<circle cx="1190.6" cy="1867.5" r="9.0" fill="#3b4cc0"/>
<circle cx="1420.7" cy="1889.1" r="9.0" fill="#80a3fa"/>
<circle cx="1250.3" cy="1912.0" r="9.0" fill="#5572df"/>
<circle cx="1330.9" cy="1908.5" r="9.0" fill="#afcafc"/>
<circle cx="1151.8" cy="1887.3" r="9.0" fill="#516ddb"/>
<circle cx="1370.0" cy="1880.0" r="9.0" fill="#cdd9ec"/>
<circle cx="1318.8" cy="1887.7" r="9.0" fill="#f7b599"/>
<circle cx="1169.9" cy="1873.5" r="9.0" fill="#4c66d6"/>
<circle cx="1194.2" cy="1869.3" r="9.0" fill="#7a9df8"/>
<circle cx="1221.8" cy="1893.9" r="9.0" fill="#3b4cc0"/>
<circle cx="1189.7" cy="1876.0" r="9.0" fill="#3c4ec2"/>
<circle cx="1401.5" cy="1876.3" r="9.0" fill="#3b4cc0"/>
<circle cx="1360.0" cy="1912.8" r="9.0" fill="#98b9ff"/>
<circle cx="1381.0" cy="1890.2" r="9.0" fill="#bad0f8"/>
<circle cx="1421.3" cy="1867.7" r="9.0" fill="#f7b99e"/>
<circle cx="1435.9" cy="1867.1" r="9.0" fill="#3e51c5"/>
<circle cx="1294.4" cy="1868.7" r="9.0" fill="#7b9ff9"/>
<circle cx="1401.1" cy="1891.6" r="9.0" fill="#3d50c3"/>
<circle cx="1223.9" cy="1897.1" r="9.0" fill="#3f53c6"/>
<circle cx="1400.7" cy="1903.5" r="9.0" fill="#3f53c6"/>
<circle cx="1395.4" cy="1871.3" r="9.0" fill="#3b4cc0"/>
<circle cx="1394.2" cy="1867.2" r="9.0" fill="#a2c1ff"/>
<circle cx="1301.9" cy="1866.0" r="9.0" fill="#80a3fa"/>
<circle cx="1391.9" cy="1877.2" r="9.0" fill="#d7dce3"/>
<circle cx="1269.0" cy="1898.1" r="9.0" fill="#4e68d8"/>
<circle cx="1371.3" cy="1870.7" r="9.0" fill="#f7ba9f"/>
<circle cx="1407.2" cy="1891.8" r="9.0" fill="#9bbcff"/>
<circle cx="1260.4" cy="1895.1" r="9.0" fill="#4e68d8"/>
<circle cx="1251.1" cy="1903.1" r="9.0" fill="#4f69d9"/>
<circle cx="1297.3" cy="1894.3" r="9.0" fill="#9fbfff"/>
<circle cx="1197.2" cy="1880.8" r="9.0" fill="#3e51c5"/>
<circle cx="1424.9" cy="1898.3" r="9.0" fill="#536edd"/>
<circle cx="1250.2" cy="1910.6" r="9.0" fill="#3d50c3"/>
<circle cx="1393.2" cy="1891.6" r="9.0" fill="#5470de"/>
<circle cx="1381.6" cy="1889.6" r="9.0" fill="#3d50c3"/>
<circle cx="1174.2" cy="1914.0" r="9.0" fill="#3d50c3"/>
<circle cx="1335.6" cy="1878.4" r="9.0" fill="#9ebeff"/>
<circle cx="1251.2" cy="1877.0" r="9.0" fill="#3e51c5"/>
<circle cx="1235.5" cy="1915.1" r="9.0" fill="#4e68d8"/>
<circle cx="1362.0" cy="1885.3" r="9.0" fill="#98b9ff"/>
<circle cx="1438.8" cy="1872.3" r="9.0" fill="#a1c0ff"/>
<circle cx="1426.0" cy="1909.8" r="9.0" fill="#dddcdc"/>
<circle cx="1356.0" cy="1895.3" r="9.0" fill="#3f53c6"/>
<circle cx="1363.7" cy="1914.7" r="9.0" fill="#5d7ce6"/>
<circle cx="1206.5" cy="1899.8" r="9.0" fill="#506bda"/>
<circle cx="1206.5" cy="1907.0" r="9.0" fill="#a7c5fe"/>
<circle cx="1190.9" cy="1883.1" r="9.0" fill="#3b4cc0"/>
<circle cx="1285.6" cy="1907.5" r="9.0" fill="#3c4ec2"/>
<circle cx="1209.5" cy="1878.7" r="9.0" fill="#3c4ec2"/>
<circle cx="1355.2" cy="1870.1" r="9.0" fill="#96b7ff"/>
<circle cx="1299.3" cy="1913.7" r="9.0" fill="#3b4cc0"/>
<circle cx="1250.6" cy="1882.8" r="9.0" fill="#5470de"/>
<circle cx="1165.0" cy="1876.4" r="9.0" fill="#3d50c3"/>
<circle cx="1409.5" cy="1876.7" r="9.0" fill="#7ea1fa"/>
<circle cx="1211.1" cy="1903.1" r="9.0" fill="#3f53c6"/>
<circle cx="1216.7" cy="1875.0" r="9.0" fill="#3c4ec2"/>
<circle cx="1258.5" cy="1883.4" r="9.0" fill="#4e68d8"/>
<circle cx="1229.2" cy="1894.0" r="9.0" fill="#3e51c5"/>
<circle cx="1331.5" cy="1896.4" r="9.0" fill="#c83836"/>
<circle cx="1221.3" cy="1904.7" r="9.0" fill="#3c4ec2"/>
<circle cx="1282.9" cy="1914.8" r="9.0" fill="#3d50c3"/>
<circle cx="1395.8" cy="1915.1" r="9.0" fill="#9fbfff"/>
<circle cx="1287.6" cy="1911.6" r="9.0" fill="#3d50c3"/>
<circle cx="1361.5" cy="1899.6" r="9.0" fill="#cd423b"/>
<circle cx="1355.7" cy="1866.3" r="9.0" fill="#bed2f6"/>
<circle cx="1349.8" cy="1882.7" r="9.0" fill="#f3c7b1"/>
<circle cx="1325.6" cy="1880.5" r="9.0" fill="#8fb1fe"/>
<circle cx="1267.4" cy="1888.9" r="9.0" fill="#3d50c3"/>
<circle cx="1165.3" cy="1882.0" r="9.0" fill="#516ddb"/>
<circle cx="1364.8" cy="1900.2" r="9.0" fill="#bed2f6"/>
<circle cx="1270.7" cy="1883.7" r="9.0" fill="#3f53c6"/>
<circle cx="1333.0" cy="1900.8" r="9.0" fill="#89acfd"/>
<circle cx="1358.9" cy="1878.6" r="9.0" fill="#4c66d6"/>
<circle cx="1384.7" cy="1909.2" r="9.0" fill="#d6dce4"/>
<circle cx="1392.7" cy="1892.6" r="9.0" fill="#82a6fb"/>
<circle cx="1284.0" cy="1877.0" r="9.0" fill="#7a9df8"/>
<circle cx="1234.0" cy="1911.7" r="9.0" fill="#4e68d8"/>
<circle cx="1424.7" cy="1883.0" r="9.0" fill="#f4c6af"/>
<circle cx="1172.2" cy="1877.4" r="9.0" fill="#4e68d8"/>
<circle cx="1270.1" cy="1893.3" r="9.0" fill="#3b4cc0"/>
<circle cx="1436.9" cy="1963.0" r="9.0" fill="#ed8366"/>
<circle cx="1398.7" cy="1989.2" r="9.0" fill="#f6a586"/>
<circle cx="1216.5" cy="1969.1" r="9.0" fill="#3d50c3"/>
<circle cx="1405.0" cy="1998.8" r="9.0" fill="#d7dce3"/>
<circle cx="1402.5" cy="1977.9" r="9.0" fill="#92b4fe"/>
<circle cx="1311.9" cy="1973.1" r="9.0" fill="#edd1c2"/>
<circle cx="1317.8" cy="2004.8" r="9.0" fill="#c4d5f3"/>
<circle cx="1176.3" cy="1962.1" r="9.0" fill="#5d7ce6"/>
<circle cx="1344.8" cy="1979.8" r="9.0" fill="#f3c8b2"/>
<circle cx="1183.3" cy="1957.5" r="9.0" fill="#5977e3"/>
<circle cx="1300.2" cy="1964.0" r="9.0" fill="#f6bfa6"/>
<circle cx="1230.4" cy="1970.6" r="9.0" fill="#80a3fa"/>
<circle cx="1398.7" cy="1958.8" r="9.0" fill="#f7ad90"/>
<circle cx="1297.4" cy="1960.9" r="9.0" fill="#a3c2fe"/>
<circle cx="1401.6" cy="1969.4" r="9.0" fill="#7699f6"/>
<circle cx="1407.8" cy="1963.0" r="9.0" fill="#a9c6fd"/>
<circle cx="1427.1" cy="1997.3" r="9.0" fill="#dfdbd9"/>
<circle cx="1370.9" cy="1984.8" r="9.0" fill="#d8dce2"/>
<circle cx="1191.9" cy="1987.5" r="9.0" fill="#3e51c5"/>
<circle cx="1327.5" cy="1990.3" r="9.0" fill="#dadce0"/>
<circle cx="1388.5" cy="1999.7" r="9.0" fill="#6a8bef"/>
<circle cx="1233.9" cy="1974.5" r="9.0" fill="#7396f5"/>
<circle cx="1236.3" cy="2000.7" r="9.0" fill="#80a3fa"/>
<circle cx="1245.3" cy="1985.3" r="9.0" fill="#81a4fb"/>
<circle cx="1185.3" cy="1991.5" r="9.0" fill="#5977e3"/>
<circle cx="1333.0" cy="1971.8" r="9.0" fill="#f3c7b1"/>
<circle cx="1177.4" cy="1982.5" r="9.0" fill="#5b7ae5"/>
<circle cx="1280.0" cy="1994.5" r="9.0" fill="#6f92f3"/>
<circle cx="1191.3" cy="1987.9" r="9.0" fill="#90b2fe"/>
<circle cx="1347.0" cy="1973.5" r="9.0" fill="#aec9fc"/>
<circle cx="1309.6" cy="1978.4" r="9.0" fill="#b6cefa"/>
<circle cx="1378.4" cy="1972.0" r="9.0" fill="#f7a688"/>
<circle cx="1332.1" cy="1961.6" r="9.0" fill="#c6d6f1"/>
<circle cx="1180.7" cy="2000.9" r="9.0" fill="#a1c0ff"/>
<circle cx="1182.7" cy="1988.9" r="9.0" fill="#9dbdff"/>
<circle cx="1299.2" cy="1999.3" r="9.0" fill="#96b7ff"/>
<circle cx="1403.5" cy="1976.1" r="9.0" fill="#f6bea4"/>
<circle cx="1317.3" cy="1980.1" r="9.0" fill="#a9c6fd"/>
<circle cx="1277.7" cy="1976.2" r="9.0" fill="#f7a688"/>
<circle cx="1220.7" cy="2002.4" r="9.0" fill="#3e51c5"/>
<circle cx="1410.0" cy="2004.8" r="9.0" fill="#dfdbd9"/>
<circle cx="1181.2" cy="1977.6" r="9.0" fill="#5875e1"/>
<circle cx="1268.9" cy="1986.9" r="9.0" fill="#d5dbe5"/>
<circle cx="1407.9" cy="1977.6" r="9.0" fill="#c5d6f2"/>
<circle cx="1307.3" cy="1966.1" r="9.0" fill="#e1dad6"/>
<circle cx="1337.0" cy="1989.9" r="9.0" fill="#dadce0"/>
<circle cx="1387.1" cy="1998.4" r="9.0" fill="#f3c7b1"/>
<circle cx="1400.9" cy="1989.5" r="9.0" fill="#afcafc"/>
<circle cx="1417.4" cy="1967.1" r="9.0" fill="#799cf8"/>
<circle cx="1440.7" cy="1987.8" r="9.0" fill="#dddcdc"/>
<circle cx="1261.9" cy="1990.1" r="9.0" fill="#b2ccfb"/>
<circle cx="1256.6" cy="1995.6" r="9.0" fill="#d7dce3"/>
<circle cx="1226.3" cy="1974.0" r="9.0" fill="#7093f3"/>
<circle cx="1214.6" cy="1966.4" r="9.0" fill="#7a9df8"/>
<circle cx="1351.1" cy="1990.2" r="9.0" fill="#9bbcff"/>
<circle cx="1234.5" cy="1979.8" r="9.0" fill="#3d50c3"/>
<circle cx="1382.6" cy="1981.1" r="9.0" fill="#edd1c2"/>
<circle cx="1308.8" cy="1981.6" r="9.0" fill="#ead5c9"/>
<circle cx="1339.2" cy="1957.2" r="9.0" fill="#d7dce3"/>
<circle cx="1242.7" cy="1974.8" r="9.0" fill="#93b5fe"/>
<circle cx="1314.6" cy="1987.9" r="9.0" fill="#f6bea4"/>
<circle cx="1170.8" cy="1997.8" r="9.0" fill="#d8dce2"/>
<circle cx="1328.5" cy="2001.1" r="9.0" fill="#94b6ff"/>
<circle cx="1330.5" cy="1957.3" r="9.0" fill="#b1cbfc"/>
<circle cx="1372.6" cy="1972.3" r="9.0" fill="#f3c8b2"/>
<circle cx="1202.6" cy="1972.5" r="9.0" fill="#f7b093"/>
<circle cx="1432.4" cy="1962.3" r="9.0" fill="#ead5c9"/>
<circle cx="1293.7" cy="1989.6" r="9.0" fill="#e1dad6"/>
<circle cx="1266.3" cy="2004.2" r="9.0" fill="#ca3b37"/>
<circle cx="1404.9" cy="1987.9" r="9.0" fill="#94b6ff"/>
<circle cx="1385.0" cy="1998.0" r="9.0" fill="#c1d4f4"/>
<circle cx="1385.3" cy="1995.7" r="9.0" fill="#5673e0"/>
<circle cx="1208.8" cy="1977.3" r="9.0" fill="#85a8fc"/>
<circle cx="1327.9" cy="1986.3" r="9.0" fill="#c3d5f4"/>
<circle cx="1339.5" cy="1986.1" r="9.0" fill="#c1d4f4"/>
<circle cx="1398.3" cy="1960.2" r="9.0" fill="#98b9ff"/>
<circle cx="1186.3" cy="1961.8" r="9.0" fill="#5470de"/>
<circle cx="1191.6" cy="1987.4" r="9.0" fill="#a5c3fe"/>
<circle cx="1436.8" cy="1959.2" r="9.0" fill="#97b8ff"/>
<circle cx="1383.7" cy="1973.4" r="9.0" fill="#e8d6cc"/>
<circle cx="1299.0" cy="1984.9" r="9.0" fill="#9bbcff"/>
<circle cx="1345.7" cy="1977.1" r="9.0" fill="#ecd3c5"/>
<circle cx="1347.8" cy="1958.5" r="9.0" fill="#c1d4f4"/>
<circle cx="1216.7" cy="1961.2" r="9.0" fill="#5f7fe8"/>
<circle cx="1224.9" cy="1957.3" r="9.0" fill="#9abbff"/>
<circle cx="1278.5" cy="1991.4" r="9.0" fill="#7093f3"/>
<circle cx="1333.5" cy="2002.7" r="9.0" fill="#de614d"/>
<circle cx="1240.8" cy="1980.9" r="9.0" fill="#8badfd"/>
<circle cx="1321.8" cy="1974.5" r="9.0" fill="#f7af91"/>
<circle cx="1161.1" cy="1979.8" r="9.0" fill="#3d50c3"/>
<circle cx="1266.9" cy="1967.4" r="9.0" fill="#506bda"/>
<circle cx="1249.5" cy="1982.2" r="9.0" fill="#3e51c5"/>
<circle cx="1293.6" cy="1966.1" r="9.0" fill="#b3cdfb"/>
<circle cx="1409.3" cy="1975.3" r="9.0" fill="#d8dce2"/>
<circle cx="1166.7" cy="1993.2" r="9.0" fill="#3d50c3"/>
<circle cx="1298.4" cy="2000.0" r="9.0" fill="#f5c1a9"/>
<circle cx="1162.5" cy="2001.7" r="9.0" fill="#536edd"/>
<circle cx="1310.2" cy="1999.0" r="9.0" fill="#f7af91"/>
<circle cx="1415.2" cy="1985.3" r="9.0" fill="#f4c6af"/>
<circle cx="1313.9" cy="1999.4" r="9.0" fill="#d85646"/>
<circle cx="1405.9" cy="1967.9" r="9.0" fill="#f7b194"/>
<circle cx="1275.8" cy="2000.9" r="9.0" fill="#d5dbe5"/>
<circle cx="1412.1" cy="1994.1" r="9.0" fill="#ecd3c5"/>
<circle cx="1163.5" cy="1955.5" r="9.0" fill="#5e7de7"/>
<circle cx="1184.4" cy="1961.7" r="9.0" fill="#5572df"/>
<circle cx="1252.5" cy="1999.1" r="9.0" fill="#4f69d9"/>
<circle cx="1390.5" cy="1984.1" r="9.0" fill="#b3cdfb"/>
<circle cx="1417.1" cy="1971.1" r="9.0" fill="#c0d4f5"/>
<circle cx="1180.7" cy="1995.0" r="9.0" fill="#5e7de7"/>
<circle cx="1328.8" cy="1984.9" r="9.0" fill="#6687ed"/>
<circle cx="1221.7" cy="1966.5" r="9.0" fill="#3d50c3"/>
<circle cx="1185.2" cy="1969.1" r="9.0" fill="#a6c4fe"/>
<circle cx="1354.9" cy="1972.6" r="9.0" fill="#adc9fd"/>
<circle cx="1339.0" cy="1979.7" r="9.0" fill="#d6dce4"/>
<circle cx="1211.8" cy="1967.7" r="9.0" fill="#6f92f3"/>
<circle cx="1283.6" cy="1978.0" r="9.0" fill="#d4dbe6"/>
<circle cx="1314.9" cy="1962.0" r="9.0" fill="#bbd1f8"/>
<circle cx="1417.9" cy="1995.6" r="9.0" fill="#f7bca1"/>
<circle cx="1220.2" cy="1988.2" r="9.0" fill="#3c4ec2"/>
<circle cx="1410.4" cy="1971.3" r="9.0" fill="#bed2f6"/>
<circle cx="1361.1" cy="1986.1" r="9.0" fill="#dddcdc"/>
<circle cx="1191.4" cy="2001.6" r="9.0" fill="#5673e0"/>
<circle cx="1245.7" cy="1994.3" r="9.0" fill="#5a78e4"/>
<circle cx="1201.1" cy="1968.4" r="9.0" fill="#f7b194"/>
<circle cx="1207.8" cy="1986.4" r="9.0" fill="#6f92f3"/>
<circle cx="1203.4" cy="1961.4" r="9.0" fill="#5b7ae5"/>
<circle cx="1160.4" cy="1956.2" r="9.0" fill="#5977e3"/>
<circle cx="1424.7" cy="1996.2" r="9.0" fill="#3f53c6"/>
<circle cx="1348.9" cy="1989.1" r="9.0" fill="#f5c1a9"/>
<circle cx="1421.9" cy="1970.0" r="9.0" fill="#f2c9b4"/>
<circle cx="1156.7" cy="1986.9" r="9.0" fill="#5d7ce6"/>
<circle cx="1399.5" cy="2000.3" r="9.0" fill="#cfdaea"/>
<circle cx="1282.3" cy="1979.0" r="9.0" fill="#f7b497"/>
<circle cx="1430.9" cy="1972.7" r="9.0" fill="#7093f3"/>
<circle cx="1390.7" cy="1987.1" r="9.0" fill="#a5c3fe"/>
<circle cx="1319.1" cy="1991.3" r="9.0" fill="#d3dbe7"/>
<circle cx="1259.3" cy="1958.4" r="9.0" fill="#3f53c6"/>
<circle cx="1330.1" cy="2004.1" r="9.0" fill="#aec9fc"/>
<circle cx="1222.1" cy="1976.3" r="9.0" fill="#80a3fa"/>
<circle cx="1421.9" cy="1994.2" r="9.0" fill="#c0d4f5"/>
<circle cx="1244.7" cy="1986.2" r="9.0" fill="#6b8df0"/>
<circle cx="1164.9" cy="1989.3" r="9.0" fill="#cedaeb"/>
<circle cx="1369.6" cy="1978.4" r="9.0" fill="#ea7b60"/>
<circle cx="1308.7" cy="1989.4" r="9.0" fill="#7093f3"/>
<circle cx="1218.9" cy="1957.7" r="9.0" fill="#3e51c5"/>
<circle cx="1163.3" cy="1992.0" r="9.0" fill="#3c4ec2"/>
<circle cx="1214.1" cy="1981.3" r="9.0" fill="#3d50c3"/>
<circle cx="1213.8" cy="1977.3" r="9.0" fill="#3b4cc0"/>
<circle cx="1419.8" cy="1999.7" r="9.0" fill="#adc9fd"/>
<circle cx="1298.4" cy="1959.1" r="9.0" fill="#a6c4fe"/>
<circle cx="1299.1" cy="1980.9" r="9.0" fill="#6b8df0"/>
<circle cx="1316.7" cy="1964.4" r="9.0" fill="#aac7fd"/>
<circle cx="1294.9" cy="1983.0" r="9.0" fill="#cd423b"/>
<circle cx="1378.2" cy="1973.0" r="9.0" fill="#dbdcde"/>
<circle cx="1325.3" cy="2002.5" r="9.0" fill="#ead5c9"/>
<circle cx="1267.3" cy="1966.5" r="9.0" fill="#abc8fd"/>
<circle cx="1287.6" cy="2004.1" r="9.0" fill="#a1c0ff"/>
<circle cx="1388.5" cy="1974.6" r="9.0" fill="#d3dbe7"/>
<circle cx="1315.0" cy="1994.8" r="9.0" fill="#b3cdfb"/>
<circle cx="1362.5" cy="1975.5" r="9.0" fill="#b6cefa"/>
<circle cx="1421.9" cy="1998.8" r="9.0" fill="#b9d0f9"/>
<circle cx="1363.0" cy="1977.5" r="9.0" fill="#f3c7b1"/>
<circle cx="1359.1" cy="1961.5" r="9.0" fill="#d3dbe7"/>
<circle cx="1235.9" cy="2000.6" r="9.0" fill="#85a8fc"/>
<circle cx="1277.1" cy="1983.1" r="9.0" fill="#d7dce3"/>
<circle cx="1426.8" cy="1968.1" r="9.0" fill="#eed0c0"/>
<circle cx="1411.1" cy="1990.9" r="9.0" fill="#9dbdff"/>
<circle cx="1224.1" cy="1973.0" r="9.0" fill="#90b2fe"/>
<circle cx="1385.8" cy="2003.7" r="9.0" fill="#a3c2fe"/>
<circle cx="1264.5" cy="1958.8" r="9.0" fill="#bbd1f8"/>
<circle cx="1244.4" cy="1955.3" r="9.0" fill="#3c4ec2"/>
<circle cx="1276.9" cy="1961.9" r="9.0" fill="#d9dce1"/>
<circle cx="1355.6" cy="1960.8" r="9.0" fill="#d5dbe5"/>
<circle cx="1292.4" cy="1985.3" r="9.0" fill="#6384eb"/>
<circle cx="1316.4" cy="1982.0" r="9.0" fill="#6f92f3"/>
<circle cx="1430.9" cy="1962.4" r="9.0" fill="#afcafc"/>
<circle cx="1325.1" cy="1979.7" r="9.0" fill="#adc9fd"/>
<circle cx="1412.7" cy="1976.9" r="9.0" fill="#ca3b37"/>
<circle cx="1211.1" cy="1962.3" r="9.0" fill="#6c8ff1"/>
<circle cx="1366.3" cy="1990.4" r="9.0" fill="#d24b40"/>
<circle cx="1373.3" cy="1966.3" r="9.0" fill="#f7a98b"/>
<circle cx="1389.4" cy="1995.0" r="9.0" fill="#bcd2f7"/>
<circle cx="1217.8" cy="1995.4" r="9.0" fill="#88abfd"/>
<circle cx="1175.8" cy="1962.2" r="9.0" fill="#97b8ff"/>
<circle cx="1246.4" cy="1957.0" r="9.0" fill="#f5c1a9"/>
<circle cx="1277.7" cy="1999.9" r="9.0" fill="#f5c2aa"/>
<circle cx="1400.0" cy="1958.7" r="9.0" fill="#afcafc"/>
<circle cx="1234.5" cy="1997.1" r="9.0" fill="#3b4cc0"/>
<circle cx="1294.6" cy="2001.4" r="9.0" fill="#4f69d9"/>
<circle cx="1230.9" cy="1961.1" r="9.0" fill="#536edd"/>
<circle cx="1262.6" cy="1963.2" r="9.0" fill="#b2ccfb"/>
<circle cx="1359.8" cy="2003.1" r="9.0" fill="#97b8ff"/>
<circle cx="1239.7" cy="1988.7" r="9.0" fill="#3f53c6"/>
<circle cx="1372.9" cy="1990.5" r="9.0" fill="#f7b99e"/>
<circle cx="1385.3" cy="1962.9" r="9.0" fill="#dc5d4a"/>
<circle cx="1398.0" cy="1999.9" r="9.0" fill="#f7ad90"/>
<circle cx="1371.7" cy="1968.2" r="9.0" fill="#e4d9d2"/>
<circle cx="1388.0" cy="1985.9" r="9.0" fill="#b9d0f9"/>
<circle cx="1292.4" cy="1988.4" r="9.0" fill="#ead5c9"/>
<circle cx="1336.0" cy="1978.1" r="9.0" fill="#6788ee"/>
<circle cx="1217.2" cy="1990.3" r="9.0" fill="#7093f3"/>
<circle cx="1322.2" cy="2000.5" r="9.0" fill="#e6d7cf"/>
<circle cx="1237.0" cy="1981.2" r="9.0" fill="#8fb1fe"/>
<circle cx="1320.6" cy="1964.2" r="9.0" fill="#e5d8d1"/>
<circle cx="1350.2" cy="1981.1" r="9.0" fill="#d6dce4"/>
<circle cx="1400.2" cy="1985.1" r="9.0" fill="#c5d6f2"/>
<circle cx="1321.6" cy="1972.7" r="9.0" fill="#96b7ff"/>
<circle cx="1193.8" cy="1958.6" r="9.0" fill="#82a6fb"/>
<circle cx="1240.8" cy="2001.2" r="9.0" fill="#5470de"/>
<circle cx="1437.1" cy="1997.9" r="9.0" fill="#bcd2f7"/>
<circle cx="1251.0" cy="2066.7" r="9.0" fill="#536edd"/>
<circle cx="1239.5" cy="2076.1" r="9.0" fill="#3d50c3"/>
<circle cx="1265.7" cy="2059.9" r="9.0" fill="#adc9fd"/>
<circle cx="1249.9" cy="2089.0" r="9.0" fill="#98b9ff"/>
<circle cx="1172.6" cy="2059.2" r="9.0" fill="#3d50c3"/>
<circle cx="1241.9" cy="2083.8" r="9.0" fill="#3e51c5"/>
<circle cx="1332.6" cy="2046.6" r="9.0" fill="#f6a385"/>
<circle cx="1355.2" cy="2070.5" r="9.0" fill="#86a9fc"/>
<circle cx="1244.9" cy="2079.3" r="9.0" fill="#6b8df0"/>
<circle cx="1370.4" cy="2068.9" r="9.0" fill="#f7b79b"/>
<circle cx="1345.8" cy="2069.3" r="9.0" fill="#3e51c5"/>
<circle cx="1236.2" cy="2064.7" r="9.0" fill="#4e68d8"/>
<circle cx="1321.3" cy="2069.9" r="9.0" fill="#f7b497"/>
<circle cx="1332.6" cy="2085.2" r="9.0" fill="#82a6fb"/>
<circle cx="1201.9" cy="2075.7" r="9.0" fill="#c4d5f3"/>
<circle cx="1335.5" cy="2091.4" r="9.0" fill="#ccd9ed"/>
<circle cx="1323.4" cy="2044.9" r="9.0" fill="#aac7fd"/>
<circle cx="1209.7" cy="2051.7" r="9.0" fill="#3b4cc0"/>
<circle cx="1283.1" cy="2046.3" r="9.0" fill="#3c4ec2"/>
<circle cx="1319.1" cy="2090.6" r="9.0" fill="#7093f3"/>
<circle cx="1224.4" cy="2050.2" r="9.0" fill="#5977e3"/>
<circle cx="1235.9" cy="2088.5" r="9.0" fill="#cdd9ec"/>
<circle cx="1236.5" cy="2085.7" r="9.0" fill="#c6d6f1"/>
<circle cx="1289.6" cy="2045.5" r="9.0" fill="#3d50c3"/>
<circle cx="1235.9" cy="2059.6" r="9.0" fill="#4e68d8"/>
<circle cx="1300.8" cy="2073.8" r="9.0" fill="#8caffe"/>
<circle cx="1187.9" cy="2080.6" r="9.0" fill="#3f53c6"/>
<circle cx="1350.4" cy="2080.8" r="9.0" fill="#4f69d9"/>
<circle cx="1216.1" cy="2063.9" r="9.0" fill="#3f53c6"/>
<circle cx="1331.8" cy="2075.9" r="9.0" fill="#97b8ff"/>
<circle cx="1340.5" cy="2045.5" r="9.0" fill="#ccd9ed"/>
<circle cx="1402.5" cy="2079.0" r="9.0" fill="#9ebeff"/>
<circle cx="1379.2" cy="2076.3" r="9.0" fill="#e6d7cf"/>
<circle cx="1283.9" cy="2075.1" r="9.0" fill="#8db0fe"/>
<circle cx="1221.1" cy="2080.1" r="9.0" fill="#a9c6fd"/>
<circle cx="1200.0" cy="2045.5" r="9.0" fill="#d6dce4"/>
<circle cx="1414.1" cy="2052.1" r="9.0" fill="#5a78e4"/>
<circle cx="1327.7" cy="2050.2" r="9.0" fill="#c7d7f0"/>
<circle cx="1220.0" cy="2048.9" r="9.0" fill="#3b4cc0"/>
<circle cx="1216.4" cy="2078.3" r="9.0" fill="#9fbfff"/>
<circle cx="1274.0" cy="2087.6" r="9.0" fill="#3c4ec2"/>
<circle cx="1261.3" cy="2054.0" r="9.0" fill="#84a7fc"/>
<circle cx="1185.3" cy="2091.9" r="9.0" fill="#5875e1"/>
<circle cx="1317.4" cy="2065.0" r="9.0" fill="#90b2fe"/>
<circle cx="1199.0" cy="2077.0" r="9.0" fill="#5e7de7"/>
<circle cx="1217.2" cy="2047.2" r="9.0" fill="#3e51c5"/>
<circle cx="1349.0" cy="2051.5" r="9.0" fill="#f5c4ac"/>
<circle cx="1386.4" cy="2054.1" r="9.0" fill="#a6c4fe"/>
<circle cx="1382.2" cy="2046.9" r="9.0" fill="#f7b497"/>
<circle cx="1311.0" cy="2092.8" r="9.0" fill="#506bda"/>
<circle cx="1310.2" cy="2065.8" r="9.0" fill="#506bda"/>
<circle cx="1277.2" cy="2048.5" r="9.0" fill="#aac7fd"/>
<circle cx="1316.3" cy="2092.3" r="9.0" fill="#5572df"/>
<circle cx="1204.9" cy="2085.1" r="9.0" fill="#c9d7f0"/>
<circle cx="1234.6" cy="2083.7" r="9.0" fill="#3c4ec2"/>
<circle cx="1359.9" cy="2064.5" r="9.0" fill="#f7b89c"/>
<circle cx="1373.0" cy="2068.1" r="9.0" fill="#3f53c6"/>
<circle cx="1223.9" cy="2065.3" r="9.0" fill="#f7ad90"/>
<circle cx="1374.4" cy="2081.5" r="9.0" fill="#e8d6cc"/>
<circle cx="1376.7" cy="2082.6" r="9.0" fill="#86a9fc"/>
<circle cx="1269.8" cy="2052.2" r="9.0" fill="#5572df"/>
<circle cx="1205.0" cy="2048.6" r="9.0" fill="#3b4cc0"/>
<circle cx="1201.7" cy="2049.7" r="9.0" fill="#3e51c5"/>
<circle cx="1172.9" cy="2047.7" r="9.0" fill="#3e51c5"/>
<circle cx="1196.5" cy="2090.8" r="9.0" fill="#80a3fa"/>
<circle cx="1235.7" cy="2053.5" r="9.0" fill="#5e7de7"/>
<circle cx="1406.5" cy="2082.6" r="9.0" fill="#f7a889"/>
<circle cx="1334.0" cy="2048.9" r="9.0" fill="#bcd2f7"/>
<circle cx="1391.7" cy="2083.5" r="9.0" fill="#d5dbe5"/>
<circle cx="1249.4" cy="2067.4" r="9.0" fill="#6b8df0"/>
<circle cx="1195.1" cy="2064.9" r="9.0" fill="#8fb1fe"/>
<circle cx="1337.0" cy="2071.0" r="9.0" fill="#3d50c3"/>
<circle cx="1220.5" cy="2069.2" r="9.0" fill="#5977e3"/>
<circle cx="1273.2" cy="2065.4" r="9.0" fill="#9dbdff"/>
<circle cx="1233.7" cy="2091.1" r="9.0" fill="#d8dce2"/>
<circle cx="1226.8" cy="2075.7" r="9.0" fill="#3c4ec2"/>
<circle cx="1237.4" cy="2074.2" r="9.0" fill="#506bda"/>
<circle cx="1371.2" cy="2054.4" r="9.0" fill="#bcd2f7"/>
<circle cx="1220.0" cy="2081.1" r="9.0" fill="#3e51c5"/>
<circle cx="1241.1" cy="2046.4" r="9.0" fill="#7396f5"/>
<circle cx="1240.2" cy="2048.4" r="9.0" fill="#516ddb"/>
<circle cx="1230.7" cy="2057.8" r="9.0" fill="#9dbdff"/>
<circle cx="1406.9" cy="2045.1" r="9.0" fill="#aac7fd"/>
<circle cx="1259.4" cy="2065.8" r="9.0" fill="#5f7fe8"/>
<circle cx="1372.8" cy="2089.1" r="9.0" fill="#cad8ef"/>
<circle cx="1200.8" cy="2091.9" r="9.0" fill="#9ebeff"/>
<circle cx="1311.1" cy="2052.4" r="9.0" fill="#5572df"/>
<circle cx="1310.2" cy="2070.9" r="9.0" fill="#3e51c5"/>
<circle cx="1265.3" cy="2084.3" r="9.0" fill="#84a7fc"/>
<circle cx="1382.7" cy="2084.9" r="9.0" fill="#bed2f6"/>
<circle cx="1366.1" cy="2048.7" r="9.0" fill="#ccd9ed"/>
<circle cx="1214.9" cy="2046.0" r="9.0" fill="#3d50c3"/>
<circle cx="1313.2" cy="2075.7" r="9.0" fill="#5e7de7"/>
<circle cx="1327.3" cy="2071.5" r="9.0" fill="#3d50c3"/>
<circle cx="1338.6" cy="2065.3" r="9.0" fill="#85a8fc"/>
<circle cx="1238.8" cy="2090.7" r="9.0" fill="#88abfd"/>
<circle cx="1346.6" cy="2071.8" r="9.0" fill="#5a78e4"/>
<circle cx="1295.5" cy="2049.5" r="9.0" fill="#7a9df8"/>
<circle cx="1346.5" cy="2047.7" r="9.0" fill="#a2c1ff"/>
<circle cx="1385.1" cy="2058.6" r="9.0" fill="#516ddb"/>
<circle cx="1267.9" cy="2074.3" r="9.0" fill="#88abfd"/>
<circle cx="1224.1" cy="2066.1" r="9.0" fill="#80a3fa"/>
<circle cx="1359.3" cy="2069.9" r="9.0" fill="#f7bca1"/>
<circle cx="1253.1" cy="2070.0" r="9.0" fill="#f7b497"/>
<circle cx="1342.0" cy="2078.0" r="9.0" fill="#a1c0ff"/>
<circle cx="1229.5" cy="2090.1" r="9.0" fill="#97b8ff"/>
<circle cx="1364.6" cy="2074.9" r="9.0" fill="#5d7ce6"/>
<circle cx="1254.6" cy="2070.7" r="9.0" fill="#7ea1fa"/>
<circle cx="1224.9" cy="2089.5" r="9.0" fill="#c5d6f2"/>
<circle cx="1298.3" cy="2091.5" r="9.0" fill="#97b8ff"/>
<circle cx="1194.6" cy="2044.4" r="9.0" fill="#80a3fa"/>
<circle cx="1251.1" cy="2086.1" r="9.0" fill="#3f53c6"/>
<circle cx="1396.1" cy="2060.2" r="9.0" fill="#7ea1fa"/>
<circle cx="1424.2" cy="2067.6" r="9.0" fill="#bed2f6"/>
<circle cx="1282.9" cy="2045.5" r="9.0" fill="#5a78e4"/>
<circle cx="1358.0" cy="2080.4" r="9.0" fill="#d5dbe5"/>
<circle cx="1303.9" cy="2083.4" r="9.0" fill="#3d50c3"/>
<circle cx="1268.1" cy="2055.3" r="9.0" fill="#d8dce2"/>
<circle cx="1258.7" cy="2082.2" r="9.0" fill="#5673e0"/>
<circle cx="1271.4" cy="2054.2" r="9.0" fill="#9dbdff"/>
<circle cx="1264.9" cy="2082.5" r="9.0" fill="#92b4fe"/>
<circle cx="1240.4" cy="2076.0" r="9.0" fill="#5e7de7"/>
<circle cx="1306.4" cy="2050.2" r="9.0" fill="#3c4ec2"/>
<circle cx="1262.0" cy="2074.7" r="9.0" fill="#7295f4"/>
<circle cx="1342.0" cy="2087.3" r="9.0" fill="#d4dbe6"/>
<circle cx="1270.4" cy="2080.6" r="9.0" fill="#c4d5f3"/>
<circle cx="1251.4" cy="2055.3" r="9.0" fill="#3b4cc0"/>
<circle cx="1231.7" cy="2086.8" r="9.0" fill="#7699f6"/>
<circle cx="1223.3" cy="2051.1" r="9.0" fill="#4f69d9"/>
<circle cx="1220.8" cy="2044.9" r="9.0" fill="#5673e0"/>
<circle cx="1354.7" cy="2087.4" r="9.0" fill="#6485ec"/>
<circle cx="1181.7" cy="2055.2" r="9.0" fill="#4e68d8"/>
<circle cx="1331.1" cy="2083.7" r="9.0" fill="#3e51c5"/>
<circle cx="1368.4" cy="2044.6" r="9.0" fill="#8fb1fe"/>
<circle cx="1313.3" cy="2074.6" r="9.0" fill="#6e90f2"/>
<circle cx="1318.3" cy="2054.9" r="9.0" fill="#98b9ff"/>
<circle cx="1321.8" cy="2093.3" r="9.0" fill="#98b9ff"/>
<circle cx="1363.0" cy="2058.5" r="9.0" fill="#bfd3f6"/>
<circle cx="1343.9" cy="2060.4" r="9.0" fill="#dedcdb"/>
<circle cx="1383.4" cy="2072.5" r="9.0" fill="#5673e0"/>
<circle cx="1194.3" cy="2062.6" r="9.0" fill="#3c4ec2"/>
<circle cx="1242.3" cy="2077.2" r="9.0" fill="#3f53c6"/>
<circle cx="1411.9" cy="2070.1" r="9.0" fill="#9dbdff"/>
<circle cx="1375.1" cy="2066.4" r="9.0" fill="#6485ec"/>
<circle cx="1247.9" cy="2058.5" r="9.0" fill="#5a78e4"/>
<circle cx="1369.8" cy="2068.9" r="9.0" fill="#5673e0"/>
<circle cx="1379.6" cy="2089.1" r="9.0" fill="#93b5fe"/>
<circle cx="1323.2" cy="2058.6" r="9.0" fill="#799cf8"/>
<circle cx="1345.3" cy="2089.5" r="9.0" fill="#f4c5ad"/>
<circle cx="1255.1" cy="2089.0" r="9.0" fill="#5572df"/>
<circle cx="1238.8" cy="2046.6" r="9.0" fill="#5d7ce6"/>
<circle cx="1228.5" cy="2079.7" r="9.0" fill="#5b7ae5"/>
<circle cx="1185.1" cy="2076.0" r="9.0" fill="#98b9ff"/>
<circle cx="1316.2" cy="2087.4" r="9.0" fill="#3d50c3"/>
<circle cx="1308.5" cy="2089.7" r="9.0" fill="#5b7ae5"/>
<circle cx="1283.5" cy="2080.7" r="9.0" fill="#f7b093"/>
<circle cx="1355.4" cy="2080.7" r="9.0" fill="#dbdcde"/>
<circle cx="1199.6" cy="2088.6" r="9.0" fill="#abc8fd"/>
<circle cx="1278.3" cy="2089.4" r="9.0" fill="#3e51c5"/>
<circle cx="1338.4" cy="2094.2" r="9.0" fill="#e3d9d3"/>
<circle cx="1299.9" cy="2068.4" r="9.0" fill="#7ea1fa"/>
<circle cx="1373.9" cy="2052.0" r="9.0" fill="#bad0f8"/>
<circle cx="1365.2" cy="2092.7" r="9.0" fill="#f5c1a9"/>
<circle cx="1188.7" cy="2071.7" r="9.0" fill="#7396f5"/>
<circle cx="1293.7" cy="2090.3" r="9.0" fill="#7da0f9"/>
<circle cx="1310.9" cy="2051.5" r="9.0" fill="#5470de"/>
<circle cx="1269.7" cy="2049.3" r="9.0" fill="#86a9fc"/>
<circle cx="1314.2" cy="2081.2" r="9.0" fill="#3f53c6"/>
<circle cx="1240.1" cy="2065.5" r="9.0" fill="#98b9ff"/>
<circle cx="1339.5" cy="2063.9" r="9.0" fill="#a3c2fe"/>
<circle cx="1292.6" cy="2053.8" r="9.0" fill="#aec9fc"/>
<circle cx="1243.1" cy="2081.3" r="9.0" fill="#aac7fd"/>
<circle cx="1261.2" cy="2081.8" r="9.0" fill="#8fb1fe"/>
<circle cx="1214.3" cy="2068.2" r="9.0" fill="#5572df"/>
<circle cx="1382.1" cy="2063.4" r="9.0" fill="#a9c6fd"/>
<circle cx="1221.0" cy="2067.6" r="9.0" fill="#3e51c5"/>
<circle cx="1385.2" cy="2072.8" r="9.0" fill="#7da0f9"/>
<circle cx="1214.8" cy="2077.7" r="9.0" fill="#5a78e4"/>
<circle cx="1386.0" cy="2048.2" r="9.0" fill="#6687ed"/>
<circle cx="1324.5" cy="2093.5" r="9.0" fill="#a1c0ff"/>
<circle cx="1264.8" cy="2051.8" r="9.0" fill="#3b4cc0"/>
<circle cx="1246.2" cy="2059.1" r="9.0" fill="#3e51c5"/>
<circle cx="1289.5" cy="2088.2" r="9.0" fill="#5673e0"/>
<circle cx="1340.0" cy="2045.9" r="9.0" fill="#bbd1f8"/>
<circle cx="1308.3" cy="2052.5" r="9.0" fill="#9ebeff"/>
<circle cx="1189.5" cy="2093.6" r="9.0" fill="#3b4cc0"/>
<circle cx="1254.3" cy="2066.0" r="9.0" fill="#93b5fe"/>
<circle cx="1202.7" cy="2062.2" r="9.0" fill="#dadce0"/>
<circle cx="1285.5" cy="2090.0" r="9.0" fill="#3e51c5"/>
<circle cx="1405.3" cy="2082.0" r="9.0" fill="#dfdbd9"/>
<circle cx="1189.8" cy="2047.6" r="9.0" fill="#3c4ec2"/>
<circle cx="1248.0" cy="2055.5" r="9.0" fill="#9bbcff"/>
<circle cx="1351.4" cy="2069.6" r="9.0" fill="#e0dbd8"/>
<circle cx="1189.3" cy="2084.4" r="9.0" fill="#f7ad90"/>
<circle cx="1250.8" cy="2085.3" r="9.0" fill="#4e68d8"/>
<circle cx="1342.0" cy="2048.3" r="9.0" fill="#f5c2aa"/>
<circle cx="1377.8" cy="2055.3" r="9.0" fill="#5e7de7"/>
<circle cx="1313.1" cy="2056.3" r="9.0" fill="#7b9ff9"/>
<circle cx="1264.2" cy="2090.9" r="9.0" fill="#a5c3fe"/>
<circle cx="1385.8" cy="2078.5" r="9.0" fill="#a1c0ff"/>
<circle cx="1303.5" cy="2148.1" r="9.0" fill="#dfdbd9"/>
<circle cx="1300.1" cy="2139.2" r="9.0" fill="#3e51c5"/>
<circle cx="1341.6" cy="2149.5" r="9.0" fill="#f29072"/>
<circle cx="1281.1" cy="2183.6" r="9.0" fill="#4e68d8"/>
<circle cx="1377.9" cy="2161.6" r="9.0" fill="#cb3e38"/>
<circle cx="1311.1" cy="2177.8" r="9.0" fill="#d2dbe8"/>
<circle cx="1212.7" cy="2183.5" r="9.0" fill="#4e68d8"/>
<circle cx="1351.6" cy="2179.7" r="9.0" fill="#3e51c5"/>
<circle cx="1196.0" cy="2181.6" r="9.0" fill="#4c66d6"/>
<circle cx="1357.9" cy="2145.6" r="9.0" fill="#bed2f6"/>
<circle cx="1290.6" cy="2173.0" r="9.0" fill="#3e51c5"/>
<circle cx="1307.7" cy="2161.3" r="9.0" fill="#536edd"/>
<circle cx="1373.7" cy="2179.1" r="9.0" fill="#89acfd"/>
<circle cx="1195.2" cy="2171.3" r="9.0" fill="#3d50c3"/>
<circle cx="1231.4" cy="2149.1" r="9.0" fill="#536edd"/>
<circle cx="1364.1" cy="2134.7" r="9.0" fill="#a9c6fd"/>
<circle cx="1266.7" cy="2163.2" r="9.0" fill="#3c4ec2"/>
<circle cx="1212.6" cy="2141.2" r="9.0" fill="#3c4ec2"/>
<circle cx="1344.2" cy="2179.7" r="9.0" fill="#f2c9b4"/>
<circle cx="1375.3" cy="2138.3" r="9.0" fill="#e4d9d2"/>
<circle cx="1319.8" cy="2137.9" r="9.0" fill="#cfdaea"/>
<circle cx="1299.0" cy="2146.9" r="9.0" fill="#3c4ec2"/>
<circle cx="1327.3" cy="2158.0" r="9.0" fill="#9dbdff"/>
<circle cx="1279.3" cy="2182.0" r="9.0" fill="#3c4ec2"/>
<circle cx="1255.4" cy="2135.1" r="9.0" fill="#3e51c5"/>
<circle cx="1282.6" cy="2178.3" r="9.0" fill="#3e51c5"/>
<circle cx="1367.3" cy="2152.1" r="9.0" fill="#bb1b2c"/>
<circle cx="1244.0" cy="2151.4" r="9.0" fill="#3e51c5"/>
<circle cx="1299.6" cy="2168.9" r="9.0" fill="#3d50c3"/>
<circle cx="1290.8" cy="2158.9" r="9.0" fill="#3d50c3"/>
<circle cx="1185.0" cy="2175.0" r="9.0" fill="#4c66d6"/>
<circle cx="1258.9" cy="2147.0" r="9.0" fill="#3f53c6"/>
<circle cx="1169.4" cy="2164.3" r="9.0" fill="#80a3fa"/>
<circle cx="1379.7" cy="2175.5" r="9.0" fill="#4e68d8"/>
<circle cx="1347.0" cy="2176.2" r="9.0" fill="#d6dce4"/>
<circle cx="1211.5" cy="2160.6" r="9.0" fill="#3e51c5"/>
<circle cx="1234.4" cy="2174.6" r="9.0" fill="#90b2fe"/>
<circle cx="1196.8" cy="2171.2" r="9.0" fill="#4c66d6"/>
<circle cx="1375.3" cy="2147.9" r="9.0" fill="#8db0fe"/>
<circle cx="1301.4" cy="2145.8" r="9.0" fill="#8badfd"/>
<circle cx="1211.2" cy="2149.2" r="9.0" fill="#3d50c3"/>
<circle cx="1245.0" cy="2182.9" r="9.0" fill="#3b4cc0"/>
<circle cx="1235.4" cy="2153.1" r="9.0" fill="#4c66d6"/>
<circle cx="1222.2" cy="2161.6" r="9.0" fill="#3e51c5"/>
<circle cx="1258.4" cy="2181.5" r="9.0" fill="#3e51c5"/>
<circle cx="1200.9" cy="2169.2" r="9.0" fill="#3d50c3"/>
<circle cx="1253.4" cy="2173.6" r="9.0" fill="#3c4ec2"/>
<circle cx="1221.0" cy="2143.2" r="9.0" fill="#3b4cc0"/>
<circle cx="1269.4" cy="2152.6" r="9.0" fill="#516ddb"/>
<circle cx="1209.2" cy="2150.6" r="9.0" fill="#3c4ec2"/>
<circle cx="1387.1" cy="2176.8" r="9.0" fill="#f7af91"/>
<circle cx="1206.6" cy="2138.9" r="9.0" fill="#7699f6"/>
<circle cx="1325.0" cy="2145.5" r="9.0" fill="#5a78e4"/>
<circle cx="1343.7" cy="2155.5" r="9.0" fill="#7a9df8"/>
<circle cx="1275.6" cy="2149.4" r="9.0" fill="#3e51c5"/>
<circle cx="1194.0" cy="2167.4" r="9.0" fill="#3d50c3"/>
<circle cx="1232.6" cy="2180.7" r="9.0" fill="#3c4ec2"/>
<circle cx="1248.7" cy="2151.8" r="9.0" fill="#799cf8"/>
<circle cx="1226.8" cy="2156.4" r="9.0" fill="#3f53c6"/>
<circle cx="1342.0" cy="2180.6" r="9.0" fill="#96b7ff"/>
<circle cx="1334.7" cy="2172.1" r="9.0" fill="#93b5fe"/>
<circle cx="1302.1" cy="2176.3" r="9.0" fill="#cfdaea"/>
<circle cx="1402.6" cy="2158.3" r="9.0" fill="#93b5fe"/>
<circle cx="1381.9" cy="2157.7" r="9.0" fill="#cb3e38"/>
<circle cx="1184.8" cy="2146.5" r="9.0" fill="#3b4cc0"/>
<circle cx="1278.8" cy="2138.0" r="9.0" fill="#3e51c5"/>
<circle cx="1235.9" cy="2146.8" r="9.0" fill="#4c66d6"/>
<circle cx="1200.6" cy="2160.5" r="9.0" fill="#506bda"/>
<circle cx="1330.7" cy="2178.7" r="9.0" fill="#ba162b"/>
<circle cx="1221.3" cy="2152.3" r="9.0" fill="#3d50c3"/>
<circle cx="1316.6" cy="2134.0" r="9.0" fill="#f4c6af"/>
<circle cx="1295.1" cy="2141.1" r="9.0" fill="#3e51c5"/>
<circle cx="1396.0" cy="2139.1" r="9.0" fill="#ccd9ed"/>
<circle cx="1228.9" cy="2174.1" r="9.0" fill="#506bda"/>
<circle cx="1246.1" cy="2138.5" r="9.0" fill="#3c4ec2"/>
<circle cx="1320.1" cy="2148.8" r="9.0" fill="#7699f6"/>
<circle cx="1214.7" cy="2177.5" r="9.0" fill="#3c4ec2"/>
<circle cx="1281.7" cy="2171.9" r="9.0" fill="#5673e0"/>
<circle cx="1314.1" cy="2169.9" r="9.0" fill="#a7c5fe"/>
<circle cx="1367.0" cy="2137.2" r="9.0" fill="#779af7"/>
<circle cx="1229.1" cy="2143.7" r="9.0" fill="#3d50c3"/>
<circle cx="1197.2" cy="2174.4" r="9.0" fill="#3b4cc0"/>
<circle cx="1278.5" cy="2146.8" r="9.0" fill="#3e51c5"/>
<circle cx="1278.8" cy="2140.1" r="9.0" fill="#4f69d9"/>
<circle cx="1353.3" cy="2173.2" r="9.0" fill="#3b4cc0"/>
<circle cx="1218.6" cy="2160.2" r="9.0" fill="#3d50c3"/>
<circle cx="1350.7" cy="2139.8" r="9.0" fill="#3b4cc0"/>
<circle cx="1235.4" cy="2169.3" r="9.0" fill="#6282ea"/>
<circle cx="1172.0" cy="2134.4" r="9.0" fill="#536edd"/>
<circle cx="1244.1" cy="2163.3" r="9.0" fill="#6c8ff1"/>
<circle cx="1224.3" cy="2166.7" r="9.0" fill="#4e68d8"/>
<circle cx="1292.1" cy="2179.8" r="9.0" fill="#3b4cc0"/>
<circle cx="1198.0" cy="2179.5" r="9.0" fill="#3b4cc0"/>
<circle cx="1264.6" cy="2166.5" r="9.0" fill="#3c4ec2"/>
<circle cx="1224.4" cy="2181.3" r="9.0" fill="#3d50c3"/>
<circle cx="1373.8" cy="2168.6" r="9.0" fill="#adc9fd"/>
<circle cx="1282.9" cy="2158.6" r="9.0" fill="#3c4ec2"/>
<circle cx="1339.4" cy="2146.5" r="9.0" fill="#9bbcff"/>
<circle cx="1189.3" cy="2141.7" r="9.0" fill="#3c4ec2"/>
<circle cx="1184.3" cy="2139.3" r="9.0" fill="#3d50c3"/>
<circle cx="1255.1" cy="2175.9" r="9.0" fill="#3e51c5"/>
<circle cx="1193.0" cy="2179.8" r="9.0" fill="#4c66d6"/>
<circle cx="1314.6" cy="2160.7" r="9.0" fill="#b5cdfa"/>
<circle cx="1201.7" cy="2138.1" r="9.0" fill="#3c4ec2"/>
<circle cx="1304.9" cy="2174.8" r="9.0" fill="#3e51c5"/>
<circle cx="1342.9" cy="2179.4" r="9.0" fill="#f29274"/>
<circle cx="1253.3" cy="2175.1" r="9.0" fill="#3e51c5"/>
<circle cx="1344.3" cy="2144.5" r="9.0" fill="#96b7ff"/>
<circle cx="1365.3" cy="2165.3" r="9.0" fill="#e2dad5"/>
<circle cx="1353.7" cy="2140.3" r="9.0" fill="#cf453c"/>
<circle cx="1337.1" cy="2151.8" r="9.0" fill="#3c4ec2"/>
<circle cx="1392.4" cy="2174.3" r="9.0" fill="#9abbff"/>
<circle cx="1308.5" cy="2155.7" r="9.0" fill="#f29072"/>
<circle cx="1317.6" cy="2173.7" r="9.0" fill="#b1cbfc"/>
<circle cx="1360.5" cy="2159.9" r="9.0" fill="#4f69d9"/>
<circle cx="1280.5" cy="2163.2" r="9.0" fill="#3d50c3"/>
<circle cx="1207.0" cy="2147.5" r="9.0" fill="#a7c5fe"/>
<circle cx="1256.1" cy="2156.3" r="9.0" fill="#3b4cc0"/>
<circle cx="1334.2" cy="2134.1" r="9.0" fill="#c9d7f0"/>
<circle cx="1253.0" cy="2164.3" r="9.0" fill="#3d50c3"/>
<circle cx="1233.5" cy="2145.0" r="9.0" fill="#3e51c5"/>
<circle cx="1349.3" cy="2174.8" r="9.0" fill="#bcd2f7"/>
<circle cx="1267.2" cy="2171.3" r="9.0" fill="#6b8df0"/>
<circle cx="1354.2" cy="2147.3" r="9.0" fill="#a1c0ff"/>
<circle cx="1304.1" cy="2165.2" r="9.0" fill="#aac7fd"/>
<circle cx="1341.8" cy="2161.3" r="9.0" fill="#3f53c6"/>
<circle cx="1377.0" cy="2172.1" r="9.0" fill="#84a7fc"/>
<circle cx="1296.7" cy="2179.4" r="9.0" fill="#3c4ec2"/>
<circle cx="1179.9" cy="2181.8" r="9.0" fill="#7a9df8"/>
<circle cx="1380.5" cy="2147.7" r="9.0" fill="#dadce0"/>
<circle cx="1290.0" cy="2141.4" r="9.0" fill="#3f53c6"/>
<circle cx="1218.2" cy="2176.9" r="9.0" fill="#3c4ec2"/>
<circle cx="1378.5" cy="2173.4" r="9.0" fill="#bad0f8"/>
<circle cx="1292.1" cy="2133.7" r="9.0" fill="#7a9df8"/>
<circle cx="1276.6" cy="2138.7" r="9.0" fill="#3e51c5"/>
<circle cx="1316.0" cy="2133.9" r="9.0" fill="#84a7fc"/>
<circle cx="1381.8" cy="2149.9" r="9.0" fill="#f5c1a9"/>
<circle cx="1328.7" cy="2173.0" r="9.0" fill="#92b4fe"/>
<circle cx="1347.2" cy="2176.9" r="9.0" fill="#3d50c3"/>
<circle cx="1219.0" cy="2160.3" r="9.0" fill="#5875e1"/>
<circle cx="1296.2" cy="2157.9" r="9.0" fill="#3e51c5"/>
<circle cx="1380.2" cy="2180.5" r="9.0" fill="#84a7fc"/>
<circle cx="1299.8" cy="2147.3" r="9.0" fill="#516ddb"/>
<circle cx="1244.8" cy="2143.3" r="9.0" fill="#3e51c5"/>
<circle cx="1232.8" cy="2160.1" r="9.0" fill="#506bda"/>
<circle cx="1383.3" cy="2156.9" r="9.0" fill="#93b5fe"/>
<circle cx="1318.3" cy="2146.9" r="9.0" fill="#8fb1fe"/>
<circle cx="1221.6" cy="2161.2" r="9.0" fill="#adc9fd"/>
<circle cx="1242.1" cy="2176.6" r="9.0" fill="#3e51c5"/>
<circle cx="1265.2" cy="2181.8" r="9.0" fill="#5d7ce6"/>
<circle cx="1391.0" cy="2180.6" r="9.0" fill="#bcd2f7"/>
<circle cx="1312.4" cy="2165.2" r="9.0" fill="#f5a081"/>
<circle cx="1244.9" cy="2145.6" r="9.0" fill="#3f53c6"/>
<circle cx="1280.0" cy="2136.4" r="9.0" fill="#6c8ff1"/>
<circle cx="1369.4" cy="2173.5" r="9.0" fill="#dbdcde"/>
<circle cx="1307.4" cy="2152.1" r="9.0" fill="#7699f6"/>
<circle cx="1270.1" cy="2180.3" r="9.0" fill="#5f7fe8"/>
<circle cx="1212.6" cy="2137.6" r="9.0" fill="#4c66d6"/>
<circle cx="1276.8" cy="2150.1" r="9.0" fill="#3b4cc0"/>
<circle cx="1179.1" cy="2178.0" r="9.0" fill="#3b4cc0"/>
<circle cx="1315.3" cy="2135.2" r="9.0" fill="#3f53c6"/>
<circle cx="1396.3" cy="2142.4" r="9.0" fill="#5673e0"/>
<circle cx="1327.2" cy="2150.5" r="9.0" fill="#8db0fe"/>
<circle cx="1242.3" cy="2162.3" r="9.0" fill="#4e68d8"/>
<circle cx="1329.8" cy="2146.0" r="9.0" fill="#3e51c5"/>
<circle cx="1408.4" cy="2153.9" r="9.0" fill="#e2dad5"/>
<circle cx="1325.4" cy="2167.7" r="9.0" fill="#7da0f9"/>
<circle cx="1209.9" cy="2168.5" r="9.0" fill="#5470de"/>
<circle cx="1276.3" cy="2172.1" r="9.0" fill="#3d50c3"/>
<circle cx="1177.9" cy="2153.0" r="9.0" fill="#3c4ec2"/>
<circle cx="1388.5" cy="2160.9" r="9.0" fill="#abc8fd"/>
<circle cx="1303.4" cy="2174.0" r="9.0" fill="#bcd2f7"/>
<circle cx="1379.7" cy="2166.3" r="9.0" fill="#82a6fb"/>
<circle cx="1221.1" cy="2158.5" r="9.0" fill="#3d50c3"/>
<circle cx="1193.1" cy="2142.5" r="9.0" fill="#5e7de7"/>
<circle cx="1220.9" cy="2179.4" r="9.0" fill="#3c4ec2"/>
<circle cx="1181.2" cy="2149.4" r="9.0" fill="#4f69d9"/>
<circle cx="1317.1" cy="2172.4" r="9.0" fill="#5a78e4"/>
<circle cx="1379.0" cy="2139.9" r="9.0" fill="#bad0f8"/>
<circle cx="1243.7" cy="2152.6" r="9.0" fill="#3b4cc0"/>
<circle cx="1396.1" cy="2150.6" r="9.0" fill="#d3dbe7"/>
<circle cx="1258.9" cy="2163.6" r="9.0" fill="#6b8df0"/>
<circle cx="1217.6" cy="2182.8" r="9.0" fill="#506bda"/>
<circle cx="1271.8" cy="2183.2" r="9.0" fill="#3c4ec2"/>
<circle cx="1340.3" cy="2152.6" r="9.0" fill="#bad0f8"/>
<circle cx="1373.9" cy="2146.1" r="9.0" fill="#dedcdb"/>
<circle cx="1314.6" cy="2179.1" r="9.0" fill="#bcd2f7"/>
<circle cx="1349.5" cy="2153.5" r="9.0" fill="#84a7fc"/>
<circle cx="1354.1" cy="2154.7" r="9.0" fill="#d3dbe7"/>
<circle cx="1206.4" cy="2156.6" r="9.0" fill="#3d50c3"/>
<circle cx="1019.1" cy="1641.3" r="9.0" fill="#3b4cc0"/>
<circle cx="1043.4" cy="1597.7" r="9.0" fill="#3b4cc0"/>
<circle cx="1065.9" cy="1611.4" r="9.0" fill="#3b4cc0"/>
<circle cx="1046.9" cy="1639.9" r="9.0" fill="#b40426"/>
<circle cx="1059.3" cy="1630.1" r="9.0" fill="#b40426"/>
<circle cx="1070.2" cy="1630.8" r="9.0" fill="#b40426"/>
<circle cx="1072.6" cy="1635.7" r="9.0" fill="#b40426"/>
<circle cx="1084.6" cy="1631.5" r="9.0" fill="#3b4cc0"/>
<circle cx="1090.9" cy="1633.6" r="9.0" fill="#3b4cc0"/>
<circle cx="1083.9" cy="1647.7" r="9.0" fill="#3b4cc0"/>
<circle cx="1104.6" cy="1603.1" r="9.0" fill="#3b4cc0"/>
<circle cx="1121.2" cy="1604.7" r="9.0" fill="#3b4cc0"/>
<circle cx="1119.1" cy="1609.7" r="9.0" fill="#b40426"/>
<circle cx="1119.1" cy="1618.8" r="9.0" fill="#b40426"/>
<circle cx="1110.0" cy="1630.8" r="9.0" fill="#3b4cc0"/>
<circle cx="1128.9" cy="1639.2" r="9.0" fill="#b40426"/>
<circle cx="1138.8" cy="1611.8" r="9.0" fill="#3b4cc0"/>
<circle cx="1137.4" cy="1625.2" r="9.0" fill="#3b4cc0"/>
<circle cx="1148.0" cy="1643.5" r="9.0" fill="#b40426"/>
<circle cx="1155.0" cy="1625.9" r="9.0" fill="#b40426"/>
<circle cx="1153.6" cy="1642.8" r="9.0" fill="#b40426"/>
<circle cx="1157.5" cy="1596.3" r="9.0" fill="#3b4cc0"/>
<circle cx="1152.2" cy="1620.2" r="9.0" fill="#3b4cc0"/>
<circle cx="1400.8" cy="1594.8" r="9.0" fill="#3b4cc0"/>
<circle cx="1443.7" cy="1602.2" r="9.0" fill="#b40426"/>
<circle cx="1458.8" cy="1614.9" r="9.0" fill="#3b4cc0"/>
<circle cx="1460.5" cy="1613.2" r="9.0" fill="#3b4cc0"/>
<circle cx="1457.2" cy="1638.4" r="9.0" fill="#3b4cc0"/>
<circle cx="1441.0" cy="1643.4" r="9.0" fill="#3b4cc0"/>
<circle cx="1441.0" cy="1640.0" r="9.0" fill="#b40426"/>
<circle cx="1416.2" cy="1641.7" r="9.0" fill="#3b4cc0"/>
<circle cx="1386.7" cy="1642.4" r="9.0" fill="#b40426"/>
<circle cx="1418.6" cy="1619.9" r="9.0" fill="#b40426"/>
<circle cx="1413.5" cy="1613.2" r="9.0" fill="#b40426"/>
<circle cx="1406.8" cy="1608.9" r="9.0" fill="#b40426"/>
<circle cx="1393.4" cy="1609.9" r="9.0" fill="#b40426"/>
<circle cx="1405.2" cy="1616.6" r="9.0" fill="#3b4cc0"/>
<circle cx="1381.7" cy="1628.3" r="9.0" fill="#3b4cc0"/>
<circle cx="1489.0" cy="1598.1" r="9.0" fill="#b40426"/>
<circle cx="1487.3" cy="1633.4" r="9.0" fill="#b40426"/>
<circle cx="1516.9" cy="1619.9" r="9.0" fill="#b40426"/>
<circle cx="1536.0" cy="1625.0" r="9.0" fill="#b40426"/>
<circle cx="1539.3" cy="1602.2" r="9.0" fill="#b40426"/>
<circle cx="1582.3" cy="1613.2" r="9.0" fill="#b40426"/>
<circle cx="1909.4" cy="1603.2" r="9.0" fill="#b40426"/>
<circle cx="1034.2" cy="1716.7" r="9.0" fill="#3e51c5"/>
<circle cx="1080.0" cy="1699.8" r="9.0" fill="#afcafc"/>
<circle cx="1073.1" cy="1711.0" r="9.0" fill="#3e51c5"/>
<circle cx="1075.9" cy="1721.9" r="9.0" fill="#3e51c5"/>
<circle cx="1117.0" cy="1695.5" r="9.0" fill="#3e51c5"/>
<circle cx="1112.5" cy="1713.4" r="9.0" fill="#6a8bef"/>
<circle cx="1107.8" cy="1727.9" r="9.0" fill="#6a8bef"/>
<circle cx="1103.6" cy="1736.4" r="9.0" fill="#6a8bef"/>
<circle cx="1114.2" cy="1738.5" r="9.0" fill="#3e51c5"/>
<circle cx="1121.2" cy="1733.5" r="9.0" fill="#3e51c5"/>
<circle cx="1143.0" cy="1707.5" r="9.0" fill="#3e51c5"/>
<circle cx="1150.8" cy="1727.2" r="9.0" fill="#82a6fb"/>
<circle cx="1167.7" cy="1735.0" r="9.0" fill="#3e51c5"/>
<circle cx="1477.3" cy="1687.0" r="9.0" fill="#3e51c5"/>
<circle cx="1488.0" cy="1686.0" r="9.0" fill="#9ebeff"/>
<circle cx="1531.0" cy="1690.4" r="9.0" fill="#dddcdc"/>
<circle cx="1551.8" cy="1708.2" r="9.0" fill="#dddcdc"/>
<circle cx="1559.5" cy="1719.9" r="9.0" fill="#3e51c5"/>
<circle cx="1594.7" cy="1699.8" r="9.0" fill="#f7b396"/>
<circle cx="1650.0" cy="1695.4" r="9.0" fill="#afcafc"/>
<circle cx="1664.5" cy="1735.0" r="9.0" fill="#f4987a"/>
<circle cx="1484.0" cy="1706.5" r="9.0" fill="#3e51c5"/>
<circle cx="1505.8" cy="1719.6" r="9.0" fill="#6a8bef"/>
<circle cx="1486.7" cy="1727.3" r="9.0" fill="#82a6fb"/>
<circle cx="1467.2" cy="1725.6" r="9.0" fill="#e9d5cb"/>
<circle cx="1467.9" cy="1703.8" r="9.0" fill="#7b9ff9"/>
<circle cx="1452.1" cy="1735.7" r="9.0" fill="#3e51c5"/>
<circle cx="1442.1" cy="1734.0" r="9.0" fill="#b40426"/>
<circle cx="1445.4" cy="1697.1" r="9.0" fill="#e9d5cb"/>
<circle cx="1423.6" cy="1720.6" r="9.0" fill="#b40426"/>
<circle cx="1396.8" cy="1702.1" r="9.0" fill="#cfdaea"/>
<circle cx="1040.5" cy="1781.7" r="9.0" fill="#3e51c5"/>
<circle cx="1070.5" cy="1808.2" r="9.0" fill="#3e51c5"/>
<circle cx="1103.3" cy="1776.5" r="9.0" fill="#3e51c5"/>
<circle cx="1120.8" cy="1794.4" r="9.0" fill="#6a8bef"/>
<circle cx="1136.7" cy="1804.3" r="9.0" fill="#3e51c5"/>
<circle cx="1133.2" cy="1818.6" r="9.0" fill="#3e51c5"/>
<circle cx="1146.5" cy="1811.3" r="9.0" fill="#3e51c5"/>
<circle cx="1157.1" cy="1817.6" r="9.0" fill="#3e51c5"/>
<circle cx="1155.0" cy="1782.4" r="9.0" fill="#3e51c5"/>
<circle cx="1167.0" cy="1781.0" r="9.0" fill="#6a8bef"/>
<circle cx="1171.9" cy="1824.7" r="9.0" fill="#3c4ec2"/>
<circle cx="1457.8" cy="1774.5" r="9.0" fill="#9ebeff"/>
<circle cx="1454.5" cy="1779.2" r="9.0" fill="#9ebeff"/>
<circle cx="1442.1" cy="1785.2" r="9.0" fill="#f4c6af"/>
<circle cx="1449.8" cy="1796.9" r="9.0" fill="#f6bda2"/>
<circle cx="1434.7" cy="1800.3" r="9.0" fill="#e2dad5"/>
<circle cx="1507.5" cy="1780.2" r="9.0" fill="#f7b396"/>
<circle cx="1533.6" cy="1777.5" r="9.0" fill="#e9d5cb"/>
<circle cx="1557.1" cy="1783.5" r="9.0" fill="#cfdaea"/>
<circle cx="1485.0" cy="1809.3" r="9.0" fill="#afcafc"/>
<circle cx="1473.3" cy="1817.7" r="9.0" fill="#cfdaea"/>
<circle cx="1432.0" cy="1823.8" r="9.0" fill="#8db0fe"/>
<circle cx="1419.6" cy="1817.1" r="9.0" fill="#f7b396"/>
<circle cx="1404.2" cy="1823.8" r="9.0" fill="#afcafc"/>
<circle cx="1393.4" cy="1823.8" r="9.0" fill="#b40426"/>
<circle cx="1652.4" cy="1798.6" r="9.0" fill="#b40426"/>
<circle cx="1702.0" cy="1826.1" r="9.0" fill="#b40426"/>
<circle cx="1408.5" cy="1775.1" r="9.0" fill="#e9d5cb"/>
<circle cx="1398.5" cy="1808.7" r="9.0" fill="#9ebeff"/>
<circle cx="1393.4" cy="1793.6" r="9.0" fill="#b40426"/>
<circle cx="1418.6" cy="1788.5" r="9.0" fill="#f6a586"/>
<circle cx="1098.1" cy="1872.1" r="9.0" fill="#3e51c5"/>
<circle cx="1098.1" cy="1896.5" r="9.0" fill="#3e51c5"/>
<circle cx="1049.1" cy="1911.0" r="9.0" fill="#3e51c5"/>
<circle cx="1054.3" cy="1911.0" r="9.0" fill="#3e51c5"/>
<circle cx="1103.3" cy="1916.2" r="9.0" fill="#6a8bef"/>
<circle cx="1121.9" cy="1908.2" r="9.0" fill="#3e51c5"/>
<circle cx="1135.3" cy="1900.7" r="9.0" fill="#3e51c5"/>
<circle cx="1140.2" cy="1914.1" r="9.0" fill="#3e51c5"/>
<circle cx="1141.6" cy="1888.7" r="9.0" fill="#3e51c5"/>
<circle cx="1147.2" cy="1895.8" r="9.0" fill="#3e51c5"/>
<circle cx="1159.2" cy="1888.7" r="9.0" fill="#3e51c5"/>
<circle cx="1162.0" cy="1863.4" r="9.0" fill="#3e51c5"/>
<circle cx="1463.9" cy="1862.3" r="9.0" fill="#9ebeff"/>
<circle cx="1472.3" cy="1867.4" r="9.0" fill="#5f7fe8"/>
<circle cx="1463.2" cy="1870.7" r="9.0" fill="#f4c6af"/>
<circle cx="1518.5" cy="1865.7" r="9.0" fill="#f4987a"/>
<circle cx="1500.1" cy="1894.9" r="9.0" fill="#82a6fb"/>
<circle cx="1493.4" cy="1910.3" r="9.0" fill="#3e51c5"/>
<circle cx="1461.5" cy="1912.7" r="9.0" fill="#ee8468"/>
<circle cx="1445.4" cy="1892.5" r="9.0" fill="#dddcdc"/>
<circle cx="1445.4" cy="1900.9" r="9.0" fill="#cfdaea"/>
<circle cx="1427.0" cy="1892.5" r="9.0" fill="#5f7fe8"/>
<circle cx="1404.2" cy="1908.6" r="9.0" fill="#b40426"/>
<circle cx="1408.5" cy="1915.3" r="9.0" fill="#f4987a"/>
<circle cx="1432.0" cy="1877.4" r="9.0" fill="#8db0fe"/>
<circle cx="1396.1" cy="1862.3" r="9.0" fill="#f4987a"/>
<circle cx="1033.2" cy="1957.4" r="9.0" fill="#e9d5cb"/>
<circle cx="1117.7" cy="1978.6" r="9.0" fill="#5977e3"/>
<circle cx="1131.8" cy="1963.8" r="9.0" fill="#9ebeff"/>
<circle cx="1146.3" cy="1953.2" r="9.0" fill="#9ebeff"/>
<circle cx="1145.1" cy="1959.6" r="9.0" fill="#7b9ff9"/>
<circle cx="1138.4" cy="1972.2" r="9.0" fill="#c0d4f5"/>
<circle cx="1158.5" cy="1975.7" r="9.0" fill="#7597f6"/>
<circle cx="1159.2" cy="1997.3" r="9.0" fill="#9ebeff"/>
<circle cx="1177.5" cy="1997.3" r="9.0" fill="#bad0f8"/>
<circle cx="1179.6" cy="1949.7" r="9.0" fill="#afcafc"/>
<circle cx="1198.6" cy="1952.5" r="9.0" fill="#536edd"/>
<circle cx="1186.0" cy="1961.0" r="9.0" fill="#a9c6fd"/>
<circle cx="1493.4" cy="1960.2" r="9.0" fill="#f7b396"/>
<circle cx="1610.1" cy="1993.7" r="9.0" fill="#d7dce3"/>
<circle cx="1445.4" cy="1955.2" r="9.0" fill="#3e51c5"/>
<circle cx="1452.1" cy="1960.2" r="9.0" fill="#e9d5cb"/>
<circle cx="1451.1" cy="1965.2" r="9.0" fill="#e9d5cb"/>
<circle cx="1447.1" cy="1958.5" r="9.0" fill="#5977e3"/>
<circle cx="1426.3" cy="1955.2" r="9.0" fill="#d7dce3"/>
<circle cx="1411.9" cy="1965.2" r="9.0" fill="#5f7fe8"/>
<circle cx="1423.6" cy="1992.1" r="9.0" fill="#cfdaea"/>
<circle cx="1421.9" cy="2000.4" r="9.0" fill="#afcafc"/>
<circle cx="1418.6" cy="1982.0" r="9.0" fill="#e9d5cb"/>
<circle cx="1427.0" cy="1980.3" r="9.0" fill="#9ebeff"/>
<circle cx="1398.5" cy="1985.4" r="9.0" fill="#b40426"/>
<circle cx="1406.8" cy="1980.3" r="9.0" fill="#5f7fe8"/>
<circle cx="1388.4" cy="1961.9" r="9.0" fill="#dddcdc"/>
<circle cx="1386.7" cy="1997.1" r="9.0" fill="#c0d4f5"/>
<circle cx="1102.6" cy="2072.9" r="9.0" fill="#9ebeff"/>
<circle cx="1099.0" cy="2093.3" r="9.0" fill="#3e51c5"/>
<circle cx="1128.2" cy="2094.3" r="9.0" fill="#7b9ff9"/>
<circle cx="1126.8" cy="2050.4" r="9.0" fill="#3e51c5"/>
<circle cx="1139.8" cy="2049.6" r="9.0" fill="#3e51c5"/>
<circle cx="1150.1" cy="2078.9" r="9.0" fill="#3c4ec2"/>
<circle cx="1174.7" cy="2042.6" r="9.0" fill="#9ebeff"/>
<circle cx="1169.8" cy="2051.1" r="9.0" fill="#cfdaea"/>
<circle cx="1181.7" cy="2053.9" r="9.0" fill="#9ebeff"/>
<circle cx="1164.8" cy="2061.6" r="9.0" fill="#6a8bef"/>
<circle cx="1171.2" cy="2065.8" r="9.0" fill="#7b9ff9"/>
<circle cx="1176.1" cy="2088.4" r="9.0" fill="#3e51c5"/>
<circle cx="1188.1" cy="2086.3" r="9.0" fill="#3e51c5"/>
<circle cx="1504.8" cy="2049.8" r="9.0" fill="#b40426"/>
<circle cx="1460.5" cy="2073.2" r="9.0" fill="#3e51c5"/>
<circle cx="1396.1" cy="2044.1" r="9.0" fill="#9ebeff"/>
<circle cx="1398.5" cy="2052.4" r="9.0" fill="#f2cbb7"/>
<circle cx="1404.2" cy="2065.2" r="9.0" fill="#9ebeff"/>
<circle cx="1391.7" cy="2081.0" r="9.0" fill="#3e51c5"/>
<circle cx="1394.1" cy="2093.7" r="9.0" fill="#cfdaea"/>
<circle cx="1102.2" cy="2167.9" r="9.0" fill="#3e51c5"/>
<circle cx="1118.1" cy="2155.9" r="9.0" fill="#82a6fb"/>
<circle cx="1143.0" cy="2160.2" r="9.0" fill="#3e51c5"/>
<circle cx="1164.1" cy="2165.4" r="9.0" fill="#8db0fe"/>
<circle cx="1167.7" cy="2137.6" r="9.0" fill="#3e51c5"/>
<circle cx="1182.4" cy="2136.2" r="9.0" fill="#3e51c5"/>
<circle cx="1180.3" cy="2150.3" r="9.0" fill="#5f7fe8"/>
<circle cx="1189.5" cy="2169.3" r="9.0" fill="#3c4ec2"/>
<circle cx="1193.0" cy="2182.0" r="9.0" fill="#3e51c5"/>
<circle cx="1389.4" cy="2131.3" r="9.0" fill="#8db0fe"/>
<circle cx="1397.4" cy="2140.7" r="9.0" fill="#8db0fe"/>
<circle cx="1456.1" cy="2138.7" r="9.0" fill="#6a8bef"/>
<circle cx="1477.3" cy="2149.7" r="9.0" fill="#a9c6fd"/>
<circle cx="1482.3" cy="2153.1" r="9.0" fill="#97b8ff"/>
<circle cx="1448.1" cy="2159.1" r="9.0" fill="#6a8bef"/>
<circle cx="1462.2" cy="2163.8" r="9.0" fill="#6a8bef"/>
<circle cx="1515.9" cy="2164.2" r="9.0" fill="#6a8bef"/>
<circle cx="1498.1" cy="2171.5" r="9.0" fill="#afcafc"/>
<circle cx="1411.9" cy="2167.5" r="9.0" fill="#8db0fe"/>
<circle cx="1431.0" cy="2183.3" r="9.0" fill="#f2cbb7"/>
<circle cx="1386.7" cy="2161.5" r="9.0" fill="#b40426"/>
<circle cx="1392.7" cy="2174.9" r="9.0" fill="#ee8468"/>
<circle cx="1393.4" cy="2182.3" r="9.0" fill="#5977e3"/>
</g>
<rect x="1011.5" y="1578.3" width="917.1" height="625.0" fill="none" stroke="#000" stroke-width="2.7"/>
<line x1="1129.1" y1="2203.3" x2="1129.1" y2="2216.0" stroke="#000" stroke-width="2.6"/>
<text x="1129.1" y="2255.3" font-size="37" text-anchor="middle">−0.2</text>
<line x1="1293.4" y1="2203.3" x2="1293.4" y2="2216.0" stroke="#000" stroke-width="2.6"/>
<text x="1293.4" y="2255.3" font-size="37" text-anchor="middle">0.0</text>
<line x1="1457.7" y1="2203.3" x2="1457.7" y2="2216.0" stroke="#000" stroke-width="2.6"/>
<text x="1457.7" y="2255.3" font-size="37" text-anchor="middle">0.2</text>
<line x1="1622.0" y1="2203.3" x2="1622.0" y2="2216.0" stroke="#000" stroke-width="2.6"/>
<text x="1622.0" y="2255.3" font-size="37" text-anchor="middle">0.4</text>
<line x1="1786.4" y1="2203.3" x2="1786.4" y2="2216.0" stroke="#000" stroke-width="2.6"/>
<text x="1786.4" y="2255.3" font-size="37" text-anchor="middle">0.6</text>
<text x="1343.4" y="2306.5" font-size="42" textLength="250.8" lengthAdjust="spacingAndGlyphs" font-weight="normal">SHAP values</text>
<line x1="998.5" y1="1622.9" x2="1011.5" y2="1622.9" stroke="#000" stroke-width="2.6"/>
<text x="211.4" y="1636.3" font-size="37.5" textLength="751.5" lengthAdjust="spacingAndGlyphs" font-weight="normal">Blood relative ever received MH/SU services</text>
<line x1="998.5" y1="1712.2" x2="1011.5" y2="1712.2" stroke="#000" stroke-width="2.6"/>
<text x="212.5" y="1725.6" font-size="37.5" textLength="750.8" lengthAdjust="spacingAndGlyphs" font-weight="normal">Parent aggressive behavior syndrome score</text>
<line x1="998.5" y1="1801.5" x2="1011.5" y2="1801.5" stroke="#000" stroke-width="2.6"/>
<text x="186.5" y="1798.4" font-size="37.5" textLength="775.9" lengthAdjust="spacingAndGlyphs" font-weight="normal">Total sleep-wake transition disorder syndrome</text>
<text x="869.1" y="1826.1" font-size="37.5" textLength="94.1" lengthAdjust="spacingAndGlyphs" font-weight="normal">score</text>
<line x1="998.5" y1="1890.8" x2="1011.5" y2="1890.8" stroke="#000" stroke-width="2.6"/>
<text x="434.0" y="1904.2" font-size="37.5" textLength="529.2" lengthAdjust="spacingAndGlyphs" font-weight="normal">Parent anxiety syndrome score</text>
<line x1="998.5" y1="1980.1" x2="1011.5" y2="1980.1" stroke="#000" stroke-width="2.6"/>
<text x="310.9" y="1993.5" font-size="37.5" textLength="652.3" lengthAdjust="spacingAndGlyphs" font-weight="normal">Parent total problems syndrome score</text>
<line x1="998.5" y1="2069.4" x2="1011.5" y2="2069.4" stroke="#000" stroke-width="2.6"/>
<text x="166.9" y="2066.3" font-size="37.5" textLength="797.2" lengthAdjust="spacingAndGlyphs" font-weight="normal">Child has seen clinician for medical issue other</text>
<text x="591.6" y="2094.0" font-size="37.5" textLength="371.6" lengthAdjust="spacingAndGlyphs" font-weight="normal">than regular checkup</text>
<line x1="998.5" y1="2158.7" x2="1011.5" y2="2158.7" stroke="#000" stroke-width="2.6"/>
<text x="116.7" y="2155.6" font-size="37.5" textLength="846.0" lengthAdjust="spacingAndGlyphs" font-weight="normal">Total disorder of excessive somnolence syndrome</text>
<text x="869.1" y="2183.3" font-size="37.5" textLength="94.1" lengthAdjust="spacingAndGlyphs" font-weight="normal">score</text>
<text transform="translate(38.3,2006.8) rotate(-90)" x="0" y="0" font-size="55" textLength="218.7" lengthAdjust="spacingAndGlyphs">Features</text>
<text x="0.2" y="1555.0" font-size="35" font-weight="bold" class="b">C</text>
<defs><linearGradient id="cb" x1="0" x2="1" y1="0" y2="0"><stop offset="0.00" stop-color="#3b4cc0"/><stop offset="0.05" stop-color="#4961d2"/><stop offset="0.10" stop-color="#5977e3"/><stop offset="0.15" stop-color="#6a8bef"/><stop offset="0.20" stop-color="#7b9ff9"/><stop offset="0.25" stop-color="#8db0fe"/><stop offset="0.30" stop-color="#9ebeff"/><stop offset="0.35" stop-color="#afcafc"/><stop offset="0.40" stop-color="#c0d4f5"/><stop offset="0.45" stop-color="#cfdaea"/><stop offset="0.50" stop-color="#dddcdc"/><stop offset="0.55" stop-color="#e9d5cb"/><stop offset="0.60" stop-color="#f2cbb7"/><stop offset="0.65" stop-color="#f6bda2"/><stop offset="0.70" stop-color="#f7ac8e"/><stop offset="0.75" stop-color="#f4987a"/><stop offset="0.80" stop-color="#ee8468"/><stop offset="0.85" stop-color="#e36c55"/><stop offset="0.90" stop-color="#d65244"/><stop offset="0.95" stop-color="#c53334"/><stop offset="1.00" stop-color="#b40426"/></linearGradient></defs>
<rect x="1011.5" y="2356.9" width="917.1" height="22.8" fill="url(#cb)" stroke="#000" stroke-width="2.7"/>
<line x1="1011.5" y1="2379.7" x2="1011.5" y2="2392.2" stroke="#000" stroke-width="2.6"/>
<text x="1011.5" y="2431.3" font-size="37" text-anchor="middle">0.0</text>
<line x1="1194.9" y1="2379.7" x2="1194.9" y2="2392.2" stroke="#000" stroke-width="2.6"/>
<text x="1194.9" y="2431.3" font-size="37" text-anchor="middle">0.2</text>
<line x1="1378.3" y1="2379.7" x2="1378.3" y2="2392.2" stroke="#000" stroke-width="2.6"/>
<text x="1378.3" y="2431.3" font-size="37" text-anchor="middle">0.4</text>
<line x1="1561.8" y1="2379.7" x2="1561.8" y2="2392.2" stroke="#000" stroke-width="2.6"/>
<text x="1561.8" y="2431.3" font-size="37" text-anchor="middle">0.6</text>
<line x1="1745.2" y1="2379.7" x2="1745.2" y2="2392.2" stroke="#000" stroke-width="2.6"/>
<text x="1745.2" y="2431.3" font-size="37" text-anchor="middle">0.8</text>
<line x1="1928.6" y1="2379.7" x2="1928.6" y2="2392.2" stroke="#000" stroke-width="2.6"/>
<text x="1928.6" y="2431.3" font-size="37" text-anchor="middle">1.0</text>
<text x="1026.0" y="2489.1" font-size="50" textLength="884.3" lengthAdjust="spacingAndGlyphs" font-weight="normal">Feature values (min-max normalized)</text>
</svg>
</body></html>
